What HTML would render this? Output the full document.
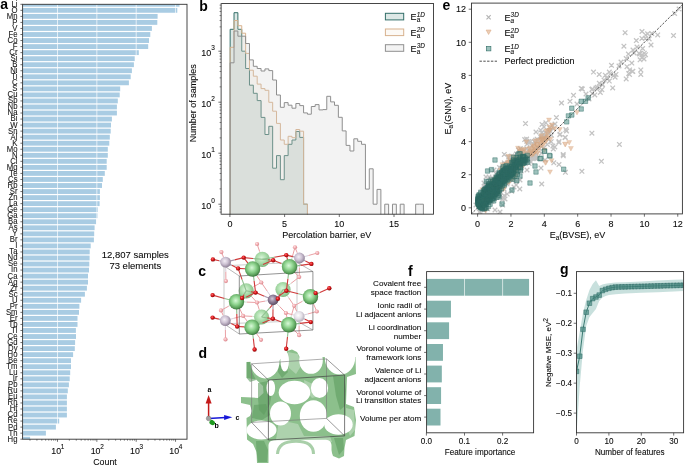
<!DOCTYPE html>
<html><head><meta charset="utf-8"><style>
html,body{margin:0;padding:0;background:#fff;width:685px;height:466px;overflow:hidden}
svg{display:block;will-change:transform}
text{font-family:"Liberation Sans", sans-serif}
text:not([font-weight="bold"]){stroke:#000;stroke-width:0.16px;stroke-opacity:0.5}
</style></head><body>
<svg width="685" height="466" viewBox="0 0 685 466">
<rect width="685" height="466" fill="#fff"/>
<clipPath id="ca"><rect x="22.6" y="4.3" width="164.4" height="434.9"/></clipPath>
<g clip-path="url(#ca)">
<rect x="22.6" y="1.88" width="156.90" height="4.83" fill="#a9cce3"/>
<rect x="22.6" y="7.92" width="154.70" height="4.83" fill="#a9cce3"/>
<rect x="22.6" y="13.96" width="135.00" height="4.83" fill="#a9cce3"/>
<rect x="22.6" y="20.00" width="134.70" height="4.83" fill="#a9cce3"/>
<rect x="22.6" y="26.05" width="129.30" height="4.83" fill="#a9cce3"/>
<rect x="22.6" y="32.09" width="127.70" height="4.83" fill="#a9cce3"/>
<rect x="22.6" y="38.13" width="126.40" height="4.83" fill="#a9cce3"/>
<rect x="22.6" y="44.17" width="125.60" height="4.83" fill="#a9cce3"/>
<rect x="22.6" y="50.21" width="116.20" height="4.83" fill="#a9cce3"/>
<rect x="22.6" y="56.25" width="112.10" height="4.83" fill="#a9cce3"/>
<rect x="22.6" y="62.29" width="111.30" height="4.83" fill="#a9cce3"/>
<rect x="22.6" y="68.33" width="109.30" height="4.83" fill="#a9cce3"/>
<rect x="22.6" y="74.37" width="108.10" height="4.83" fill="#a9cce3"/>
<rect x="22.6" y="80.41" width="106.30" height="4.83" fill="#a9cce3"/>
<rect x="22.6" y="86.45" width="97.60" height="4.83" fill="#a9cce3"/>
<rect x="22.6" y="92.49" width="97.10" height="4.83" fill="#a9cce3"/>
<rect x="22.6" y="98.53" width="95.20" height="4.83" fill="#a9cce3"/>
<rect x="22.6" y="104.57" width="94.30" height="4.83" fill="#a9cce3"/>
<rect x="22.6" y="110.61" width="94.30" height="4.83" fill="#a9cce3"/>
<rect x="22.6" y="116.65" width="89.30" height="4.83" fill="#a9cce3"/>
<rect x="22.6" y="122.69" width="88.40" height="4.83" fill="#a9cce3"/>
<rect x="22.6" y="128.73" width="88.10" height="4.83" fill="#a9cce3"/>
<rect x="22.6" y="134.77" width="87.20" height="4.83" fill="#a9cce3"/>
<rect x="22.6" y="140.81" width="86.70" height="4.83" fill="#a9cce3"/>
<rect x="22.6" y="146.85" width="85.20" height="4.83" fill="#a9cce3"/>
<rect x="22.6" y="152.89" width="85.20" height="4.83" fill="#a9cce3"/>
<rect x="22.6" y="158.93" width="84.10" height="4.83" fill="#a9cce3"/>
<rect x="22.6" y="164.97" width="84.10" height="4.83" fill="#a9cce3"/>
<rect x="22.6" y="171.01" width="82.20" height="4.83" fill="#a9cce3"/>
<rect x="22.6" y="177.05" width="80.20" height="4.83" fill="#a9cce3"/>
<rect x="22.6" y="183.09" width="79.40" height="4.83" fill="#a9cce3"/>
<rect x="22.6" y="189.13" width="77.30" height="4.83" fill="#a9cce3"/>
<rect x="22.6" y="195.17" width="77.30" height="4.83" fill="#a9cce3"/>
<rect x="22.6" y="201.21" width="77.00" height="4.83" fill="#a9cce3"/>
<rect x="22.6" y="207.25" width="75.20" height="4.83" fill="#a9cce3"/>
<rect x="22.6" y="213.29" width="74.90" height="4.83" fill="#a9cce3"/>
<rect x="22.6" y="219.33" width="73.50" height="4.83" fill="#a9cce3"/>
<rect x="22.6" y="225.37" width="72.00" height="4.83" fill="#a9cce3"/>
<rect x="22.6" y="231.41" width="71.60" height="4.83" fill="#a9cce3"/>
<rect x="22.6" y="237.45" width="71.30" height="4.83" fill="#a9cce3"/>
<rect x="22.6" y="243.50" width="68.10" height="4.83" fill="#a9cce3"/>
<rect x="22.6" y="249.54" width="67.10" height="4.83" fill="#a9cce3"/>
<rect x="22.6" y="255.58" width="67.00" height="4.83" fill="#a9cce3"/>
<rect x="22.6" y="261.62" width="66.70" height="4.83" fill="#a9cce3"/>
<rect x="22.6" y="267.66" width="66.40" height="4.83" fill="#a9cce3"/>
<rect x="22.6" y="273.70" width="65.40" height="4.83" fill="#a9cce3"/>
<rect x="22.6" y="279.74" width="65.40" height="4.83" fill="#a9cce3"/>
<rect x="22.6" y="285.78" width="64.30" height="4.83" fill="#a9cce3"/>
<rect x="22.6" y="291.82" width="62.30" height="4.83" fill="#a9cce3"/>
<rect x="22.6" y="297.86" width="58.50" height="4.83" fill="#a9cce3"/>
<rect x="22.6" y="303.90" width="56.80" height="4.83" fill="#a9cce3"/>
<rect x="22.6" y="309.94" width="56.40" height="4.83" fill="#a9cce3"/>
<rect x="22.6" y="315.98" width="54.90" height="4.83" fill="#a9cce3"/>
<rect x="22.6" y="322.02" width="54.90" height="4.83" fill="#a9cce3"/>
<rect x="22.6" y="328.06" width="53.30" height="4.83" fill="#a9cce3"/>
<rect x="22.6" y="334.10" width="53.40" height="4.83" fill="#a9cce3"/>
<rect x="22.6" y="340.14" width="52.50" height="4.83" fill="#a9cce3"/>
<rect x="22.6" y="346.18" width="52.20" height="4.83" fill="#a9cce3"/>
<rect x="22.6" y="352.22" width="50.50" height="4.83" fill="#a9cce3"/>
<rect x="22.6" y="358.26" width="48.40" height="4.83" fill="#a9cce3"/>
<rect x="22.6" y="364.30" width="48.40" height="4.83" fill="#a9cce3"/>
<rect x="22.6" y="370.34" width="47.60" height="4.83" fill="#a9cce3"/>
<rect x="22.6" y="376.38" width="47.10" height="4.83" fill="#a9cce3"/>
<rect x="22.6" y="382.42" width="46.30" height="4.83" fill="#a9cce3"/>
<rect x="22.6" y="388.46" width="45.20" height="4.83" fill="#a9cce3"/>
<rect x="22.6" y="394.50" width="44.30" height="4.83" fill="#a9cce3"/>
<rect x="22.6" y="400.54" width="44.30" height="4.83" fill="#a9cce3"/>
<rect x="22.6" y="406.58" width="44.30" height="4.83" fill="#a9cce3"/>
<rect x="22.6" y="412.62" width="44.30" height="4.83" fill="#a9cce3"/>
<rect x="22.6" y="418.66" width="36.60" height="4.83" fill="#a9cce3"/>
<rect x="22.6" y="424.70" width="33.30" height="4.83" fill="#a9cce3"/>
<rect x="22.6" y="430.74" width="23.30" height="4.83" fill="#a9cce3"/>
<rect x="22.6" y="436.78" width="7.50" height="4.83" fill="#a9cce3"/>
<line x1="57.50" y1="4.30" x2="57.50" y2="439.20" stroke="#ffffff" stroke-width="0.9" opacity="0.75"/>
<line x1="96.85" y1="4.30" x2="96.85" y2="439.20" stroke="#ffffff" stroke-width="0.9" opacity="0.75"/>
<line x1="136.20" y1="4.30" x2="136.20" y2="439.20" stroke="#ffffff" stroke-width="0.9" opacity="0.75"/>
<line x1="175.55" y1="4.30" x2="175.55" y2="439.20" stroke="#ffffff" stroke-width="0.9" opacity="0.75"/>
</g>
<rect x="22.60" y="4.30" width="164.40" height="434.90" fill="none" stroke="#333" stroke-width="0.9"/>
<line x1="20.40" y1="4.30" x2="22.60" y2="4.30" stroke="#333" stroke-width="0.7" />
<text transform="translate(17.5,6.70) scale(0.88,1)" font-size="8.8" text-anchor="end" fill="#1a1a1a">Li</text>
<line x1="20.40" y1="10.34" x2="22.60" y2="10.34" stroke="#333" stroke-width="0.7" />
<text transform="translate(17.5,12.74) scale(0.88,1)" font-size="8.8" text-anchor="end" fill="#1a1a1a">O</text>
<line x1="20.40" y1="16.38" x2="22.60" y2="16.38" stroke="#333" stroke-width="0.7" />
<text transform="translate(17.5,18.78) scale(0.88,1)" font-size="8.8" text-anchor="end" fill="#1a1a1a">Mn</text>
<line x1="20.40" y1="22.42" x2="22.60" y2="22.42" stroke="#333" stroke-width="0.7" />
<text transform="translate(17.5,24.82) scale(0.88,1)" font-size="8.8" text-anchor="end" fill="#1a1a1a">P</text>
<line x1="20.40" y1="28.46" x2="22.60" y2="28.46" stroke="#333" stroke-width="0.7" />
<text transform="translate(17.5,30.86) scale(0.88,1)" font-size="8.8" text-anchor="end" fill="#1a1a1a">V</text>
<line x1="20.40" y1="34.50" x2="22.60" y2="34.50" stroke="#333" stroke-width="0.7" />
<text transform="translate(17.5,36.90) scale(0.88,1)" font-size="8.8" text-anchor="end" fill="#1a1a1a">Fe</text>
<line x1="20.40" y1="40.54" x2="22.60" y2="40.54" stroke="#333" stroke-width="0.7" />
<text transform="translate(17.5,42.94) scale(0.88,1)" font-size="8.8" text-anchor="end" fill="#1a1a1a">Co</text>
<line x1="20.40" y1="46.58" x2="22.60" y2="46.58" stroke="#333" stroke-width="0.7" />
<text transform="translate(17.5,48.98) scale(0.88,1)" font-size="8.8" text-anchor="end" fill="#1a1a1a">F</text>
<line x1="20.40" y1="52.62" x2="22.60" y2="52.62" stroke="#333" stroke-width="0.7" />
<text transform="translate(17.5,55.02) scale(0.88,1)" font-size="8.8" text-anchor="end" fill="#1a1a1a">Cr</text>
<line x1="20.40" y1="58.66" x2="22.60" y2="58.66" stroke="#333" stroke-width="0.7" />
<text transform="translate(17.5,61.06) scale(0.88,1)" font-size="8.8" text-anchor="end" fill="#1a1a1a">Si</text>
<line x1="20.40" y1="64.70" x2="22.60" y2="64.70" stroke="#333" stroke-width="0.7" />
<text transform="translate(17.5,67.10) scale(0.88,1)" font-size="8.8" text-anchor="end" fill="#1a1a1a">B</text>
<line x1="20.40" y1="70.74" x2="22.60" y2="70.74" stroke="#333" stroke-width="0.7" />
<text transform="translate(17.5,73.14) scale(0.88,1)" font-size="8.8" text-anchor="end" fill="#1a1a1a">Ni</text>
<line x1="20.40" y1="76.78" x2="22.60" y2="76.78" stroke="#333" stroke-width="0.7" />
<text transform="translate(17.5,79.18) scale(0.88,1)" font-size="8.8" text-anchor="end" fill="#1a1a1a">Ti</text>
<line x1="20.40" y1="82.82" x2="22.60" y2="82.82" stroke="#333" stroke-width="0.7" />
<text transform="translate(17.5,85.22) scale(0.88,1)" font-size="8.8" text-anchor="end" fill="#1a1a1a">C</text>
<line x1="20.40" y1="88.86" x2="22.60" y2="88.86" stroke="#333" stroke-width="0.7" />
<text transform="translate(17.5,91.26) scale(0.88,1)" font-size="8.8" text-anchor="end" fill="#1a1a1a">S</text>
<line x1="20.40" y1="94.90" x2="22.60" y2="94.90" stroke="#333" stroke-width="0.7" />
<text transform="translate(17.5,97.30) scale(0.88,1)" font-size="8.8" text-anchor="end" fill="#1a1a1a">Cu</text>
<line x1="20.40" y1="100.94" x2="22.60" y2="100.94" stroke="#333" stroke-width="0.7" />
<text transform="translate(17.5,103.34) scale(0.88,1)" font-size="8.8" text-anchor="end" fill="#1a1a1a">Sb</text>
<line x1="20.40" y1="106.98" x2="22.60" y2="106.98" stroke="#333" stroke-width="0.7" />
<text transform="translate(17.5,109.38) scale(0.88,1)" font-size="8.8" text-anchor="end" fill="#1a1a1a">Nb</text>
<line x1="20.40" y1="113.02" x2="22.60" y2="113.02" stroke="#333" stroke-width="0.7" />
<text transform="translate(17.5,115.42) scale(0.88,1)" font-size="8.8" text-anchor="end" fill="#1a1a1a">Na</text>
<line x1="20.40" y1="119.07" x2="22.60" y2="119.07" stroke="#333" stroke-width="0.7" />
<text transform="translate(17.5,121.47) scale(0.88,1)" font-size="8.8" text-anchor="end" fill="#1a1a1a">Bi</text>
<line x1="20.40" y1="125.11" x2="22.60" y2="125.11" stroke="#333" stroke-width="0.7" />
<text transform="translate(17.5,127.51) scale(0.88,1)" font-size="8.8" text-anchor="end" fill="#1a1a1a">W</text>
<line x1="20.40" y1="131.15" x2="22.60" y2="131.15" stroke="#333" stroke-width="0.7" />
<text transform="translate(17.5,133.55) scale(0.88,1)" font-size="8.8" text-anchor="end" fill="#1a1a1a">Sn</text>
<line x1="20.40" y1="137.19" x2="22.60" y2="137.19" stroke="#333" stroke-width="0.7" />
<text transform="translate(17.5,139.59) scale(0.88,1)" font-size="8.8" text-anchor="end" fill="#1a1a1a">Al</text>
<line x1="20.40" y1="143.23" x2="22.60" y2="143.23" stroke="#333" stroke-width="0.7" />
<text transform="translate(17.5,145.63) scale(0.88,1)" font-size="8.8" text-anchor="end" fill="#1a1a1a">K</text>
<line x1="20.40" y1="149.27" x2="22.60" y2="149.27" stroke="#333" stroke-width="0.7" />
<text transform="translate(17.5,151.67) scale(0.88,1)" font-size="8.8" text-anchor="end" fill="#1a1a1a">Mo</text>
<line x1="20.40" y1="155.31" x2="22.60" y2="155.31" stroke="#333" stroke-width="0.7" />
<text transform="translate(17.5,157.71) scale(0.88,1)" font-size="8.8" text-anchor="end" fill="#1a1a1a">N</text>
<line x1="20.40" y1="161.35" x2="22.60" y2="161.35" stroke="#333" stroke-width="0.7" />
<text transform="translate(17.5,163.75) scale(0.88,1)" font-size="8.8" text-anchor="end" fill="#1a1a1a">Cl</text>
<line x1="20.40" y1="167.39" x2="22.60" y2="167.39" stroke="#333" stroke-width="0.7" />
<text transform="translate(17.5,169.79) scale(0.88,1)" font-size="8.8" text-anchor="end" fill="#1a1a1a">Mg</text>
<line x1="20.40" y1="173.43" x2="22.60" y2="173.43" stroke="#333" stroke-width="0.7" />
<text transform="translate(17.5,175.83) scale(0.88,1)" font-size="8.8" text-anchor="end" fill="#1a1a1a">Te</text>
<line x1="20.40" y1="179.47" x2="22.60" y2="179.47" stroke="#333" stroke-width="0.7" />
<text transform="translate(17.5,181.87) scale(0.88,1)" font-size="8.8" text-anchor="end" fill="#1a1a1a">Cs</text>
<line x1="20.40" y1="185.51" x2="22.60" y2="185.51" stroke="#333" stroke-width="0.7" />
<text transform="translate(17.5,187.91) scale(0.88,1)" font-size="8.8" text-anchor="end" fill="#1a1a1a">Rb</text>
<line x1="20.40" y1="191.55" x2="22.60" y2="191.55" stroke="#333" stroke-width="0.7" />
<text transform="translate(17.5,193.95) scale(0.88,1)" font-size="8.8" text-anchor="end" fill="#1a1a1a">Sr</text>
<line x1="20.40" y1="197.59" x2="22.60" y2="197.59" stroke="#333" stroke-width="0.7" />
<text transform="translate(17.5,199.99) scale(0.88,1)" font-size="8.8" text-anchor="end" fill="#1a1a1a">Zn</text>
<line x1="20.40" y1="203.63" x2="22.60" y2="203.63" stroke="#333" stroke-width="0.7" />
<text transform="translate(17.5,206.03) scale(0.88,1)" font-size="8.8" text-anchor="end" fill="#1a1a1a">La</text>
<line x1="20.40" y1="209.67" x2="22.60" y2="209.67" stroke="#333" stroke-width="0.7" />
<text transform="translate(17.5,212.07) scale(0.88,1)" font-size="8.8" text-anchor="end" fill="#1a1a1a">Ge</text>
<line x1="20.40" y1="215.71" x2="22.60" y2="215.71" stroke="#333" stroke-width="0.7" />
<text transform="translate(17.5,218.11) scale(0.88,1)" font-size="8.8" text-anchor="end" fill="#1a1a1a">Ga</text>
<line x1="20.40" y1="221.75" x2="22.60" y2="221.75" stroke="#333" stroke-width="0.7" />
<text transform="translate(17.5,224.15) scale(0.88,1)" font-size="8.8" text-anchor="end" fill="#1a1a1a">Ba</text>
<line x1="20.40" y1="227.79" x2="22.60" y2="227.79" stroke="#333" stroke-width="0.7" />
<text transform="translate(17.5,230.19) scale(0.88,1)" font-size="8.8" text-anchor="end" fill="#1a1a1a">As</text>
<line x1="20.40" y1="233.83" x2="22.60" y2="233.83" stroke="#333" stroke-width="0.7" />
<text transform="translate(17.5,236.23) scale(0.88,1)" font-size="8.8" text-anchor="end" fill="#1a1a1a">Y</text>
<line x1="20.40" y1="239.87" x2="22.60" y2="239.87" stroke="#333" stroke-width="0.7" />
<text transform="translate(17.5,242.27) scale(0.88,1)" font-size="8.8" text-anchor="end" fill="#1a1a1a">Br</text>
<line x1="20.40" y1="245.91" x2="22.60" y2="245.91" stroke="#333" stroke-width="0.7" />
<text transform="translate(17.5,248.31) scale(0.88,1)" font-size="8.8" text-anchor="end" fill="#1a1a1a">I</text>
<line x1="20.40" y1="251.95" x2="22.60" y2="251.95" stroke="#333" stroke-width="0.7" />
<text transform="translate(17.5,254.35) scale(0.88,1)" font-size="8.8" text-anchor="end" fill="#1a1a1a">Ta</text>
<line x1="20.40" y1="257.99" x2="22.60" y2="257.99" stroke="#333" stroke-width="0.7" />
<text transform="translate(17.5,260.39) scale(0.88,1)" font-size="8.8" text-anchor="end" fill="#1a1a1a">Nd</text>
<line x1="20.40" y1="264.03" x2="22.60" y2="264.03" stroke="#333" stroke-width="0.7" />
<text transform="translate(17.5,266.43) scale(0.88,1)" font-size="8.8" text-anchor="end" fill="#1a1a1a">Se</text>
<line x1="20.40" y1="270.07" x2="22.60" y2="270.07" stroke="#333" stroke-width="0.7" />
<text transform="translate(17.5,272.47) scale(0.88,1)" font-size="8.8" text-anchor="end" fill="#1a1a1a">In</text>
<line x1="20.40" y1="276.11" x2="22.60" y2="276.11" stroke="#333" stroke-width="0.7" />
<text transform="translate(17.5,278.51) scale(0.88,1)" font-size="8.8" text-anchor="end" fill="#1a1a1a">Ca</text>
<line x1="20.40" y1="282.15" x2="22.60" y2="282.15" stroke="#333" stroke-width="0.7" />
<text transform="translate(17.5,284.55) scale(0.88,1)" font-size="8.8" text-anchor="end" fill="#1a1a1a">Ag</text>
<line x1="20.40" y1="288.19" x2="22.60" y2="288.19" stroke="#333" stroke-width="0.7" />
<text transform="translate(17.5,290.59) scale(0.88,1)" font-size="8.8" text-anchor="end" fill="#1a1a1a">Zr</text>
<line x1="20.40" y1="294.23" x2="22.60" y2="294.23" stroke="#333" stroke-width="0.7" />
<text transform="translate(17.5,296.63) scale(0.88,1)" font-size="8.8" text-anchor="end" fill="#1a1a1a">Sc</text>
<line x1="20.40" y1="300.27" x2="22.60" y2="300.27" stroke="#333" stroke-width="0.7" />
<text transform="translate(17.5,302.67) scale(0.88,1)" font-size="8.8" text-anchor="end" fill="#1a1a1a">U</text>
<line x1="20.40" y1="306.31" x2="22.60" y2="306.31" stroke="#333" stroke-width="0.7" />
<text transform="translate(17.5,308.71) scale(0.88,1)" font-size="8.8" text-anchor="end" fill="#1a1a1a">Pr</text>
<line x1="20.40" y1="312.35" x2="22.60" y2="312.35" stroke="#333" stroke-width="0.7" />
<text transform="translate(17.5,314.75) scale(0.88,1)" font-size="8.8" text-anchor="end" fill="#1a1a1a">Sm</text>
<line x1="20.40" y1="318.39" x2="22.60" y2="318.39" stroke="#333" stroke-width="0.7" />
<text transform="translate(17.5,320.79) scale(0.88,1)" font-size="8.8" text-anchor="end" fill="#1a1a1a">Er</text>
<line x1="20.40" y1="324.43" x2="22.60" y2="324.43" stroke="#333" stroke-width="0.7" />
<text transform="translate(17.5,326.83) scale(0.88,1)" font-size="8.8" text-anchor="end" fill="#1a1a1a">Tb</text>
<line x1="20.40" y1="330.48" x2="22.60" y2="330.48" stroke="#333" stroke-width="0.7" />
<text transform="translate(17.5,332.88) scale(0.88,1)" font-size="8.8" text-anchor="end" fill="#1a1a1a">Tl</text>
<line x1="20.40" y1="336.52" x2="22.60" y2="336.52" stroke="#333" stroke-width="0.7" />
<text transform="translate(17.5,338.92) scale(0.88,1)" font-size="8.8" text-anchor="end" fill="#1a1a1a">Ce</text>
<line x1="20.40" y1="342.56" x2="22.60" y2="342.56" stroke="#333" stroke-width="0.7" />
<text transform="translate(17.5,344.96) scale(0.88,1)" font-size="8.8" text-anchor="end" fill="#1a1a1a">Gd</text>
<line x1="20.40" y1="348.60" x2="22.60" y2="348.60" stroke="#333" stroke-width="0.7" />
<text transform="translate(17.5,351.00) scale(0.88,1)" font-size="8.8" text-anchor="end" fill="#1a1a1a">Dy</text>
<line x1="20.40" y1="354.64" x2="22.60" y2="354.64" stroke="#333" stroke-width="0.7" />
<text transform="translate(17.5,357.04) scale(0.88,1)" font-size="8.8" text-anchor="end" fill="#1a1a1a">Ho</text>
<line x1="20.40" y1="360.68" x2="22.60" y2="360.68" stroke="#333" stroke-width="0.7" />
<text transform="translate(17.5,363.08) scale(0.88,1)" font-size="8.8" text-anchor="end" fill="#1a1a1a">Be</text>
<line x1="20.40" y1="366.72" x2="22.60" y2="366.72" stroke="#333" stroke-width="0.7" />
<text transform="translate(17.5,369.12) scale(0.88,1)" font-size="8.8" text-anchor="end" fill="#1a1a1a">Tm</text>
<line x1="20.40" y1="372.76" x2="22.60" y2="372.76" stroke="#333" stroke-width="0.7" />
<text transform="translate(17.5,375.16) scale(0.88,1)" font-size="8.8" text-anchor="end" fill="#1a1a1a">Lu</text>
<line x1="20.40" y1="378.80" x2="22.60" y2="378.80" stroke="#333" stroke-width="0.7" />
<text transform="translate(17.5,381.20) scale(0.88,1)" font-size="8.8" text-anchor="end" fill="#1a1a1a">Ir</text>
<line x1="20.40" y1="384.84" x2="22.60" y2="384.84" stroke="#333" stroke-width="0.7" />
<text transform="translate(17.5,387.24) scale(0.88,1)" font-size="8.8" text-anchor="end" fill="#1a1a1a">Pb</text>
<line x1="20.40" y1="390.88" x2="22.60" y2="390.88" stroke="#333" stroke-width="0.7" />
<text transform="translate(17.5,393.28) scale(0.88,1)" font-size="8.8" text-anchor="end" fill="#1a1a1a">Ru</text>
<line x1="20.40" y1="396.92" x2="22.60" y2="396.92" stroke="#333" stroke-width="0.7" />
<text transform="translate(17.5,399.32) scale(0.88,1)" font-size="8.8" text-anchor="end" fill="#1a1a1a">Eu</text>
<line x1="20.40" y1="402.96" x2="22.60" y2="402.96" stroke="#333" stroke-width="0.7" />
<text transform="translate(17.5,405.36) scale(0.88,1)" font-size="8.8" text-anchor="end" fill="#1a1a1a">Rh</text>
<line x1="20.40" y1="409.00" x2="22.60" y2="409.00" stroke="#333" stroke-width="0.7" />
<text transform="translate(17.5,411.40) scale(0.88,1)" font-size="8.8" text-anchor="end" fill="#1a1a1a">Hf</text>
<line x1="20.40" y1="415.04" x2="22.60" y2="415.04" stroke="#333" stroke-width="0.7" />
<text transform="translate(17.5,417.44) scale(0.88,1)" font-size="8.8" text-anchor="end" fill="#1a1a1a">Cd</text>
<line x1="20.40" y1="421.08" x2="22.60" y2="421.08" stroke="#333" stroke-width="0.7" />
<text transform="translate(17.5,423.48) scale(0.88,1)" font-size="8.8" text-anchor="end" fill="#1a1a1a">Re</text>
<line x1="20.40" y1="427.12" x2="22.60" y2="427.12" stroke="#333" stroke-width="0.7" />
<text transform="translate(17.5,429.52) scale(0.88,1)" font-size="8.8" text-anchor="end" fill="#1a1a1a">Pd</text>
<line x1="20.40" y1="433.16" x2="22.60" y2="433.16" stroke="#333" stroke-width="0.7" />
<text transform="translate(17.5,435.56) scale(0.88,1)" font-size="8.8" text-anchor="end" fill="#1a1a1a">Th</text>
<line x1="20.40" y1="439.20" x2="22.60" y2="439.20" stroke="#333" stroke-width="0.7" />
<text transform="translate(17.5,441.60) scale(0.88,1)" font-size="8.8" text-anchor="end" fill="#1a1a1a">Hg</text>
<line x1="30.00" y1="439.20" x2="30.00" y2="440.70" stroke="#333" stroke-width="0.6" />
<line x1="36.92" y1="439.20" x2="36.92" y2="440.70" stroke="#333" stroke-width="0.6" />
<line x1="41.84" y1="439.20" x2="41.84" y2="440.70" stroke="#333" stroke-width="0.6" />
<line x1="45.65" y1="439.20" x2="45.65" y2="440.70" stroke="#333" stroke-width="0.6" />
<line x1="48.77" y1="439.20" x2="48.77" y2="440.70" stroke="#333" stroke-width="0.6" />
<line x1="51.40" y1="439.20" x2="51.40" y2="440.70" stroke="#333" stroke-width="0.6" />
<line x1="53.69" y1="439.20" x2="53.69" y2="440.70" stroke="#333" stroke-width="0.6" />
<line x1="55.70" y1="439.20" x2="55.70" y2="440.70" stroke="#333" stroke-width="0.6" />
<line x1="57.50" y1="439.20" x2="57.50" y2="441.80" stroke="#333" stroke-width="0.7" />
<line x1="69.35" y1="439.20" x2="69.35" y2="440.70" stroke="#333" stroke-width="0.6" />
<line x1="76.27" y1="439.20" x2="76.27" y2="440.70" stroke="#333" stroke-width="0.6" />
<line x1="81.19" y1="439.20" x2="81.19" y2="440.70" stroke="#333" stroke-width="0.6" />
<line x1="85.00" y1="439.20" x2="85.00" y2="440.70" stroke="#333" stroke-width="0.6" />
<line x1="88.12" y1="439.20" x2="88.12" y2="440.70" stroke="#333" stroke-width="0.6" />
<line x1="90.75" y1="439.20" x2="90.75" y2="440.70" stroke="#333" stroke-width="0.6" />
<line x1="93.04" y1="439.20" x2="93.04" y2="440.70" stroke="#333" stroke-width="0.6" />
<line x1="95.05" y1="439.20" x2="95.05" y2="440.70" stroke="#333" stroke-width="0.6" />
<line x1="96.85" y1="439.20" x2="96.85" y2="441.80" stroke="#333" stroke-width="0.7" />
<line x1="108.70" y1="439.20" x2="108.70" y2="440.70" stroke="#333" stroke-width="0.6" />
<line x1="115.62" y1="439.20" x2="115.62" y2="440.70" stroke="#333" stroke-width="0.6" />
<line x1="120.54" y1="439.20" x2="120.54" y2="440.70" stroke="#333" stroke-width="0.6" />
<line x1="124.35" y1="439.20" x2="124.35" y2="440.70" stroke="#333" stroke-width="0.6" />
<line x1="127.47" y1="439.20" x2="127.47" y2="440.70" stroke="#333" stroke-width="0.6" />
<line x1="130.10" y1="439.20" x2="130.10" y2="440.70" stroke="#333" stroke-width="0.6" />
<line x1="132.39" y1="439.20" x2="132.39" y2="440.70" stroke="#333" stroke-width="0.6" />
<line x1="134.40" y1="439.20" x2="134.40" y2="440.70" stroke="#333" stroke-width="0.6" />
<line x1="136.20" y1="439.20" x2="136.20" y2="441.80" stroke="#333" stroke-width="0.7" />
<line x1="148.05" y1="439.20" x2="148.05" y2="440.70" stroke="#333" stroke-width="0.6" />
<line x1="154.97" y1="439.20" x2="154.97" y2="440.70" stroke="#333" stroke-width="0.6" />
<line x1="159.89" y1="439.20" x2="159.89" y2="440.70" stroke="#333" stroke-width="0.6" />
<line x1="163.70" y1="439.20" x2="163.70" y2="440.70" stroke="#333" stroke-width="0.6" />
<line x1="166.82" y1="439.20" x2="166.82" y2="440.70" stroke="#333" stroke-width="0.6" />
<line x1="169.45" y1="439.20" x2="169.45" y2="440.70" stroke="#333" stroke-width="0.6" />
<line x1="171.74" y1="439.20" x2="171.74" y2="440.70" stroke="#333" stroke-width="0.6" />
<line x1="173.75" y1="439.20" x2="173.75" y2="440.70" stroke="#333" stroke-width="0.6" />
<line x1="175.55" y1="439.20" x2="175.55" y2="441.80" stroke="#333" stroke-width="0.7" />
<text x="56.20" y="454.0" font-size="8.8" text-anchor="middle" fill="#0a0a0a">10</text>
<text x="60.80" y="448.5" font-size="6.4" text-anchor="start" fill="#0a0a0a">1</text>
<text x="95.55" y="454.0" font-size="8.8" text-anchor="middle" fill="#0a0a0a">10</text>
<text x="100.15" y="448.5" font-size="6.4" text-anchor="start" fill="#0a0a0a">2</text>
<text x="134.90" y="454.0" font-size="8.8" text-anchor="middle" fill="#0a0a0a">10</text>
<text x="139.50" y="448.5" font-size="6.4" text-anchor="start" fill="#0a0a0a">3</text>
<text x="174.25" y="454.0" font-size="8.8" text-anchor="middle" fill="#0a0a0a">10</text>
<text x="178.85" y="448.5" font-size="6.4" text-anchor="start" fill="#0a0a0a">4</text>
<text x="105.00" y="465.00" font-size="8.8" text-anchor="middle" font-weight="normal" fill="#0a0a0a" >Count</text>
<text x="0.30" y="8.80" font-size="14" text-anchor="start" font-weight="bold" fill="#000" >a</text>
<text x="135.30" y="257.60" font-size="9.5" text-anchor="middle" font-weight="normal" fill="#0a0a0a" >12,807 samples</text>
<text x="135.30" y="268.80" font-size="9.5" text-anchor="middle" font-weight="normal" fill="#0a0a0a" >73 elements</text>
<clipPath id="cb"><rect x="221.2" y="3.5" width="212.3" height="210.7"/></clipPath>
<g clip-path="url(#cb)">
<path d="M230.15,216.20L230.15,29.30L234.02,29.30L234.02,12.70L237.88,12.70L237.88,29.30L241.75,29.30L241.75,51.20L245.61,51.20L245.61,68.50L249.48,68.50L249.48,85.20L253.34,85.20L253.34,93.30L257.20,93.30L257.20,100.60L261.07,100.60L261.07,117.40L264.94,117.40L264.94,134.50L268.80,134.50L268.80,126.30L272.67,126.30L272.67,168.20L276.53,168.20L276.53,155.60L280.40,155.60L280.39,179.70L284.26,179.70L284.26,155.60L288.12,155.60L288.12,144.30L291.99,144.30L291.99,140.00L295.86,140.00L295.86,131.50L299.72,131.50L299.72,137.40L303.59,137.40L303.59,204.20L307.45,204.20L307.45,216.20Z" fill="#558b83" fill-opacity="0.2" stroke="#336f69" stroke-width="1.0"/>
<path d="M230.15,216.20L230.15,47.30L234.02,47.30L234.02,20.50L237.88,20.50L237.88,25.70L241.75,25.70L241.75,33.20L245.61,33.20L245.61,53.40L249.48,53.40L249.48,70.20L253.34,70.20L253.34,76.20L257.20,76.20L257.20,84.10L261.07,84.10L261.07,88.60L264.94,88.60L264.94,90.30L268.80,90.30L268.80,102.30L272.67,102.30L272.67,111.20L276.53,111.20L276.53,123.40L280.40,123.40L280.39,140.00L284.26,140.00L284.26,144.30L288.12,144.30L288.12,136.30L291.99,136.30L291.99,137.70L295.86,137.70L295.86,129.50L299.72,129.50L299.72,131.20L303.59,131.20L303.59,204.20L307.45,204.20L307.45,216.20Z" fill="#ead9c2" fill-opacity="0.16" stroke="#d8b28e" stroke-width="1.0"/>
<path d="M230.15,216.20L230.15,62.80L234.02,62.80L234.02,31.00L237.88,31.00L237.88,36.20L241.75,36.20L241.75,36.20L245.61,36.20L245.61,43.50L249.48,43.50L249.48,59.90L253.34,59.90L253.34,66.30L257.20,66.30L257.20,68.50L261.07,68.50L261.07,71.00L264.94,71.00L264.94,68.90L268.80,68.90L268.80,70.60L272.67,70.60L272.67,80.00L276.53,80.00L276.53,95.00L280.40,95.00L280.39,107.30L284.26,107.30L284.26,102.60L288.12,102.60L288.12,105.20L291.99,105.20L291.99,108.20L295.86,108.20L295.86,103.50L299.72,103.50L299.72,105.60L303.59,105.60L303.59,112.90L307.45,112.90L307.45,114.20L311.32,114.20L311.31,106.50L315.18,106.50L315.18,104.60L319.05,104.60L319.05,109.90L322.91,109.90L322.91,109.60L326.78,109.60L326.77,96.30L330.64,96.30L330.64,101.90L334.50,101.90L334.50,105.30L338.37,105.30L338.37,117.30L342.24,117.30L342.24,130.90L346.10,130.90L346.10,145.40L349.97,145.40L349.97,151.00L353.83,151.00L353.83,138.80L357.70,138.80L357.69,141.30L361.56,141.30L361.56,144.30L365.43,144.30L365.43,189.10L369.29,189.10L369.29,168.80L373.16,168.80L373.15,204.20L377.02,204.20L377.02,189.40L380.88,189.40L380.88,216.20ZM384.75,216.20L384.75,204.20L388.62,204.20L388.62,216.20ZM392.48,216.20L392.48,204.20L396.35,204.20L396.35,216.20ZM400.21,216.20L400.21,204.20L404.08,204.20L404.08,216.20ZM415.67,216.20L415.67,204.20L419.54,204.20L419.54,204.20L423.40,204.20L423.40,216.20Z" fill="#c9c9c9" fill-opacity="0.23" stroke="#8f8f8f" stroke-width="1.0"/>
</g>
<rect x="221.20" y="3.50" width="212.30" height="210.70" fill="none" stroke="#333" stroke-width="0.9"/>
<line x1="221.20" y1="3.50" x2="221.20" y2="214.20" stroke="#9a9a9a" stroke-width="1.0" />
<line x1="219.60" y1="212.10" x2="221.20" y2="212.10" stroke="#333" stroke-width="0.6" />
<line x1="219.60" y1="209.14" x2="221.20" y2="209.14" stroke="#333" stroke-width="0.6" />
<line x1="219.60" y1="206.53" x2="221.20" y2="206.53" stroke="#333" stroke-width="0.6" />
<line x1="218.40" y1="204.20" x2="221.20" y2="204.20" stroke="#333" stroke-width="0.7" />
<line x1="219.60" y1="188.85" x2="221.20" y2="188.85" stroke="#333" stroke-width="0.6" />
<line x1="219.60" y1="179.87" x2="221.20" y2="179.87" stroke="#333" stroke-width="0.6" />
<line x1="219.60" y1="173.49" x2="221.20" y2="173.49" stroke="#333" stroke-width="0.6" />
<line x1="219.60" y1="168.55" x2="221.20" y2="168.55" stroke="#333" stroke-width="0.6" />
<line x1="219.60" y1="164.51" x2="221.20" y2="164.51" stroke="#333" stroke-width="0.6" />
<line x1="219.60" y1="161.10" x2="221.20" y2="161.10" stroke="#333" stroke-width="0.6" />
<line x1="219.60" y1="158.14" x2="221.20" y2="158.14" stroke="#333" stroke-width="0.6" />
<line x1="219.60" y1="155.53" x2="221.20" y2="155.53" stroke="#333" stroke-width="0.6" />
<line x1="218.40" y1="153.20" x2="221.20" y2="153.20" stroke="#333" stroke-width="0.7" />
<line x1="219.60" y1="137.85" x2="221.20" y2="137.85" stroke="#333" stroke-width="0.6" />
<line x1="219.60" y1="128.87" x2="221.20" y2="128.87" stroke="#333" stroke-width="0.6" />
<line x1="219.60" y1="122.49" x2="221.20" y2="122.49" stroke="#333" stroke-width="0.6" />
<line x1="219.60" y1="117.55" x2="221.20" y2="117.55" stroke="#333" stroke-width="0.6" />
<line x1="219.60" y1="113.51" x2="221.20" y2="113.51" stroke="#333" stroke-width="0.6" />
<line x1="219.60" y1="110.10" x2="221.20" y2="110.10" stroke="#333" stroke-width="0.6" />
<line x1="219.60" y1="107.14" x2="221.20" y2="107.14" stroke="#333" stroke-width="0.6" />
<line x1="219.60" y1="104.53" x2="221.20" y2="104.53" stroke="#333" stroke-width="0.6" />
<line x1="218.40" y1="102.20" x2="221.20" y2="102.20" stroke="#333" stroke-width="0.7" />
<line x1="219.60" y1="86.85" x2="221.20" y2="86.85" stroke="#333" stroke-width="0.6" />
<line x1="219.60" y1="77.87" x2="221.20" y2="77.87" stroke="#333" stroke-width="0.6" />
<line x1="219.60" y1="71.49" x2="221.20" y2="71.49" stroke="#333" stroke-width="0.6" />
<line x1="219.60" y1="66.55" x2="221.20" y2="66.55" stroke="#333" stroke-width="0.6" />
<line x1="219.60" y1="62.51" x2="221.20" y2="62.51" stroke="#333" stroke-width="0.6" />
<line x1="219.60" y1="59.10" x2="221.20" y2="59.10" stroke="#333" stroke-width="0.6" />
<line x1="219.60" y1="56.14" x2="221.20" y2="56.14" stroke="#333" stroke-width="0.6" />
<line x1="219.60" y1="53.53" x2="221.20" y2="53.53" stroke="#333" stroke-width="0.6" />
<line x1="218.40" y1="51.20" x2="221.20" y2="51.20" stroke="#333" stroke-width="0.7" />
<line x1="219.60" y1="35.85" x2="221.20" y2="35.85" stroke="#333" stroke-width="0.6" />
<line x1="219.60" y1="26.87" x2="221.20" y2="26.87" stroke="#333" stroke-width="0.6" />
<line x1="219.60" y1="20.49" x2="221.20" y2="20.49" stroke="#333" stroke-width="0.6" />
<line x1="219.60" y1="15.55" x2="221.20" y2="15.55" stroke="#333" stroke-width="0.6" />
<line x1="219.60" y1="11.51" x2="221.20" y2="11.51" stroke="#333" stroke-width="0.6" />
<line x1="219.60" y1="8.10" x2="221.20" y2="8.10" stroke="#333" stroke-width="0.6" />
<line x1="219.60" y1="5.14" x2="221.20" y2="5.14" stroke="#333" stroke-width="0.6" />
<text x="211.2" y="208.50" font-size="9" text-anchor="end" fill="#0a0a0a">10</text>
<text x="211.2" y="202.90" font-size="6.5" fill="#0a0a0a">0</text>
<text x="211.2" y="157.50" font-size="9" text-anchor="end" fill="#0a0a0a">10</text>
<text x="211.2" y="151.90" font-size="6.5" fill="#0a0a0a">1</text>
<text x="211.2" y="106.50" font-size="9" text-anchor="end" fill="#0a0a0a">10</text>
<text x="211.2" y="100.90" font-size="6.5" fill="#0a0a0a">2</text>
<text x="211.2" y="55.50" font-size="9" text-anchor="end" fill="#0a0a0a">10</text>
<text x="211.2" y="49.90" font-size="6.5" fill="#0a0a0a">3</text>
<line x1="229.90" y1="214.20" x2="229.90" y2="217.00" stroke="#333" stroke-width="0.7" />
<text x="229.90" y="226.60" font-size="9" text-anchor="middle" font-weight="normal" fill="#0a0a0a" >0</text>
<line x1="284.60" y1="214.20" x2="284.60" y2="217.00" stroke="#333" stroke-width="0.7" />
<text x="284.60" y="226.60" font-size="9" text-anchor="middle" font-weight="normal" fill="#0a0a0a" >5</text>
<line x1="339.30" y1="214.20" x2="339.30" y2="217.00" stroke="#333" stroke-width="0.7" />
<text x="339.30" y="226.60" font-size="9" text-anchor="middle" font-weight="normal" fill="#0a0a0a" >10</text>
<line x1="394.00" y1="214.20" x2="394.00" y2="217.00" stroke="#333" stroke-width="0.7" />
<text x="394.00" y="226.60" font-size="9" text-anchor="middle" font-weight="normal" fill="#0a0a0a" >15</text>
<text x="326.80" y="237.90" font-size="9" text-anchor="middle" font-weight="normal" fill="#0a0a0a" >Percolation barrier, eV</text>
<text transform="translate(196.2,103.2) rotate(-90)" font-size="9" text-anchor="middle" fill="#0a0a0a">Number of samples</text>
<text x="199.30" y="10.60" font-size="14" text-anchor="start" font-weight="bold" fill="#000" >b</text>
<rect x="385.4" y="13.30" width="18.3" height="6.6" fill="#558b83" fill-opacity="0.2" stroke="#336f69" stroke-width="1.0"/>
<text x="410.6" y="20.10" font-size="9" fill="#0a0a0a">E</text>
<text x="416.8" y="22.20" font-size="6.4" fill="#0a0a0a">a</text>
<text x="416.8" y="16.60" font-size="6.4" font-style="italic" fill="#0a0a0a">1D</text>
<rect x="385.4" y="29.00" width="18.3" height="6.6" fill="#ead9c2" fill-opacity="0.16" stroke="#d8b28e" stroke-width="1.0"/>
<text x="410.6" y="35.80" font-size="9" fill="#0a0a0a">E</text>
<text x="416.8" y="37.90" font-size="6.4" fill="#0a0a0a">a</text>
<text x="416.8" y="32.30" font-size="6.4" font-style="italic" fill="#0a0a0a">2D</text>
<rect x="385.4" y="44.70" width="18.3" height="6.6" fill="#c9c9c9" fill-opacity="0.23" stroke="#8f8f8f" stroke-width="1.0"/>
<text x="410.6" y="51.50" font-size="9" fill="#0a0a0a">E</text>
<text x="416.8" y="53.60" font-size="6.4" fill="#0a0a0a">a</text>
<text x="416.8" y="48.00" font-size="6.4" font-style="italic" fill="#0a0a0a">3D</text>
<clipPath id="ce"><rect x="471.5" y="3.1" width="210.89999999999998" height="210.8"/></clipPath>
<g clip-path="url(#ce)">
<path d="M622.8,30.4L627.4,35.0M622.8,35.0L627.4,30.4M639.7,29.2L644.3,33.8M639.7,33.8L644.3,29.2M645.3,31.5L649.9,36.1M645.3,36.1L649.9,31.5M655.4,32.6L660.0,37.2M655.4,37.2L660.0,32.6M671.2,33.3L675.8,37.9M671.2,37.9L675.8,33.3M634.0,38.3L638.6,42.9M634.0,42.9L638.6,38.3M643.0,36.0L647.6,40.6M643.0,40.6L647.6,36.0M648.7,42.7L653.3,47.3M648.7,47.3L653.3,42.7M621.6,43.9L626.2,48.5M621.6,48.5L626.2,43.9M626.1,51.8L630.7,56.4M626.1,56.4L630.7,51.8M631.7,50.7L636.3,55.3M631.7,55.3L636.3,50.7M637.4,51.8L642.0,56.4M637.4,56.4L642.0,51.8M623.9,56.3L628.5,60.9M623.9,60.9L628.5,56.3M629.5,60.8L634.1,65.4M629.5,65.4L634.1,60.8M639.7,55.2L644.3,59.8M639.7,59.8L644.3,55.2M641.7,56.7L646.3,61.3M641.7,61.3L646.3,56.7M627.3,67.6L631.9,72.2M627.3,72.2L631.9,67.6M638.5,67.6L643.1,72.2M638.5,72.2L643.1,67.6M638.5,72.1L643.1,76.7M638.5,76.7L643.1,72.1M623.9,76.6L628.5,81.2M623.9,81.2L628.5,76.6M609.2,63.0L613.8,67.6M609.2,67.6L613.8,63.0M607.0,69.8L611.6,74.4M607.0,74.4L611.6,69.8M613.7,72.1L618.3,76.7M613.7,76.7L618.3,72.1M591.2,69.8L595.8,74.4M591.2,74.4L595.8,69.8M596.9,72.1L601.5,76.7M596.9,76.7L601.5,72.1M604.7,75.4L609.3,80.0M604.7,80.0L609.3,75.4M607.0,78.8L611.6,83.4M607.0,83.4L611.6,78.8M600.2,82.2L604.8,86.8M600.2,86.8L604.8,82.2M610.4,85.6L615.0,90.2M610.4,90.2L615.0,85.6M590.1,86.7L594.7,91.3M590.1,91.3L594.7,86.7M598.0,90.1L602.6,94.7M598.0,94.7L602.6,90.1M580.0,86.7L584.6,91.3M580.0,91.3L584.6,86.7M672.3,11.2L676.9,15.8M672.3,15.8L676.9,11.2M676.8,6.7L681.4,11.3M676.8,11.3L681.4,6.7M630.7,47.7L635.3,52.3M630.7,52.3L635.3,47.7M634.7,44.7L639.3,49.3M634.7,49.3L639.3,44.7M618.7,59.7L623.3,64.3M618.7,64.3L623.3,59.7M616.7,63.7L621.3,68.3M616.7,68.3L621.3,63.7M601.7,77.7L606.3,82.3M601.7,82.3L606.3,77.7M523.2,121.3L527.8,125.9M523.2,125.9L527.8,121.3M559.2,100.7L563.8,105.3M559.2,105.3L563.8,100.7M567.7,99.0L572.3,103.6M567.7,103.6L572.3,99.0M571.2,93.0L575.8,97.6M571.2,97.6L575.8,93.0M578.9,86.1L583.5,90.7M578.9,90.7L583.5,86.1M554.1,115.3L558.7,119.9M554.1,119.9L558.7,115.3M563.5,127.3L568.1,131.9M563.5,131.9L568.1,127.3M557.5,132.5L562.1,137.1M557.5,137.1L562.1,132.5M562.7,135.1L567.3,139.7M562.7,139.7L567.3,135.1M556.6,140.2L561.2,144.8M556.6,144.8L561.2,140.2M560.9,152.2L565.5,156.8M560.9,156.8L565.5,152.2M550.6,143.7L555.2,148.3M550.6,148.3L555.2,143.7M528.3,139.4L532.9,144.0M528.3,144.0L532.9,139.4M518.0,146.2L522.6,150.8M518.0,150.8L522.6,146.2M539.5,130.7L544.1,135.3M539.5,135.3L544.1,130.7M543.7,133.7L548.3,138.3M543.7,138.3L548.3,133.7M548.9,139.4L553.5,144.0M548.9,144.0L553.5,139.4M545.7,128.7L550.3,133.3M545.7,133.3L550.3,128.7M540.7,136.7L545.3,141.3M540.7,141.3L545.3,136.7M589.6,130.9L594.2,135.5M589.6,135.5L594.2,130.9M617.1,142.1L621.7,146.7M617.1,146.7L621.7,142.1M599.1,159.0L603.7,163.6M599.1,163.6L603.7,159.0M579.6,169.0L584.2,173.6M579.6,173.6L584.2,169.0M563.1,170.0L567.7,174.6M563.1,174.6L567.7,170.0M561.0,153.5L565.6,158.1M561.0,158.1L565.6,153.5M556.7,162.2L561.3,166.8M556.7,166.8L561.3,162.2M551.5,160.5L556.1,165.1M551.5,165.1L556.1,160.5M539.4,181.7L544.0,186.3M539.4,186.3L544.0,181.7M538.7,165.8L543.3,170.4M538.7,170.4L543.3,165.8M556.7,139.3L561.3,143.9M556.7,143.9L561.3,139.3M563.1,135.1L567.7,139.7M563.1,139.7L567.7,135.1M564.2,128.7L568.8,133.3M564.2,133.3L568.8,128.7M557.8,131.9L562.4,136.5M557.8,136.5L562.4,131.9M552.5,144.7L557.1,149.3M552.5,149.3L557.1,144.7M574.7,101.7L579.3,106.3M574.7,106.3L579.3,101.7M583.7,91.7L588.3,96.3M583.7,96.3L588.3,91.7M586.7,96.7L591.3,101.3M586.7,101.3L591.3,96.7M593.7,85.7L598.3,90.3M593.7,90.3L598.3,85.7M506.7,175.7L511.3,180.3M506.7,180.3L511.3,175.7M502.7,180.7L507.3,185.3M502.7,185.3L507.3,180.7M495.7,172.7L500.3,177.3M495.7,177.3L500.3,172.7M491.7,167.7L496.3,172.3M491.7,172.3L496.3,167.7M509.7,160.7L514.3,165.3M509.7,165.3L514.3,160.7M514.7,155.7L519.3,160.3M514.7,160.3L519.3,155.7M520.7,148.7L525.3,153.3M520.7,153.3L525.3,148.7M533.7,146.7L538.3,151.3M533.7,151.3L538.3,146.7M531.7,153.7L536.3,158.3M531.7,158.3L536.3,153.7M528.7,159.7L533.3,164.3M528.7,164.3L533.3,159.7M524.7,167.7L529.3,172.3M524.7,172.3L529.3,167.7M517.7,177.7L522.3,182.3M517.7,182.3L522.3,177.7M511.7,184.7L516.3,189.3M511.7,189.3L516.3,184.7M502.7,196.7L507.3,201.3M502.7,201.3L507.3,196.7M495.7,193.7L500.3,198.3M495.7,198.3L500.3,193.7M488.7,189.7L493.3,194.3M488.7,194.3L493.3,189.7M481.7,180.7L486.3,185.3M481.7,185.3L486.3,180.7M483.7,174.7L488.3,179.3M483.7,179.3L488.3,174.7M477.7,209.7L482.3,214.3M477.7,214.3L482.3,209.7M473.7,202.7L478.3,207.3M473.7,207.3L478.3,202.7M492.7,207.7L497.3,212.3M492.7,212.3L497.3,207.7M497.7,209.7L502.3,214.3M497.7,214.3L502.3,209.7M542.7,157.7L547.3,162.3M542.7,162.3L547.3,157.7M537.7,142.7L542.3,147.3M537.7,147.3L542.3,142.7M535.7,137.7L540.3,142.3M535.7,142.3L540.3,137.7M547.7,125.7L552.3,130.3M547.7,130.3L552.3,125.7M552.7,121.7L557.3,126.3M552.7,126.3L557.3,121.7M541.7,124.7L546.3,129.3M541.7,129.3L546.3,124.7M533.7,129.7L538.3,134.3M533.7,134.3L538.3,129.7M510.7,167.7L515.3,172.3M510.7,172.3L515.3,167.7M505.7,165.7L510.3,170.3M505.7,170.3L510.3,165.7M499.7,177.7L504.3,182.3M499.7,182.3L504.3,177.7M637.8,57.5L642.4,62.1M637.8,62.1L642.4,57.5M642.0,50.9L646.6,55.5M642.0,55.5L646.6,50.9M636.7,50.9L641.3,55.5M636.7,55.5L641.3,50.9M639.7,52.5L644.3,57.1M639.7,57.1L644.3,52.5M640.3,46.2L644.9,50.8M640.3,50.8L644.9,46.2M643.2,52.4L647.8,57.0M643.2,57.0L647.8,52.4M630.1,69.2L634.7,73.8M630.1,73.8L634.7,69.2M626.4,71.3L631.0,75.9M626.4,75.9L631.0,71.3M630.6,69.0L635.2,73.6M630.6,73.6L635.2,69.0M627.2,72.1L631.8,76.7M627.2,76.7L631.8,72.1M624.7,64.4L629.3,69.0M624.7,69.0L629.3,64.4M611.1,73.4L615.7,78.0M611.1,78.0L615.7,73.4M603.0,72.9L607.6,77.5M603.0,77.5L607.6,72.9M608.1,71.5L612.7,76.1M608.1,76.1L612.7,71.5M604.5,75.8L609.1,80.4M604.5,80.4L609.1,75.8M612.8,74.9L617.4,79.5M612.8,79.5L617.4,74.9M595.1,85.0L599.7,89.6M595.1,89.6L599.7,85.0M600.2,82.6L604.8,87.2M600.2,87.2L604.8,82.6M599.6,87.4L604.2,92.0M599.6,92.0L604.2,87.4M597.0,80.9L601.6,85.5M597.0,85.5L601.6,80.9M646.9,36.6L651.5,41.2M646.9,41.2L651.5,36.6M649.5,31.2L654.1,35.8M649.5,35.8L654.1,31.2M643.4,32.8L648.0,37.4M643.4,37.4L648.0,32.8M639.6,36.1L644.2,40.7M639.6,40.7L644.2,36.1M589.5,87.1L594.1,91.7M589.5,91.7L594.1,87.1M592.5,92.6L597.1,97.2M592.5,97.2L597.1,92.6M589.9,91.1L594.5,95.7M589.9,95.7L594.5,91.1M485.6,182.9L490.2,187.5M485.6,187.5L490.2,182.9M506.5,157.3L511.1,161.9M506.5,161.9L511.1,157.3M497.2,165.2L501.8,169.8M497.2,169.8L501.8,165.2M503.6,166.9L508.2,171.5M503.6,171.5L508.2,166.9M485.8,183.3L490.4,187.9M485.8,187.9L490.4,183.3M521.3,148.8L525.9,153.4M521.3,153.4L525.9,148.8M522.4,137.3L527.0,141.9M522.4,141.9L527.0,137.3M490.9,179.2L495.5,183.8M490.9,183.8L495.5,179.2M514.0,151.7L518.6,156.3M514.0,156.3L518.6,151.7M526.5,139.1L531.1,143.7M526.5,143.7L531.1,139.1M515.6,151.8L520.2,156.4M515.6,156.4L520.2,151.8M490.6,176.2L495.2,180.8M490.6,180.8L495.2,176.2M496.2,170.5L500.8,175.1M496.2,175.1L500.8,170.5M482.7,184.2L487.3,188.8M482.7,188.8L487.3,184.2M510.9,158.1L515.5,162.7M510.9,162.7L515.5,158.1M521.0,149.0L525.6,153.6M521.0,153.6L525.6,149.0M521.3,148.6L525.9,153.2M521.3,153.2L525.9,148.6M493.0,174.6L497.6,179.2M493.0,179.2L497.6,174.6M502.0,160.6L506.6,165.2M502.0,165.2L506.6,160.6M499.4,166.0L504.0,170.6M499.4,170.6L504.0,166.0M508.3,154.5L512.9,159.1M508.3,159.1L512.9,154.5M499.2,167.5L503.8,172.1M499.2,172.1L503.8,167.5M504.6,163.1L509.2,167.7M504.6,167.7L509.2,163.1M524.5,139.0L529.1,143.6M524.5,143.6L529.1,139.0M501.4,169.0L506.0,173.6M501.4,173.6L506.0,169.0M524.4,146.5L529.0,151.1M524.4,151.1L529.0,146.5M519.0,147.9L523.6,152.5M519.0,152.5L523.6,147.9M501.4,169.1L506.0,173.7M501.4,173.7L506.0,169.1M492.2,176.7L496.8,181.3M492.2,181.3L496.8,176.7M506.4,154.6L511.0,159.2M506.4,159.2L511.0,154.6M498.5,167.1L503.1,171.7M498.5,171.7L503.1,167.1M512.9,153.8L517.5,158.4M512.9,158.4L517.5,153.8M481.7,187.6L486.3,192.2M481.7,192.2L486.3,187.6M517.5,149.9L522.1,154.5M517.5,154.5L522.1,149.9M506.3,161.9L510.9,166.5M506.3,166.5L510.9,161.9M507.9,159.7L512.5,164.3M507.9,164.3L512.5,159.7M524.3,136.8L528.9,141.4M524.3,141.4L528.9,136.8M507.6,156.1L512.2,160.7M507.6,160.7L512.2,156.1M508.5,161.9L513.1,166.5M508.5,166.5L513.1,161.9M486.0,182.7L490.6,187.3M486.0,187.3L490.6,182.7M488.5,177.6L493.1,182.2M488.5,182.2L493.1,177.6M511.0,154.1L515.6,158.7M511.0,158.7L515.6,154.1M508.9,157.0L513.5,161.6M508.9,161.6L513.5,157.0M484.9,185.2L489.5,189.8M484.9,189.8L489.5,185.2M484.1,185.2L488.7,189.8M484.1,189.8L488.7,185.2M484.1,181.9L488.7,186.5M484.1,186.5L488.7,181.9M485.3,185.2L489.9,189.8M485.3,189.8L489.9,185.2M517.2,153.1L521.8,157.7M517.2,157.7L521.8,153.1M516.2,147.8L520.8,152.4M516.2,152.4L520.8,147.8M494.2,172.2L498.8,176.8M494.2,176.8L498.8,172.2M483.9,184.0L488.5,188.6M483.9,188.6L488.5,184.0M508.5,158.9L513.1,163.5M508.5,163.5L513.1,158.9M483.0,184.6L487.6,189.2M483.0,189.2L487.6,184.6M507.9,160.9L512.5,165.5M507.9,165.5L512.5,160.9M482.8,187.5L487.4,192.1M482.8,192.1L487.4,187.5M493.7,175.7L498.3,180.3M493.7,180.3L498.3,175.7M506.4,163.7L511.0,168.3M506.4,168.3L511.0,163.7M509.4,153.7L514.0,158.3M509.4,158.3L514.0,153.7M491.5,176.6L496.1,181.2M491.5,181.2L496.1,176.6M508.2,161.8L512.8,166.4M508.2,166.4L512.8,161.8M510.7,157.6L515.3,162.2M510.7,162.2L515.3,157.6M496.6,173.5L501.2,178.1M496.6,178.1L501.2,173.5M484.3,182.1L488.9,186.7M484.3,186.7L488.9,182.1M502.2,163.3L506.8,167.9M502.2,167.9L506.8,163.3M507.8,160.8L512.4,165.4M507.8,165.4L512.4,160.8M486.4,181.2L491.0,185.8M486.4,185.8L491.0,181.2M483.3,182.5L487.9,187.1M483.3,187.1L487.9,182.5M484.3,180.7L488.9,185.3M484.3,185.3L488.9,180.7M502.0,162.0L506.6,166.6M502.0,166.6L506.6,162.0M481.9,185.7L486.5,190.3M481.9,190.3L486.5,185.7M500.4,202.8L505.0,207.4M500.4,207.4L505.0,202.8M500.1,197.0L504.7,201.6M500.1,201.6L504.7,197.0M504.9,191.8L509.5,196.4M504.9,196.4L509.5,191.8M509.4,188.9L514.0,193.5M509.4,193.5L514.0,188.9M513.9,182.7L518.5,187.3M513.9,187.3L518.5,182.7M501.8,193.1L506.4,197.7M501.8,197.7L506.4,193.1M501.3,195.6L505.9,200.2M501.3,200.2L505.9,195.6M514.3,178.7L518.9,183.3M514.3,183.3L518.9,178.7M509.8,158.7L514.4,163.3M509.8,163.3L514.4,158.7M502.7,172.2L507.3,176.8M502.7,176.8L507.3,172.2M477.6,199.1L482.2,203.7M477.6,203.7L482.2,199.1M489.1,189.0L493.7,193.6M489.1,193.6L493.7,189.0M486.9,197.7L491.5,202.3M486.9,202.3L491.5,197.7M497.7,185.5L502.3,190.1M497.7,190.1L502.3,185.5M502.4,173.7L507.0,178.3M502.4,178.3L507.0,173.7M500.4,183.3L505.0,187.9M500.4,187.9L505.0,183.3M512.8,167.2L517.4,171.8M512.8,171.8L517.4,167.2M490.0,193.1L494.6,197.7M490.0,197.7L494.6,193.1M517.1,159.7L521.7,164.3M517.1,164.3L521.7,159.7M478.4,192.7L483.0,197.3M478.4,197.3L483.0,192.7M499.9,181.7L504.5,186.3M499.9,186.3L504.5,181.7M481.8,195.5L486.4,200.1M481.8,200.1L486.4,195.5M480.1,201.1L484.7,205.7M480.1,205.7L484.7,201.1M518.2,158.6L522.8,163.2M518.2,163.2L522.8,158.6M488.5,195.4L493.1,200.0M488.5,200.0L493.1,195.4M496.1,178.9L500.7,183.5M496.1,183.5L500.7,178.9M539.9,136.6L544.5,141.2M539.9,141.2L544.5,136.6M485.5,183.3L490.1,187.9M485.5,187.9L490.1,183.3M525.9,147.8L530.5,152.4M525.9,152.4L530.5,147.8M483.9,195.1L488.5,199.7M483.9,199.7L488.5,195.1M492.2,182.6L496.8,187.2M492.2,187.2L496.8,182.6M484.0,194.0L488.6,198.6M484.0,198.6L488.6,194.0M497.2,181.7L501.8,186.3M497.2,186.3L501.8,181.7M489.5,185.1L494.1,189.7M489.5,189.7L494.1,185.1M486.4,199.8L491.0,204.4M486.4,204.4L491.0,199.8M489.9,196.7L494.5,201.3M489.9,201.3L494.5,196.7M519.1,160.3L523.7,164.9M519.1,164.9L523.7,160.3M542.9,130.0L547.5,134.6M542.9,134.6L547.5,130.0M486.7,191.4L491.3,196.0M486.7,196.0L491.3,191.4M518.8,152.8L523.4,157.4M518.8,157.4L523.4,152.8M483.2,195.0L487.8,199.6M483.2,199.6L487.8,195.0M502.3,177.3L506.9,181.9M502.3,181.9L506.9,177.3M488.9,186.0L493.5,190.6M488.9,190.6L493.5,186.0M495.3,181.7L499.9,186.3M495.3,186.3L499.9,181.7M492.7,185.5L497.3,190.1M492.7,190.1L497.3,185.5M487.1,183.3L491.7,187.9M487.1,187.9L491.7,183.3M476.5,201.7L481.1,206.3M476.5,206.3L481.1,201.7M506.3,170.0L510.9,174.6M506.3,174.6L510.9,170.0M502.0,172.2L506.6,176.8M502.0,176.8L506.6,172.2M518.8,168.7L523.4,173.3M518.8,173.3L523.4,168.7M511.2,174.4L515.8,179.0M511.2,179.0L515.8,174.4M484.3,199.6L488.9,204.2M484.3,204.2L488.9,199.6M486.4,193.0L491.0,197.6M486.4,197.6L491.0,193.0M485.8,191.0L490.4,195.6M485.8,195.6L490.4,191.0M496.2,176.7L500.8,181.3M496.2,181.3L500.8,176.7M477.1,209.8L481.7,214.4M477.1,214.4L481.7,209.8M495.8,184.7L500.4,189.3M495.8,189.3L500.4,184.7M502.0,152.1L506.6,156.7M502.0,156.7L506.6,152.1M484.1,185.2L488.7,189.8M484.1,189.8L488.7,185.2M505.5,169.7L510.1,174.3M505.5,174.3L510.1,169.7M543.6,120.5L548.2,125.1M543.6,125.1L548.2,120.5M498.5,183.0L503.1,187.6M498.5,187.6L503.1,183.0M501.6,184.1L506.2,188.7M501.6,188.7L506.2,184.1M495.4,184.3L500.0,188.9M495.4,188.9L500.0,184.3M478.8,199.0L483.4,203.6M478.8,203.6L483.4,199.0M514.0,158.5L518.6,163.1M514.0,163.1L518.6,158.5M494.3,181.1L498.9,185.7M494.3,185.7L498.9,181.1M502.7,174.8L507.3,179.4M502.7,179.4L507.3,174.8M497.2,181.9L501.8,186.5M497.2,186.5L501.8,181.9M493.8,195.0L498.4,199.6M493.8,199.6L498.4,195.0M490.2,188.7L494.8,193.3M490.2,193.3L494.8,188.7M498.5,187.4L503.1,192.0M498.5,192.0L503.1,187.4M502.0,181.4L506.6,186.0M502.0,186.0L506.6,181.4M508.3,174.2L512.9,178.8M508.3,178.8L512.9,174.2M484.0,191.8L488.6,196.4M484.0,196.4L488.6,191.8M485.6,190.5L490.2,195.1M485.6,195.1L490.2,190.5M485.5,193.3L490.1,197.9M485.5,197.9L490.1,193.3M483.0,201.7L487.6,206.3M483.0,206.3L487.6,201.7M493.1,185.8L497.7,190.4M493.1,190.4L497.7,185.8M492.5,180.5L497.1,185.1M492.5,185.1L497.1,180.5M532.2,142.2L536.8,146.8M532.2,146.8L536.8,142.2M500.1,175.8L504.7,180.4M500.1,180.4L504.7,175.8M479.0,201.6L483.6,206.2M479.0,206.2L483.6,201.6M510.7,172.5L515.3,177.1M510.7,177.1L515.3,172.5M496.4,181.1L501.0,185.7M496.4,185.7L501.0,181.1M493.6,171.4L498.2,176.0M493.6,176.0L498.2,171.4M497.6,182.5L502.2,187.1M497.6,187.1L502.2,182.5M503.0,173.8L507.6,178.4M503.0,178.4L507.6,173.8M506.2,166.5L510.8,171.1M506.2,171.1L510.8,166.5M481.2,200.9L485.8,205.5M481.2,205.5L485.8,200.9M529.3,151.7L533.9,156.3M529.3,156.3L533.9,151.7M486.1,199.3L490.7,203.9M486.1,203.9L490.7,199.3M486.8,196.3L491.4,200.9M486.8,200.9L491.4,196.3M493.7,193.9L498.3,198.5M493.7,198.5L498.3,193.9M495.3,184.6L499.9,189.2M495.3,189.2L499.9,184.6M484.3,190.4L488.9,195.0M484.3,195.0L488.9,190.4M478.7,198.5L483.3,203.1M478.7,203.1L483.3,198.5M507.0,171.4L511.6,176.0M507.0,176.0L511.6,171.4M492.1,181.7L496.7,186.3M492.1,186.3L496.7,181.7M489.0,196.1L493.6,200.7M489.0,200.7L493.6,196.1M494.6,189.1L499.2,193.7M494.6,193.7L499.2,189.1M487.1,190.4L491.7,195.0M487.1,195.0L491.7,190.4M501.9,186.9L506.5,191.5M501.9,191.5L506.5,186.9M478.9,202.6L483.5,207.2M478.9,207.2L483.5,202.6M489.6,192.2L494.2,196.8M489.6,196.8L494.2,192.2M510.5,169.7L515.1,174.3M510.5,174.3L515.1,169.7M487.2,195.7L491.8,200.3M487.2,200.3L491.8,195.7M509.5,169.6L514.1,174.2M509.5,174.2L514.1,169.6M511.9,155.9L516.5,160.5M511.9,160.5L516.5,155.9M505.2,173.6L509.8,178.2M505.2,178.2L509.8,173.6M506.5,174.6L511.1,179.2M506.5,179.2L511.1,174.6M476.7,197.2L481.3,201.8M476.7,201.8L481.3,197.2M502.5,174.9L507.1,179.5M502.5,179.5L507.1,174.9M498.2,189.7L502.8,194.3M498.2,194.3L502.8,189.7M524.8,141.7L529.4,146.3M524.8,146.3L529.4,141.7M500.6,179.0L505.2,183.6M500.6,183.6L505.2,179.0M480.5,203.6L485.1,208.2M480.5,208.2L485.1,203.6M497.8,194.1L502.4,198.7M497.8,198.7L502.4,194.1M502.4,172.8L507.0,177.4M502.4,177.4L507.0,172.8M477.2,199.2L481.8,203.8M477.2,203.8L481.8,199.2M496.4,172.2L501.0,176.8M496.4,176.8L501.0,172.2M494.9,190.4L499.5,195.0M494.9,195.0L499.5,190.4M500.0,172.8L504.6,177.4M500.0,177.4L504.6,172.8M515.0,158.9L519.6,163.5M515.0,163.5L519.6,158.9M496.9,187.7L501.5,192.3M496.9,192.3L501.5,187.7M481.4,191.7L486.0,196.3M481.4,196.3L486.0,191.7M524.4,157.6L529.0,162.2M524.4,162.2L529.0,157.6M488.7,195.4L493.3,200.0M488.7,200.0L493.3,195.4M486.5,190.4L491.1,195.0M486.5,195.0L491.1,190.4M484.6,200.3L489.2,204.9M484.6,204.9L489.2,200.3M478.4,200.6L483.0,205.2M478.4,205.2L483.0,200.6M486.1,193.2L490.7,197.8M486.1,197.8L490.7,193.2M489.5,187.3L494.1,191.9M489.5,191.9L494.1,187.3M494.7,182.1L499.3,186.7M494.7,186.7L499.3,182.1M498.7,176.1L503.3,180.7M498.7,180.7L503.3,176.1M480.0,207.3L484.6,211.9M480.0,211.9L484.6,207.3M488.4,193.6L493.0,198.2M488.4,198.2L493.0,193.6M477.5,202.3L482.1,206.9M477.5,206.9L482.1,202.3M499.8,178.6L504.4,183.2M499.8,183.2L504.4,178.6M527.5,158.4L532.1,163.0M527.5,163.0L532.1,158.4M495.0,176.1L499.6,180.7M495.0,180.7L499.6,176.1M483.7,196.8L488.3,201.4M483.7,201.4L488.3,196.8M491.9,185.7L496.5,190.3M491.9,190.3L496.5,185.7M507.3,168.3L511.9,172.9M507.3,172.9L511.9,168.3M483.8,194.2L488.4,198.8M483.8,198.8L488.4,194.2M482.8,200.4L487.4,205.0M482.8,205.0L487.4,200.4M490.1,190.7L494.7,195.3M490.1,195.3L494.7,190.7M509.3,168.7L513.9,173.3M509.3,173.3L513.9,168.7M495.2,187.2L499.8,191.8M495.2,191.8L499.8,187.2M497.7,178.3L502.3,182.9M497.7,182.9L502.3,178.3M501.1,169.1L505.7,173.7M501.1,173.7L505.7,169.1M517.5,160.7L522.1,165.3M517.5,165.3L522.1,160.7M491.4,187.0L496.0,191.6M491.4,191.6L496.0,187.0M485.6,199.2L490.2,203.8M485.6,203.8L490.2,199.2M501.7,178.4L506.3,183.0M501.7,183.0L506.3,178.4M511.9,169.7L516.5,174.3M511.9,174.3L516.5,169.7M498.2,177.9L502.8,182.5M498.2,182.5L502.8,177.9M489.3,192.5L493.9,197.1M489.3,197.1L493.9,192.5M521.5,159.5L526.1,164.1M521.5,164.1L526.1,159.5M476.4,204.1L481.0,208.7M476.4,208.7L481.0,204.1M492.8,182.3L497.4,186.9M492.8,186.9L497.4,182.3M490.7,192.7L495.3,197.3M490.7,197.3L495.3,192.7M478.8,202.9L483.4,207.5M478.8,207.5L483.4,202.9M486.9,197.1L491.5,201.7M486.9,201.7L491.5,197.1M499.8,176.4L504.4,181.0M499.8,181.0L504.4,176.4M497.3,186.1L501.9,190.7M497.3,190.7L501.9,186.1M505.6,173.2L510.2,177.8M505.6,177.8L510.2,173.2M485.8,190.0L490.4,194.6M485.8,194.6L490.4,190.0M530.8,156.5L535.4,161.1M530.8,161.1L535.4,156.5M510.6,167.3L515.2,171.9M510.6,171.9L515.2,167.3M485.6,192.4L490.2,197.0M485.6,197.0L490.2,192.4M494.2,186.5L498.8,191.1M494.2,191.1L498.8,186.5M502.7,171.8L507.3,176.4M502.7,176.4L507.3,171.8M485.3,206.5L489.9,211.1M485.3,211.1L489.9,206.5M526.5,151.0L531.1,155.6M526.5,155.6L531.1,151.0M499.4,176.6L504.0,181.2M499.4,181.2L504.0,176.6M499.3,173.5L503.9,178.1M499.3,178.1L503.9,173.5M498.1,176.9L502.7,181.5M498.1,181.5L502.7,176.9M497.9,177.5L502.5,182.1M497.9,182.1L502.5,177.5M498.3,187.1L502.9,191.7M498.3,191.7L502.9,187.1M501.3,176.1L505.9,180.7M501.3,180.7L505.9,176.1M483.3,196.4L487.9,201.0M483.3,201.0L487.9,196.4M489.4,188.9L494.0,193.5M489.4,193.5L494.0,188.9M491.8,185.1L496.4,189.7M491.8,189.7L496.4,185.1M522.4,158.7L527.0,163.3M522.4,163.3L527.0,158.7M517.4,164.7L522.0,169.3M517.4,169.3L522.0,164.7M490.9,191.4L495.5,196.0M490.9,196.0L495.5,191.4M488.8,190.4L493.4,195.0M488.8,195.0L493.4,190.4M494.1,184.5L498.7,189.1M494.1,189.1L498.7,184.5M491.9,192.2L496.5,196.8M491.9,196.8L496.5,192.2M494.9,191.1L499.5,195.7M494.9,195.7L499.5,191.1M480.0,198.5L484.6,203.1M480.0,203.1L484.6,198.5M491.3,187.1L495.9,191.7M491.3,191.7L495.9,187.1M505.3,179.8L509.9,184.4M505.3,184.4L509.9,179.8M484.4,196.3L489.0,200.9M484.4,200.9L489.0,196.3M490.0,190.0L494.6,194.6M490.0,194.6L494.6,190.0M518.1,154.2L522.7,158.8M518.1,158.8L522.7,154.2M483.8,188.6L488.4,193.2M483.8,193.2L488.4,188.6M478.7,202.8L483.3,207.4M478.7,207.4L483.3,202.8M509.4,160.4L514.0,165.0M509.4,165.0L514.0,160.4M487.0,190.4L491.6,195.0M487.0,195.0L491.6,190.4M511.9,162.9L516.5,167.5M511.9,167.5L516.5,162.9M486.7,174.8L491.3,179.4M486.7,179.4L491.3,174.8M499.6,185.5L504.2,190.1M499.6,190.1L504.2,185.5M488.4,192.5L493.0,197.1M488.4,197.1L493.0,192.5M529.2,148.2L533.8,152.8M529.2,152.8L533.8,148.2M489.8,190.9L494.4,195.5M489.8,195.5L494.4,190.9M477.2,203.0L481.8,207.6M477.2,207.6L481.8,203.0M481.4,204.7L486.0,209.3M481.4,209.3L486.0,204.7M504.8,181.6L509.4,186.2M504.8,186.2L509.4,181.6M489.8,192.1L494.4,196.7M489.8,196.7L494.4,192.1M504.6,179.8L509.2,184.4M504.6,184.4L509.2,179.8M484.0,196.1L488.6,200.7M484.0,200.7L488.6,196.1M504.8,162.8L509.4,167.4M504.8,167.4L509.4,162.8M509.4,173.4L514.0,178.0M509.4,178.0L514.0,173.4M495.9,188.2L500.5,192.8M495.9,192.8L500.5,188.2M506.2,174.5L510.8,179.1M506.2,179.1L510.8,174.5M493.8,192.1L498.4,196.7M493.8,196.7L498.4,192.1M480.2,203.7L484.8,208.3M480.2,208.3L484.8,203.7M487.2,190.6L491.8,195.2M487.2,195.2L491.8,190.6M491.0,186.5L495.6,191.1M491.0,191.1L495.6,186.5M497.3,178.0L501.9,182.6M497.3,182.6L501.9,178.0M512.0,165.7L516.6,170.3M512.0,170.3L516.6,165.7M498.0,182.8L502.6,187.4M498.0,187.4L502.6,182.8M488.3,184.7L492.9,189.3M488.3,189.3L492.9,184.7M495.7,187.7L500.3,192.3M495.7,192.3L500.3,187.7M505.0,170.3L509.6,174.9M505.0,174.9L509.6,170.3M496.1,193.3L500.7,197.9M496.1,197.9L500.7,193.3M481.7,189.5L486.3,194.1M481.7,194.1L486.3,189.5M497.9,184.0L502.5,188.6M497.9,188.6L502.5,184.0M483.9,193.3L488.5,197.9M483.9,197.9L488.5,193.3M506.1,173.2L510.7,177.8M506.1,177.8L510.7,173.2M511.7,163.9L516.3,168.5M511.7,168.5L516.3,163.9M490.9,194.1L495.5,198.7M490.9,198.7L495.5,194.1M491.9,186.2L496.5,190.8M491.9,190.8L496.5,186.2M480.1,197.1L484.7,201.7M480.1,201.7L484.7,197.1M483.6,193.5L488.2,198.1M483.6,198.1L488.2,193.5M477.9,206.4L482.5,211.0M477.9,211.0L482.5,206.4M502.4,170.4L507.0,175.0M502.4,175.0L507.0,170.4M512.5,167.2L517.1,171.8M512.5,171.8L517.1,167.2M478.5,195.3L483.1,199.9M478.5,199.9L483.1,195.3M486.7,191.2L491.3,195.8M486.7,195.8L491.3,191.2M513.7,169.7L518.3,174.3M513.7,174.3L518.3,169.7M492.1,196.2L496.7,200.8M492.1,200.8L496.7,196.2M482.2,198.4L486.8,203.0M482.2,203.0L486.8,198.4M482.7,204.8L487.3,209.4M482.7,209.4L487.3,204.8M497.7,180.1L502.3,184.7M497.7,184.7L502.3,180.1M512.6,168.9L517.2,173.5M512.6,173.5L517.2,168.9M485.7,190.8L490.3,195.4M485.7,195.4L490.3,190.8M479.6,202.8L484.2,207.4M479.6,207.4L484.2,202.8M511.1,170.1L515.7,174.7M511.1,174.7L515.7,170.1M512.6,174.6L517.2,179.2M512.6,179.2L517.2,174.6M489.6,199.0L494.2,203.6M489.6,203.6L494.2,199.0M487.7,192.0L492.3,196.6M487.7,196.6L492.3,192.0M518.8,162.9L523.4,167.5M518.8,167.5L523.4,162.9M485.2,197.9L489.8,202.5M485.2,202.5L489.8,197.9M502.4,180.7L507.0,185.3M502.4,185.3L507.0,180.7M494.7,184.8L499.3,189.4M494.7,189.4L499.3,184.8M494.8,190.8L499.4,195.4M494.8,195.4L499.4,190.8M479.6,193.5L484.2,198.1M479.6,198.1L484.2,193.5M482.4,197.5L487.0,202.1M482.4,202.1L487.0,197.5M481.7,207.8L486.3,212.4M481.7,212.4L486.3,207.8M529.4,143.5L534.0,148.1M529.4,148.1L534.0,143.5M517.5,186.7L522.1,191.3M517.5,191.3L522.1,186.7M481.0,198.0L485.6,202.6M481.0,202.6L485.6,198.0M482.0,193.8L486.6,198.4M482.0,198.4L486.6,193.8M480.7,197.0L485.3,201.6M480.7,201.6L485.3,197.0M502.0,172.2L506.6,176.8M502.0,176.8L506.6,172.2M549.7,123.0L554.3,127.6M549.7,127.6L554.3,123.0M513.6,167.4L518.2,172.0M513.6,172.0L518.2,167.4M512.1,171.9L516.7,176.5M512.1,176.5L516.7,171.9M517.0,163.3L521.6,167.9M517.0,167.9L521.6,163.3M518.2,167.1L522.8,171.7M518.2,171.7L522.8,167.1M515.7,163.3L520.3,167.9M515.7,167.9L520.3,163.3M512.0,171.5L516.6,176.1M512.0,176.1L516.6,171.5M517.7,157.7L522.3,162.3M517.7,162.3L522.3,157.7M518.3,161.8L522.9,166.4M518.3,166.4L522.9,161.8M529.5,151.8L534.1,156.4M529.5,156.4L534.1,151.8M536.8,146.1L541.4,150.7M536.8,150.7L541.4,146.1M524.4,150.8L529.0,155.4M524.4,155.4L529.0,150.8M516.0,165.3L520.6,169.9M516.0,169.9L520.6,165.3M512.8,165.4L517.4,170.0M512.8,170.0L517.4,165.4M520.1,153.0L524.7,157.6M520.1,157.6L524.7,153.0M516.1,159.4L520.7,164.0M516.1,164.0L520.7,159.4M529.5,154.8L534.1,159.4M529.5,159.4L534.1,154.8M546.4,131.2L551.0,135.8M546.4,135.8L551.0,131.2M539.7,122.1L544.3,126.7M539.7,126.7L544.3,122.1M517.5,163.3L522.1,167.9M517.5,167.9L522.1,163.3M510.2,178.3L514.8,182.9M510.2,182.9L514.8,178.3M511.6,171.1L516.2,175.7M511.6,175.7L516.2,171.1M527.6,155.7L532.2,160.3M527.6,160.3L532.2,155.7M524.4,155.0L529.0,159.6M524.4,159.6L529.0,155.0M538.3,127.8L542.9,132.4M538.3,132.4L542.9,127.8M512.3,164.0L516.9,168.6M512.3,168.6L516.9,164.0M519.7,162.7L524.3,167.3M519.7,167.3L524.3,162.7M538.4,134.8L543.0,139.4M538.4,139.4L543.0,134.8M533.3,153.6L537.9,158.2M533.3,158.2L537.9,153.6M531.1,150.8L535.7,155.4M531.1,155.4L535.7,150.8M547.8,128.3L552.4,132.9M547.8,132.9L552.4,128.3M513.6,167.3L518.2,171.9M513.6,171.9L518.2,167.3M517.1,153.6L521.7,158.2M517.1,158.2L521.7,153.6M533.2,137.9L537.8,142.5M533.2,142.5L537.8,137.9M533.2,156.0L537.8,160.6M533.2,160.6L537.8,156.0M551.2,126.4L555.8,131.0M551.2,131.0L555.8,126.4M551.0,146.7L555.6,151.3M551.0,151.3L555.6,146.7M534.1,152.1L538.7,156.7M534.1,156.7L538.7,152.1M541.6,145.5L546.2,150.1M541.6,150.1L546.2,145.5M538.9,144.5L543.5,149.1M538.9,149.1L543.5,144.5M514.4,166.6L519.0,171.2M514.4,171.2L519.0,166.6M534.8,136.9L539.4,141.5M534.8,141.5L539.4,136.9M521.9,154.3L526.5,158.9M521.9,158.9L526.5,154.3M524.2,150.7L528.8,155.3M524.2,155.3L528.8,150.7M515.4,161.7L520.0,166.3M515.4,166.3L520.0,161.7M509.0,175.5L513.6,180.1M509.0,180.1L513.6,175.5M545.7,137.0L550.3,141.6M545.7,141.6L550.3,137.0M539.8,134.3L544.4,138.9M539.8,138.9L544.4,134.3M541.3,134.5L545.9,139.1M541.3,139.1L545.9,134.5M521.2,155.8L525.8,160.4M521.2,160.4L525.8,155.8M526.8,161.1L531.4,165.7M526.8,165.7L531.4,161.1M516.3,160.8L520.9,165.4M516.3,165.4L520.9,160.8M534.8,156.2L539.4,160.8M534.8,160.8L539.4,156.2M545.1,142.2L549.7,146.8M545.1,146.8L549.7,142.2M542.4,133.3L547.0,137.9M542.4,137.9L547.0,133.3M549.2,132.9L553.8,137.5M549.2,137.5L553.8,132.9M520.0,153.2L524.6,157.8M520.0,157.8L524.6,153.2M539.1,150.9L543.7,155.5M539.1,155.5L543.7,150.9M514.2,162.1L518.8,166.7M514.2,166.7L518.8,162.1M531.9,139.2L536.5,143.8M531.9,143.8L536.5,139.2" stroke="#b4b4b4" stroke-width="1.25" stroke-opacity="0.8" fill="none"/>
<path d="M574.5,110.5L579.5,110.5L577.0,115.0ZM552.1,126.8L557.1,126.8L554.6,131.3ZM557.3,127.6L562.3,127.6L559.8,132.1ZM562.5,142.2L567.5,142.2L565.0,146.7ZM566.7,140.5L571.7,140.5L569.2,145.0ZM568.4,146.5L573.4,146.5L570.9,151.0ZM519.5,148.2L524.5,148.2L522.0,152.7ZM543.5,160.3L548.5,160.3L546.0,164.8ZM562.9,142.4L567.9,142.4L565.4,146.9ZM542.8,160.8L547.8,160.8L545.3,165.3ZM547.5,169.9L552.5,169.9L550.0,174.4ZM549.1,158.7L554.1,158.7L551.6,163.2ZM546.5,118.0L551.5,118.0L549.0,122.5ZM549.5,123.0L554.5,123.0L552.0,127.5ZM537.5,145.0L542.5,145.0L540.0,149.5ZM533.5,149.0L538.5,149.0L536.0,153.5ZM529.5,153.0L534.5,153.0L532.0,157.5ZM504.4,168.1L509.4,168.1L506.9,172.6ZM530.7,147.4L535.7,147.4L533.2,151.9ZM543.7,128.9L548.7,128.9L546.2,133.4ZM542.2,147.9L547.2,147.9L544.7,152.4ZM530.9,151.3L535.9,151.3L533.4,155.8ZM541.4,139.3L546.4,139.3L543.9,143.8ZM502.2,174.1L507.2,174.1L504.7,178.6ZM532.7,149.6L537.7,149.6L535.2,154.1ZM507.6,169.6L512.6,169.6L510.1,174.1ZM531.0,145.2L536.0,145.2L533.5,149.7ZM532.7,139.3L537.7,139.3L535.2,143.8ZM532.4,145.1L537.4,145.1L534.9,149.6ZM522.8,159.2L527.8,159.2L525.3,163.7ZM536.2,141.9L541.2,141.9L538.7,146.4ZM535.4,138.5L540.4,138.5L537.9,143.0ZM544.1,138.8L549.1,138.8L546.6,143.3ZM504.2,171.4L509.2,171.4L506.7,175.9ZM519.2,158.2L524.2,158.2L521.7,162.7ZM524.1,150.4L529.1,150.4L526.6,154.9ZM539.0,137.8L544.0,137.8L541.5,142.3ZM511.2,164.6L516.2,164.6L513.7,169.1ZM547.0,128.0L552.0,128.0L549.5,132.5ZM505.9,168.4L510.9,168.4L508.4,172.9ZM530.6,151.7L535.6,151.7L533.1,156.2ZM511.0,165.2L516.0,165.2L513.5,169.7ZM539.2,139.1L544.2,139.1L541.7,143.6ZM520.5,156.1L525.5,156.1L523.0,160.6ZM539.0,133.7L544.0,133.7L541.5,138.2ZM519.4,158.5L524.4,158.5L521.9,163.0ZM541.6,142.1L546.6,142.1L544.1,146.6ZM517.8,165.2L522.8,165.2L520.3,169.7ZM519.9,155.0L524.9,155.0L522.4,159.5ZM538.9,141.8L543.9,141.8L541.4,146.3ZM540.3,138.2L545.3,138.2L542.8,142.7ZM528.5,148.8L533.5,148.8L531.0,153.3ZM534.9,142.8L539.9,142.8L537.4,147.3ZM528.0,150.7L533.0,150.7L530.5,155.2ZM520.3,152.0L525.3,152.0L522.8,156.5ZM531.2,144.7L536.2,144.7L533.7,149.2ZM513.6,166.8L518.6,166.8L516.1,171.3ZM532.7,149.2L537.7,149.2L535.2,153.7ZM519.4,161.6L524.4,161.6L521.9,166.1ZM527.8,146.6L532.8,146.6L530.3,151.1ZM544.6,130.2L549.6,130.2L547.1,134.7ZM515.0,160.6L520.0,160.6L517.5,165.1ZM506.6,171.5L511.6,171.5L509.1,176.0ZM547.5,128.4L552.5,128.4L550.0,132.9ZM528.6,149.4L533.6,149.4L531.1,153.9ZM517.2,165.8L522.2,165.8L519.7,170.3ZM509.8,167.3L514.8,167.3L512.3,171.8ZM545.1,135.4L550.1,135.4L547.6,139.9ZM527.3,152.9L532.3,152.9L529.8,157.4ZM531.4,151.8L536.4,151.8L533.9,156.3ZM522.9,156.2L527.9,156.2L525.4,160.7ZM506.5,175.7L511.5,175.7L509.0,180.2ZM533.3,149.4L538.3,149.4L535.8,153.9ZM514.7,165.7L519.7,165.7L517.2,170.2ZM508.1,174.3L513.1,174.3L510.6,178.8ZM540.0,137.1L545.0,137.1L542.5,141.6ZM544.3,136.4L549.3,136.4L546.8,140.9ZM540.0,138.4L545.0,138.4L542.5,142.9ZM502.7,170.2L507.7,170.2L505.2,174.7ZM544.4,133.2L549.4,133.2L546.9,137.7ZM520.7,159.1L525.7,159.1L523.2,163.6ZM506.9,169.3L511.9,169.3L509.4,173.8ZM532.0,146.8L537.0,146.8L534.5,151.3ZM501.8,176.8L506.8,176.8L504.3,181.3ZM540.2,137.8L545.2,137.8L542.7,142.3ZM505.2,173.7L510.2,173.7L507.7,178.2ZM505.4,174.7L510.4,174.7L507.9,179.2ZM539.9,140.1L544.9,140.1L542.4,144.6ZM520.7,156.3L525.7,156.3L523.2,160.8ZM520.4,160.1L525.4,160.1L522.9,164.6ZM526.8,146.7L531.8,146.7L529.3,151.2ZM538.9,138.5L543.9,138.5L541.4,143.0ZM518.2,158.5L523.2,158.5L520.7,163.0ZM534.8,142.6L539.8,142.6L537.3,147.1ZM547.1,125.0L552.1,125.0L549.6,129.5ZM517.7,156.8L522.7,156.8L520.2,161.3ZM505.0,180.4L510.0,180.4L507.5,184.9ZM515.3,158.4L520.3,158.4L517.8,162.9ZM547.9,137.3L552.9,137.3L550.4,141.8ZM510.8,172.4L515.8,172.4L513.3,176.9ZM522.0,159.4L527.0,159.4L524.5,163.9ZM523.7,154.9L528.7,154.9L526.2,159.4ZM544.3,136.1L549.3,136.1L546.8,140.6ZM534.0,142.6L539.0,142.6L536.5,147.1ZM510.0,163.6L515.0,163.6L512.5,168.1ZM522.8,157.3L527.8,157.3L525.3,161.8ZM502.9,169.7L507.9,169.7L505.4,174.2ZM506.0,171.8L511.0,171.8L508.5,176.3ZM518.9,157.8L523.9,157.8L521.4,162.3ZM546.8,128.6L551.8,128.6L549.3,133.1ZM520.7,156.0L525.7,156.0L523.2,160.5ZM534.8,144.4L539.8,144.4L537.3,148.9ZM535.3,151.0L540.3,151.0L537.8,155.5ZM509.8,163.8L514.8,163.8L512.3,168.3ZM544.6,136.9L549.6,136.9L547.1,141.4ZM539.1,136.1L544.1,136.1L541.6,140.6ZM539.0,137.4L544.0,137.4L541.5,141.9ZM528.0,151.4L533.0,151.4L530.5,155.9ZM531.3,143.7L536.3,143.7L533.8,148.2ZM504.6,175.6L509.6,175.6L507.1,180.1ZM540.0,143.6L545.0,143.6L542.5,148.1ZM516.7,160.2L521.7,160.2L519.2,164.7ZM507.8,171.6L512.8,171.6L510.3,176.1ZM513.8,168.7L518.8,168.7L516.3,173.2ZM536.5,146.2L541.5,146.2L539.0,150.7ZM520.8,163.4L525.8,163.4L523.3,167.9ZM504.9,168.5L509.9,168.5L507.4,173.0ZM483.8,190.8L488.8,190.8L486.3,195.3ZM507.3,160.4L512.3,160.4L509.8,164.9ZM498.7,186.6L503.7,186.6L501.2,191.1ZM500.9,179.4L505.9,179.4L503.4,183.9ZM496.7,180.6L501.7,180.6L499.2,185.1ZM479.0,198.2L484.0,198.2L481.5,202.7ZM511.1,175.8L516.1,175.8L513.6,180.3ZM510.6,168.4L515.6,168.4L513.1,172.9ZM504.2,176.6L509.2,176.6L506.7,181.1ZM507.6,178.0L512.6,178.0L510.1,182.5ZM492.2,190.4L497.2,190.4L494.7,194.9ZM509.6,177.1L514.6,177.1L512.1,181.6ZM482.3,197.9L487.3,197.9L484.8,202.4ZM479.1,199.4L484.1,199.4L481.6,203.9ZM515.1,166.6L520.1,166.6L517.6,171.1ZM508.7,167.7L513.7,167.7L511.2,172.2ZM489.3,178.7L494.3,178.7L491.8,183.2ZM513.9,163.4L518.9,163.4L516.4,167.9ZM495.9,176.3L500.9,176.3L498.4,180.8ZM501.3,186.3L506.3,186.3L503.8,190.8ZM507.3,167.3L512.3,167.3L509.8,171.8ZM510.4,160.4L515.4,160.4L512.9,164.9ZM513.7,173.4L518.7,173.4L516.2,177.9ZM479.9,187.8L484.9,187.8L482.4,192.3ZM495.3,190.4L500.3,190.4L497.8,194.9ZM486.8,183.7L491.8,183.7L489.3,188.2ZM511.1,169.1L516.1,169.1L513.6,173.6ZM515.2,161.2L520.2,161.2L517.7,165.7ZM507.4,158.4L512.4,158.4L509.9,162.9ZM499.0,171.6L504.0,171.6L501.5,176.1ZM514.5,160.4L519.5,160.4L517.0,164.9ZM497.1,185.5L502.1,185.5L499.6,190.0ZM496.6,186.8L501.6,186.8L499.1,191.3ZM490.0,191.3L495.0,191.3L492.5,195.8ZM483.4,195.1L488.4,195.1L485.9,199.6ZM514.8,162.7L519.8,162.7L517.3,167.2ZM505.9,154.4L510.9,154.4L508.4,158.9ZM516.5,160.0L521.5,160.0L519.0,164.5ZM479.0,204.4L484.0,204.4L481.5,208.9ZM499.6,183.7L504.6,183.7L502.1,188.2ZM514.0,157.1L519.0,157.1L516.5,161.6ZM512.6,164.2L517.6,164.2L515.1,168.7ZM507.7,176.1L512.7,176.1L510.2,180.6ZM490.3,185.8L495.3,185.8L492.8,190.3ZM489.4,181.7L494.4,181.7L491.9,186.2ZM502.4,172.1L507.4,172.1L504.9,176.6ZM485.4,198.8L490.4,198.8L487.9,203.3ZM499.7,180.5L504.7,180.5L502.2,185.0ZM506.9,180.0L511.9,180.0L509.4,184.5ZM505.4,175.4L510.4,175.4L507.9,179.9ZM510.7,174.0L515.7,174.0L513.2,178.5ZM501.1,187.3L506.1,187.3L503.6,191.8ZM495.5,183.5L500.5,183.5L498.0,188.0ZM486.1,196.1L491.1,196.1L488.6,200.6ZM511.2,176.0L516.2,176.0L513.7,180.5ZM495.6,181.3L500.6,181.3L498.1,185.8ZM485.8,187.1L490.8,187.1L488.3,191.6ZM495.1,187.4L500.1,187.4L497.6,191.9ZM503.2,168.3L508.2,168.3L505.7,172.8ZM512.8,171.1L517.8,171.1L515.3,175.6ZM479.1,193.4L484.1,193.4L481.6,197.9ZM483.2,208.8L488.2,208.8L485.7,213.3ZM484.0,190.5L489.0,190.5L486.5,195.0ZM491.3,184.5L496.3,184.5L493.8,189.0ZM508.7,165.5L513.7,165.5L511.2,170.0ZM485.3,190.5L490.3,190.5L487.8,195.0ZM516.2,158.7L521.2,158.7L518.7,163.2ZM489.9,190.2L494.9,190.2L492.4,194.7ZM481.2,205.2L486.2,205.2L483.7,209.7ZM503.0,168.9L508.0,168.9L505.5,173.4ZM518.9,149.9L523.9,149.9L521.4,154.4ZM510.8,155.2L515.8,155.2L513.3,159.7ZM518.3,149.9L523.3,149.9L520.8,154.4ZM517.1,154.0L522.1,154.0L519.6,158.5ZM517.7,150.2L522.7,150.2L520.2,154.7ZM511.2,158.4L516.2,158.4L513.7,162.9ZM505.5,160.2L510.5,160.2L508.0,164.7ZM497.3,173.5L502.3,173.5L499.8,178.0ZM510.4,159.3L515.4,159.3L512.9,163.8ZM505.5,165.5L510.5,165.5L508.0,170.0ZM515.5,146.2L520.5,146.2L518.0,150.7ZM504.1,161.9L509.1,161.9L506.6,166.4ZM518.1,152.4L523.1,152.4L520.6,156.9ZM510.5,160.4L515.5,160.4L513.0,164.9ZM523.9,139.9L528.9,139.9L526.4,144.4ZM510.9,159.3L515.9,159.3L513.4,163.8ZM498.2,168.2L503.2,168.2L500.7,172.7ZM498.8,171.3L503.8,171.3L501.3,175.8ZM498.4,169.3L503.4,169.3L500.9,173.8ZM519.3,148.1L524.3,148.1L521.8,152.6ZM499.9,162.7L504.9,162.7L502.4,167.2ZM493.3,177.4L498.3,177.4L495.8,181.9ZM511.0,159.6L516.0,159.6L513.5,164.1ZM521.9,147.4L526.9,147.4L524.4,151.9ZM517.0,147.7L522.0,147.7L519.5,152.2ZM504.4,162.4L509.4,162.4L506.9,166.9ZM512.3,156.2L517.3,156.2L514.8,160.7ZM500.2,166.4L505.2,166.4L502.7,170.9ZM514.4,156.9L519.4,156.9L516.9,161.4ZM494.3,176.0L499.3,176.0L496.8,180.5Z" fill="#deac86" fill-opacity="0.6" stroke="#d9a77f" stroke-opacity="0.5" stroke-width="0.5"/>
<line x1="470.93" y1="214.42" x2="687.77" y2="-0.73" stroke="#2a2a2a" stroke-width="0.8" stroke-dasharray="2.4,1.4"/>
<path d="M579.0,99.1h4.4v4.4h-4.4ZM583.3,99.1h4.4v4.4h-4.4ZM585.9,95.7h4.4v4.4h-4.4ZM569.6,106.0h4.4v4.4h-4.4ZM579.0,106.8h4.4v4.4h-4.4ZM566.2,113.7h4.4v4.4h-4.4ZM569.6,112.8h4.4v4.4h-4.4ZM564.5,119.7h4.4v4.4h-4.4ZM542.1,148.9h4.4v4.4h-4.4ZM547.3,153.2h4.4v4.4h-4.4ZM537.8,156.6h4.4v4.4h-4.4ZM525.0,153.2h4.4v4.4h-4.4ZM542.5,149.0h4.4v4.4h-4.4ZM547.8,153.8h4.4v4.4h-4.4ZM538.8,156.0h4.4v4.4h-4.4ZM561.5,167.0h4.4v4.4h-4.4ZM492.8,157.8h4.4v4.4h-4.4ZM496.8,194.8h4.4v4.4h-4.4ZM486.8,197.8h4.4v4.4h-4.4ZM499.8,201.8h4.4v4.4h-4.4ZM509.8,187.8h4.4v4.4h-4.4ZM517.8,173.8h4.4v4.4h-4.4ZM527.8,180.8h4.4v4.4h-4.4ZM533.8,169.8h4.4v4.4h-4.4ZM521.8,160.8h4.4v4.4h-4.4ZM532.8,163.8h4.4v4.4h-4.4ZM486.8,190.6h4.4v4.4h-4.4ZM479.4,194.3h4.4v4.4h-4.4ZM487.7,189.2h4.4v4.4h-4.4ZM483.5,195.1h4.4v4.4h-4.4ZM481.4,198.8h4.4v4.4h-4.4ZM483.4,192.3h4.4v4.4h-4.4ZM486.4,193.0h4.4v4.4h-4.4ZM477.3,199.3h4.4v4.4h-4.4ZM485.4,192.4h4.4v4.4h-4.4ZM476.6,198.0h4.4v4.4h-4.4ZM493.2,187.4h4.4v4.4h-4.4ZM484.5,193.6h4.4v4.4h-4.4ZM478.8,198.9h4.4v4.4h-4.4ZM476.1,201.7h4.4v4.4h-4.4ZM477.3,197.2h4.4v4.4h-4.4ZM480.5,196.8h4.4v4.4h-4.4ZM483.5,191.1h4.4v4.4h-4.4ZM482.8,187.4h4.4v4.4h-4.4ZM485.8,188.8h4.4v4.4h-4.4ZM485.3,197.5h4.4v4.4h-4.4ZM489.1,194.8h4.4v4.4h-4.4ZM483.6,192.0h4.4v4.4h-4.4ZM481.7,198.7h4.4v4.4h-4.4ZM479.1,198.8h4.4v4.4h-4.4ZM482.9,196.4h4.4v4.4h-4.4ZM484.5,188.2h4.4v4.4h-4.4ZM475.9,198.5h4.4v4.4h-4.4ZM488.6,194.1h4.4v4.4h-4.4ZM476.0,202.4h4.4v4.4h-4.4ZM479.7,200.6h4.4v4.4h-4.4ZM489.5,193.8h4.4v4.4h-4.4ZM487.7,187.4h4.4v4.4h-4.4ZM488.7,189.7h4.4v4.4h-4.4ZM486.2,190.1h4.4v4.4h-4.4ZM476.8,193.8h4.4v4.4h-4.4ZM489.7,183.3h4.4v4.4h-4.4ZM486.6,193.3h4.4v4.4h-4.4ZM493.0,189.2h4.4v4.4h-4.4ZM488.6,183.9h4.4v4.4h-4.4ZM480.6,199.6h4.4v4.4h-4.4ZM491.5,185.7h4.4v4.4h-4.4ZM478.3,202.6h4.4v4.4h-4.4ZM486.1,191.6h4.4v4.4h-4.4ZM476.0,193.9h4.4v4.4h-4.4ZM478.3,202.2h4.4v4.4h-4.4ZM484.8,192.6h4.4v4.4h-4.4ZM479.0,198.9h4.4v4.4h-4.4ZM491.1,191.5h4.4v4.4h-4.4ZM487.1,198.5h4.4v4.4h-4.4ZM481.7,199.6h4.4v4.4h-4.4ZM476.9,203.5h4.4v4.4h-4.4ZM488.8,192.4h4.4v4.4h-4.4ZM488.3,193.8h4.4v4.4h-4.4ZM490.9,190.7h4.4v4.4h-4.4ZM483.1,197.2h4.4v4.4h-4.4ZM491.0,187.0h4.4v4.4h-4.4ZM479.9,206.2h4.4v4.4h-4.4ZM491.9,187.8h4.4v4.4h-4.4ZM487.7,188.8h4.4v4.4h-4.4ZM478.1,201.8h4.4v4.4h-4.4ZM494.6,188.2h4.4v4.4h-4.4ZM478.4,202.5h4.4v4.4h-4.4ZM488.2,189.8h4.4v4.4h-4.4ZM478.6,197.4h4.4v4.4h-4.4ZM490.5,194.1h4.4v4.4h-4.4ZM488.2,186.9h4.4v4.4h-4.4ZM479.1,202.2h4.4v4.4h-4.4ZM481.0,197.1h4.4v4.4h-4.4ZM489.1,185.8h4.4v4.4h-4.4ZM485.6,196.5h4.4v4.4h-4.4ZM480.3,202.2h4.4v4.4h-4.4ZM477.9,202.0h4.4v4.4h-4.4ZM476.8,199.7h4.4v4.4h-4.4ZM479.1,202.6h4.4v4.4h-4.4ZM484.8,199.7h4.4v4.4h-4.4ZM490.0,190.7h4.4v4.4h-4.4ZM482.7,194.4h4.4v4.4h-4.4ZM476.2,199.3h4.4v4.4h-4.4ZM482.5,197.7h4.4v4.4h-4.4ZM484.3,195.0h4.4v4.4h-4.4ZM483.7,195.6h4.4v4.4h-4.4ZM488.4,193.7h4.4v4.4h-4.4ZM488.0,192.0h4.4v4.4h-4.4ZM487.7,189.5h4.4v4.4h-4.4ZM484.6,193.5h4.4v4.4h-4.4ZM476.8,202.8h4.4v4.4h-4.4ZM490.5,191.5h4.4v4.4h-4.4ZM489.8,190.3h4.4v4.4h-4.4ZM489.3,191.6h4.4v4.4h-4.4ZM481.2,193.4h4.4v4.4h-4.4ZM487.5,184.5h4.4v4.4h-4.4ZM477.2,201.0h4.4v4.4h-4.4ZM484.9,186.9h4.4v4.4h-4.4ZM486.4,193.2h4.4v4.4h-4.4ZM488.0,191.3h4.4v4.4h-4.4ZM480.0,204.8h4.4v4.4h-4.4ZM491.2,185.4h4.4v4.4h-4.4ZM477.7,203.8h4.4v4.4h-4.4ZM478.9,200.0h4.4v4.4h-4.4ZM483.5,193.1h4.4v4.4h-4.4ZM485.9,193.5h4.4v4.4h-4.4ZM481.4,202.4h4.4v4.4h-4.4ZM481.0,198.3h4.4v4.4h-4.4ZM491.0,187.0h4.4v4.4h-4.4ZM481.3,197.5h4.4v4.4h-4.4ZM482.0,194.0h4.4v4.4h-4.4ZM478.5,201.8h4.4v4.4h-4.4ZM485.9,193.6h4.4v4.4h-4.4ZM484.0,187.3h4.4v4.4h-4.4ZM485.9,187.9h4.4v4.4h-4.4ZM480.2,199.4h4.4v4.4h-4.4ZM484.0,198.6h4.4v4.4h-4.4ZM487.6,192.4h4.4v4.4h-4.4ZM491.0,185.0h4.4v4.4h-4.4ZM486.8,187.8h4.4v4.4h-4.4ZM476.0,194.7h4.4v4.4h-4.4ZM477.0,201.9h4.4v4.4h-4.4ZM482.2,198.1h4.4v4.4h-4.4ZM484.5,193.6h4.4v4.4h-4.4ZM481.3,199.2h4.4v4.4h-4.4ZM490.9,191.2h4.4v4.4h-4.4ZM478.3,196.7h4.4v4.4h-4.4ZM478.0,200.9h4.4v4.4h-4.4ZM483.3,189.9h4.4v4.4h-4.4ZM489.3,190.6h4.4v4.4h-4.4ZM479.0,199.1h4.4v4.4h-4.4ZM480.2,196.0h4.4v4.4h-4.4ZM484.1,202.3h4.4v4.4h-4.4ZM479.3,205.4h4.4v4.4h-4.4ZM485.6,189.5h4.4v4.4h-4.4ZM476.8,202.2h4.4v4.4h-4.4ZM489.6,195.9h4.4v4.4h-4.4ZM487.6,193.4h4.4v4.4h-4.4ZM486.7,195.8h4.4v4.4h-4.4ZM477.9,203.5h4.4v4.4h-4.4ZM476.2,199.6h4.4v4.4h-4.4ZM480.4,190.0h4.4v4.4h-4.4ZM484.5,194.9h4.4v4.4h-4.4ZM477.9,204.5h4.4v4.4h-4.4ZM476.5,200.0h4.4v4.4h-4.4ZM485.7,186.6h4.4v4.4h-4.4ZM477.5,193.6h4.4v4.4h-4.4ZM485.5,188.2h4.4v4.4h-4.4ZM476.9,197.3h4.4v4.4h-4.4ZM483.8,201.9h4.4v4.4h-4.4ZM492.1,188.7h4.4v4.4h-4.4ZM478.4,198.8h4.4v4.4h-4.4ZM482.2,195.5h4.4v4.4h-4.4ZM482.7,192.8h4.4v4.4h-4.4ZM488.4,191.3h4.4v4.4h-4.4ZM479.1,195.3h4.4v4.4h-4.4ZM482.5,187.5h4.4v4.4h-4.4ZM478.5,198.1h4.4v4.4h-4.4ZM485.3,189.3h4.4v4.4h-4.4ZM476.5,201.9h4.4v4.4h-4.4ZM478.7,199.4h4.4v4.4h-4.4ZM478.1,203.1h4.4v4.4h-4.4ZM477.4,201.0h4.4v4.4h-4.4ZM487.8,189.5h4.4v4.4h-4.4ZM486.5,197.8h4.4v4.4h-4.4ZM488.1,188.6h4.4v4.4h-4.4ZM491.5,185.5h4.4v4.4h-4.4ZM478.7,199.5h4.4v4.4h-4.4ZM489.4,190.4h4.4v4.4h-4.4ZM490.6,184.7h4.4v4.4h-4.4ZM479.8,196.4h4.4v4.4h-4.4ZM478.8,203.2h4.4v4.4h-4.4ZM482.8,194.2h4.4v4.4h-4.4ZM483.2,191.9h4.4v4.4h-4.4ZM485.6,189.3h4.4v4.4h-4.4ZM487.0,194.7h4.4v4.4h-4.4ZM483.0,199.8h4.4v4.4h-4.4ZM478.7,200.3h4.4v4.4h-4.4ZM483.6,199.2h4.4v4.4h-4.4ZM478.6,189.9h4.4v4.4h-4.4ZM480.7,201.5h4.4v4.4h-4.4ZM482.5,199.4h4.4v4.4h-4.4ZM488.9,186.0h4.4v4.4h-4.4ZM483.8,196.6h4.4v4.4h-4.4ZM482.8,205.6h4.4v4.4h-4.4ZM487.0,191.6h4.4v4.4h-4.4ZM483.8,198.8h4.4v4.4h-4.4ZM485.4,195.0h4.4v4.4h-4.4ZM485.7,199.4h4.4v4.4h-4.4ZM479.9,203.0h4.4v4.4h-4.4ZM488.3,190.3h4.4v4.4h-4.4ZM485.4,193.2h4.4v4.4h-4.4ZM494.2,187.7h4.4v4.4h-4.4ZM477.8,204.7h4.4v4.4h-4.4ZM487.1,194.6h4.4v4.4h-4.4ZM482.8,195.4h4.4v4.4h-4.4ZM483.5,195.8h4.4v4.4h-4.4ZM490.2,192.8h4.4v4.4h-4.4ZM478.9,197.8h4.4v4.4h-4.4ZM484.0,197.6h4.4v4.4h-4.4ZM477.7,200.2h4.4v4.4h-4.4ZM487.1,195.0h4.4v4.4h-4.4ZM482.7,194.9h4.4v4.4h-4.4ZM477.3,202.9h4.4v4.4h-4.4ZM479.9,199.2h4.4v4.4h-4.4ZM481.6,195.3h4.4v4.4h-4.4ZM483.9,193.0h4.4v4.4h-4.4ZM477.5,201.4h4.4v4.4h-4.4ZM485.8,191.9h4.4v4.4h-4.4ZM491.8,191.2h4.4v4.4h-4.4ZM481.8,197.6h4.4v4.4h-4.4ZM481.7,206.5h4.4v4.4h-4.4ZM483.1,205.2h4.4v4.4h-4.4ZM489.1,190.3h4.4v4.4h-4.4ZM485.2,194.3h4.4v4.4h-4.4ZM476.2,198.0h4.4v4.4h-4.4ZM476.8,198.2h4.4v4.4h-4.4ZM490.2,189.0h4.4v4.4h-4.4ZM486.2,190.3h4.4v4.4h-4.4ZM485.1,188.6h4.4v4.4h-4.4ZM477.5,199.9h4.4v4.4h-4.4ZM491.3,184.8h4.4v4.4h-4.4ZM480.1,198.6h4.4v4.4h-4.4ZM483.8,198.8h4.4v4.4h-4.4ZM481.8,200.9h4.4v4.4h-4.4ZM494.1,189.2h4.4v4.4h-4.4ZM485.5,191.2h4.4v4.4h-4.4ZM485.6,193.9h4.4v4.4h-4.4ZM484.2,197.2h4.4v4.4h-4.4ZM487.0,189.7h4.4v4.4h-4.4ZM484.9,196.0h4.4v4.4h-4.4ZM481.5,193.0h4.4v4.4h-4.4ZM476.1,196.9h4.4v4.4h-4.4ZM490.7,189.8h4.4v4.4h-4.4ZM480.3,205.1h4.4v4.4h-4.4ZM486.7,183.0h4.4v4.4h-4.4ZM489.9,185.9h4.4v4.4h-4.4ZM486.9,196.2h4.4v4.4h-4.4ZM476.7,198.3h4.4v4.4h-4.4ZM483.0,202.7h4.4v4.4h-4.4ZM479.4,201.7h4.4v4.4h-4.4ZM487.9,191.2h4.4v4.4h-4.4ZM482.7,197.5h4.4v4.4h-4.4ZM494.1,187.8h4.4v4.4h-4.4ZM476.9,192.5h4.4v4.4h-4.4ZM482.3,198.2h4.4v4.4h-4.4ZM486.2,190.4h4.4v4.4h-4.4ZM490.1,187.4h4.4v4.4h-4.4ZM487.8,197.0h4.4v4.4h-4.4ZM479.3,202.2h4.4v4.4h-4.4ZM478.6,199.9h4.4v4.4h-4.4ZM485.8,188.6h4.4v4.4h-4.4ZM489.1,190.2h4.4v4.4h-4.4ZM491.2,184.7h4.4v4.4h-4.4ZM486.0,193.7h4.4v4.4h-4.4ZM487.5,188.1h4.4v4.4h-4.4ZM491.9,196.0h4.4v4.4h-4.4ZM483.8,192.2h4.4v4.4h-4.4ZM490.3,190.0h4.4v4.4h-4.4ZM480.6,200.8h4.4v4.4h-4.4ZM484.3,206.2h4.4v4.4h-4.4ZM483.3,199.9h4.4v4.4h-4.4ZM481.1,195.2h4.4v4.4h-4.4ZM486.7,181.6h4.4v4.4h-4.4ZM490.7,189.8h4.4v4.4h-4.4ZM489.4,191.2h4.4v4.4h-4.4ZM489.4,186.3h4.4v4.4h-4.4ZM481.8,195.8h4.4v4.4h-4.4ZM493.0,186.7h4.4v4.4h-4.4ZM491.0,187.3h4.4v4.4h-4.4ZM480.0,200.8h4.4v4.4h-4.4ZM481.0,195.3h4.4v4.4h-4.4ZM479.6,196.2h4.4v4.4h-4.4ZM475.8,196.4h4.4v4.4h-4.4ZM489.3,184.6h4.4v4.4h-4.4ZM481.1,195.0h4.4v4.4h-4.4ZM489.7,187.3h4.4v4.4h-4.4ZM483.8,190.7h4.4v4.4h-4.4ZM479.2,204.2h4.4v4.4h-4.4ZM478.8,191.2h4.4v4.4h-4.4ZM488.0,188.7h4.4v4.4h-4.4ZM478.5,194.8h4.4v4.4h-4.4ZM482.5,199.6h4.4v4.4h-4.4ZM476.1,199.6h4.4v4.4h-4.4ZM484.1,195.1h4.4v4.4h-4.4ZM492.5,187.6h4.4v4.4h-4.4ZM478.3,204.7h4.4v4.4h-4.4ZM486.7,183.7h4.4v4.4h-4.4ZM483.3,190.1h4.4v4.4h-4.4ZM480.4,198.0h4.4v4.4h-4.4ZM490.1,186.7h4.4v4.4h-4.4ZM492.4,188.0h4.4v4.4h-4.4ZM495.3,189.4h4.4v4.4h-4.4ZM487.1,198.5h4.4v4.4h-4.4ZM484.0,197.0h4.4v4.4h-4.4ZM487.1,191.6h4.4v4.4h-4.4ZM492.7,189.6h4.4v4.4h-4.4ZM480.2,195.4h4.4v4.4h-4.4ZM480.5,196.3h4.4v4.4h-4.4ZM482.4,195.6h4.4v4.4h-4.4ZM480.1,206.4h4.4v4.4h-4.4ZM490.0,188.6h4.4v4.4h-4.4ZM483.5,195.1h4.4v4.4h-4.4ZM486.2,197.4h4.4v4.4h-4.4ZM490.6,196.2h4.4v4.4h-4.4ZM485.2,184.9h4.4v4.4h-4.4ZM486.2,189.3h4.4v4.4h-4.4ZM482.3,198.1h4.4v4.4h-4.4ZM477.7,194.8h4.4v4.4h-4.4ZM479.3,195.1h4.4v4.4h-4.4ZM483.8,192.8h4.4v4.4h-4.4ZM488.6,188.2h4.4v4.4h-4.4ZM477.0,201.6h4.4v4.4h-4.4ZM485.7,192.2h4.4v4.4h-4.4ZM490.1,188.5h4.4v4.4h-4.4ZM484.0,192.0h4.4v4.4h-4.4ZM487.9,202.0h4.4v4.4h-4.4ZM483.6,194.6h4.4v4.4h-4.4ZM485.2,194.8h4.4v4.4h-4.4ZM486.2,192.0h4.4v4.4h-4.4ZM477.8,202.3h4.4v4.4h-4.4ZM488.1,188.3h4.4v4.4h-4.4ZM484.8,193.1h4.4v4.4h-4.4ZM480.5,198.2h4.4v4.4h-4.4ZM491.0,187.0h4.4v4.4h-4.4ZM481.6,195.2h4.4v4.4h-4.4ZM489.5,190.3h4.4v4.4h-4.4ZM479.0,196.0h4.4v4.4h-4.4ZM488.3,196.8h4.4v4.4h-4.4ZM478.8,199.5h4.4v4.4h-4.4ZM479.7,197.5h4.4v4.4h-4.4ZM484.0,199.9h4.4v4.4h-4.4ZM479.4,201.6h4.4v4.4h-4.4ZM485.6,186.9h4.4v4.4h-4.4ZM483.6,195.4h4.4v4.4h-4.4ZM483.5,198.8h4.4v4.4h-4.4ZM491.5,198.7h4.4v4.4h-4.4ZM479.2,198.5h4.4v4.4h-4.4ZM483.0,195.2h4.4v4.4h-4.4ZM484.0,191.8h4.4v4.4h-4.4ZM481.9,188.1h4.4v4.4h-4.4ZM482.9,195.7h4.4v4.4h-4.4ZM487.7,189.6h4.4v4.4h-4.4ZM491.3,189.0h4.4v4.4h-4.4ZM491.6,186.0h4.4v4.4h-4.4ZM485.2,193.3h4.4v4.4h-4.4ZM490.0,184.4h4.4v4.4h-4.4ZM490.0,185.3h4.4v4.4h-4.4ZM488.1,193.0h4.4v4.4h-4.4ZM479.3,201.8h4.4v4.4h-4.4ZM483.6,189.0h4.4v4.4h-4.4ZM486.6,195.6h4.4v4.4h-4.4ZM485.9,189.1h4.4v4.4h-4.4ZM477.3,195.2h4.4v4.4h-4.4ZM490.7,184.1h4.4v4.4h-4.4ZM481.2,196.6h4.4v4.4h-4.4ZM489.3,182.5h4.4v4.4h-4.4ZM479.9,197.6h4.4v4.4h-4.4ZM483.8,194.7h4.4v4.4h-4.4ZM487.4,191.4h4.4v4.4h-4.4ZM478.0,196.3h4.4v4.4h-4.4ZM481.3,194.6h4.4v4.4h-4.4ZM483.6,188.3h4.4v4.4h-4.4ZM488.8,190.4h4.4v4.4h-4.4ZM491.4,187.4h4.4v4.4h-4.4ZM485.9,194.2h4.4v4.4h-4.4ZM490.9,185.4h4.4v4.4h-4.4ZM482.1,199.6h4.4v4.4h-4.4ZM484.0,190.5h4.4v4.4h-4.4ZM487.6,189.0h4.4v4.4h-4.4ZM479.5,203.8h4.4v4.4h-4.4ZM494.6,195.0h4.4v4.4h-4.4ZM492.9,192.1h4.4v4.4h-4.4ZM482.3,190.3h4.4v4.4h-4.4ZM491.0,186.7h4.4v4.4h-4.4ZM487.0,190.4h4.4v4.4h-4.4ZM482.9,197.5h4.4v4.4h-4.4ZM488.2,188.0h4.4v4.4h-4.4ZM488.3,197.8h4.4v4.4h-4.4ZM491.1,195.0h4.4v4.4h-4.4ZM495.2,188.7h4.4v4.4h-4.4ZM487.1,190.6h4.4v4.4h-4.4ZM487.1,187.9h4.4v4.4h-4.4ZM488.2,187.6h4.4v4.4h-4.4ZM479.7,200.0h4.4v4.4h-4.4ZM479.4,205.2h4.4v4.4h-4.4ZM475.8,200.4h4.4v4.4h-4.4ZM484.2,195.5h4.4v4.4h-4.4ZM491.6,185.9h4.4v4.4h-4.4ZM483.5,195.4h4.4v4.4h-4.4ZM491.8,187.6h4.4v4.4h-4.4ZM482.3,199.5h4.4v4.4h-4.4ZM479.7,201.9h4.4v4.4h-4.4ZM485.3,198.6h4.4v4.4h-4.4ZM489.1,187.6h4.4v4.4h-4.4ZM491.9,186.2h4.4v4.4h-4.4ZM482.7,191.6h4.4v4.4h-4.4ZM485.9,200.1h4.4v4.4h-4.4ZM486.4,186.8h4.4v4.4h-4.4ZM483.1,195.8h4.4v4.4h-4.4ZM481.4,198.2h4.4v4.4h-4.4ZM489.8,191.3h4.4v4.4h-4.4ZM479.2,203.5h4.4v4.4h-4.4ZM491.5,192.3h4.4v4.4h-4.4ZM489.6,184.3h4.4v4.4h-4.4ZM478.3,201.9h4.4v4.4h-4.4ZM487.2,187.8h4.4v4.4h-4.4ZM476.2,201.3h4.4v4.4h-4.4ZM478.7,201.5h4.4v4.4h-4.4ZM481.6,198.7h4.4v4.4h-4.4ZM490.0,183.2h4.4v4.4h-4.4ZM476.8,202.1h4.4v4.4h-4.4ZM483.1,194.7h4.4v4.4h-4.4ZM481.8,193.9h4.4v4.4h-4.4ZM479.2,200.3h4.4v4.4h-4.4ZM487.6,181.6h4.4v4.4h-4.4ZM481.8,200.9h4.4v4.4h-4.4ZM488.0,184.5h4.4v4.4h-4.4ZM482.0,190.7h4.4v4.4h-4.4ZM489.8,192.7h4.4v4.4h-4.4ZM486.3,188.2h4.4v4.4h-4.4ZM486.4,190.6h4.4v4.4h-4.4ZM487.3,187.0h4.4v4.4h-4.4ZM492.6,189.8h4.4v4.4h-4.4ZM478.0,200.3h4.4v4.4h-4.4ZM479.6,203.7h4.4v4.4h-4.4ZM484.1,195.8h4.4v4.4h-4.4ZM475.8,198.6h4.4v4.4h-4.4ZM490.1,197.1h4.4v4.4h-4.4ZM494.0,189.1h4.4v4.4h-4.4ZM486.7,196.3h4.4v4.4h-4.4ZM476.9,198.3h4.4v4.4h-4.4ZM479.5,202.6h4.4v4.4h-4.4ZM487.8,196.8h4.4v4.4h-4.4ZM485.8,187.7h4.4v4.4h-4.4ZM488.5,188.2h4.4v4.4h-4.4ZM487.5,189.0h4.4v4.4h-4.4ZM485.2,196.5h4.4v4.4h-4.4ZM487.2,184.7h4.4v4.4h-4.4ZM485.1,193.8h4.4v4.4h-4.4ZM491.0,194.9h4.4v4.4h-4.4ZM478.6,205.5h4.4v4.4h-4.4ZM485.7,196.1h4.4v4.4h-4.4ZM477.9,202.1h4.4v4.4h-4.4ZM478.1,198.0h4.4v4.4h-4.4ZM482.5,199.3h4.4v4.4h-4.4ZM486.5,194.2h4.4v4.4h-4.4ZM475.8,197.6h4.4v4.4h-4.4ZM488.6,191.5h4.4v4.4h-4.4ZM482.4,196.1h4.4v4.4h-4.4ZM482.2,201.9h4.4v4.4h-4.4ZM490.3,185.0h4.4v4.4h-4.4ZM484.8,189.4h4.4v4.4h-4.4ZM482.7,198.4h4.4v4.4h-4.4ZM476.2,199.1h4.4v4.4h-4.4ZM484.6,195.0h4.4v4.4h-4.4ZM487.9,188.8h4.4v4.4h-4.4ZM485.8,195.5h4.4v4.4h-4.4ZM482.7,199.3h4.4v4.4h-4.4ZM481.0,204.3h4.4v4.4h-4.4ZM479.3,198.8h4.4v4.4h-4.4ZM489.3,189.6h4.4v4.4h-4.4ZM479.3,200.9h4.4v4.4h-4.4ZM494.0,187.8h4.4v4.4h-4.4ZM490.1,192.5h4.4v4.4h-4.4ZM483.9,197.3h4.4v4.4h-4.4ZM478.3,199.0h4.4v4.4h-4.4ZM483.0,194.3h4.4v4.4h-4.4ZM492.7,187.5h4.4v4.4h-4.4ZM477.5,200.6h4.4v4.4h-4.4ZM476.6,195.4h4.4v4.4h-4.4ZM477.2,201.7h4.4v4.4h-4.4ZM483.7,186.2h4.4v4.4h-4.4ZM490.4,185.3h4.4v4.4h-4.4ZM482.4,190.6h4.4v4.4h-4.4ZM482.0,199.0h4.4v4.4h-4.4ZM489.2,183.6h4.4v4.4h-4.4ZM487.9,195.1h4.4v4.4h-4.4ZM491.0,185.5h4.4v4.4h-4.4ZM482.8,197.2h4.4v4.4h-4.4ZM482.5,204.7h4.4v4.4h-4.4ZM480.1,204.8h4.4v4.4h-4.4ZM478.2,196.2h4.4v4.4h-4.4ZM482.1,194.5h4.4v4.4h-4.4ZM485.7,186.9h4.4v4.4h-4.4ZM483.3,194.5h4.4v4.4h-4.4ZM486.3,204.2h4.4v4.4h-4.4ZM490.0,186.5h4.4v4.4h-4.4ZM486.5,194.0h4.4v4.4h-4.4ZM486.8,193.4h4.4v4.4h-4.4ZM490.1,189.4h4.4v4.4h-4.4ZM488.4,192.7h4.4v4.4h-4.4ZM482.0,200.9h4.4v4.4h-4.4ZM488.8,183.6h4.4v4.4h-4.4ZM477.9,199.5h4.4v4.4h-4.4ZM480.1,201.7h4.4v4.4h-4.4ZM487.4,192.4h4.4v4.4h-4.4ZM483.5,190.9h4.4v4.4h-4.4ZM479.1,198.4h4.4v4.4h-4.4ZM487.0,190.2h4.4v4.4h-4.4ZM480.3,204.0h4.4v4.4h-4.4ZM484.6,195.6h4.4v4.4h-4.4ZM493.5,188.5h4.4v4.4h-4.4ZM494.3,190.9h4.4v4.4h-4.4ZM484.0,190.6h4.4v4.4h-4.4ZM489.5,189.6h4.4v4.4h-4.4ZM487.6,192.2h4.4v4.4h-4.4ZM481.9,201.0h4.4v4.4h-4.4ZM488.3,186.3h4.4v4.4h-4.4ZM481.7,188.1h4.4v4.4h-4.4ZM484.5,191.4h4.4v4.4h-4.4ZM489.5,184.3h4.4v4.4h-4.4ZM487.6,195.7h4.4v4.4h-4.4ZM481.1,197.1h4.4v4.4h-4.4ZM482.5,195.3h4.4v4.4h-4.4ZM482.1,190.3h4.4v4.4h-4.4ZM490.0,187.6h4.4v4.4h-4.4ZM491.5,190.0h4.4v4.4h-4.4ZM482.7,196.3h4.4v4.4h-4.4ZM484.9,195.4h4.4v4.4h-4.4ZM476.3,199.6h4.4v4.4h-4.4ZM485.7,191.1h4.4v4.4h-4.4ZM488.6,188.5h4.4v4.4h-4.4ZM477.7,198.1h4.4v4.4h-4.4ZM487.3,192.8h4.4v4.4h-4.4ZM480.3,202.6h4.4v4.4h-4.4ZM493.3,191.9h4.4v4.4h-4.4ZM485.5,187.8h4.4v4.4h-4.4ZM490.0,185.4h4.4v4.4h-4.4ZM479.5,196.9h4.4v4.4h-4.4ZM478.9,200.2h4.4v4.4h-4.4ZM482.0,189.7h4.4v4.4h-4.4ZM479.1,204.3h4.4v4.4h-4.4ZM486.9,186.1h4.4v4.4h-4.4ZM481.2,201.3h4.4v4.4h-4.4ZM479.3,201.8h4.4v4.4h-4.4ZM481.0,203.1h4.4v4.4h-4.4ZM487.2,190.5h4.4v4.4h-4.4ZM477.6,203.0h4.4v4.4h-4.4ZM482.1,194.9h4.4v4.4h-4.4ZM480.3,201.2h4.4v4.4h-4.4ZM491.4,192.0h4.4v4.4h-4.4ZM476.0,201.3h4.4v4.4h-4.4ZM476.8,197.3h4.4v4.4h-4.4ZM487.0,187.9h4.4v4.4h-4.4ZM484.6,194.1h4.4v4.4h-4.4ZM477.3,200.5h4.4v4.4h-4.4ZM495.4,188.8h4.4v4.4h-4.4ZM482.8,197.3h4.4v4.4h-4.4ZM480.6,193.5h4.4v4.4h-4.4ZM487.1,189.0h4.4v4.4h-4.4ZM485.8,196.2h4.4v4.4h-4.4ZM487.7,186.7h4.4v4.4h-4.4ZM485.0,193.9h4.4v4.4h-4.4ZM478.7,197.5h4.4v4.4h-4.4ZM487.6,196.5h4.4v4.4h-4.4ZM490.6,189.3h4.4v4.4h-4.4ZM480.1,197.7h4.4v4.4h-4.4ZM485.7,191.3h4.4v4.4h-4.4ZM484.4,191.8h4.4v4.4h-4.4ZM487.3,190.9h4.4v4.4h-4.4ZM482.4,197.3h4.4v4.4h-4.4ZM478.9,198.3h4.4v4.4h-4.4ZM485.1,189.6h4.4v4.4h-4.4ZM492.7,191.1h4.4v4.4h-4.4ZM484.4,195.5h4.4v4.4h-4.4ZM478.9,201.3h4.4v4.4h-4.4ZM488.7,188.5h4.4v4.4h-4.4ZM482.6,191.8h4.4v4.4h-4.4ZM489.8,193.7h4.4v4.4h-4.4ZM476.8,200.5h4.4v4.4h-4.4ZM492.2,192.6h4.4v4.4h-4.4ZM483.7,198.1h4.4v4.4h-4.4ZM491.4,188.3h4.4v4.4h-4.4ZM480.7,199.4h4.4v4.4h-4.4ZM477.6,204.5h4.4v4.4h-4.4ZM482.4,198.6h4.4v4.4h-4.4ZM488.4,191.0h4.4v4.4h-4.4ZM488.2,190.9h4.4v4.4h-4.4ZM493.4,191.7h4.4v4.4h-4.4ZM482.4,202.3h4.4v4.4h-4.4ZM486.6,193.5h4.4v4.4h-4.4ZM476.4,201.0h4.4v4.4h-4.4ZM477.8,197.3h4.4v4.4h-4.4ZM475.8,196.9h4.4v4.4h-4.4ZM487.8,193.6h4.4v4.4h-4.4ZM490.1,186.8h4.4v4.4h-4.4ZM484.4,191.1h4.4v4.4h-4.4ZM485.6,192.2h4.4v4.4h-4.4ZM492.7,189.1h4.4v4.4h-4.4ZM481.7,197.6h4.4v4.4h-4.4ZM485.2,193.4h4.4v4.4h-4.4ZM491.9,191.5h4.4v4.4h-4.4ZM481.8,202.2h4.4v4.4h-4.4ZM485.0,188.3h4.4v4.4h-4.4ZM481.9,206.4h4.4v4.4h-4.4ZM481.8,196.3h4.4v4.4h-4.4ZM479.7,200.5h4.4v4.4h-4.4ZM480.4,192.8h4.4v4.4h-4.4ZM478.3,198.5h4.4v4.4h-4.4ZM479.0,204.0h4.4v4.4h-4.4ZM480.8,192.8h4.4v4.4h-4.4ZM483.6,197.4h4.4v4.4h-4.4ZM483.9,186.2h4.4v4.4h-4.4ZM475.8,199.8h4.4v4.4h-4.4ZM500.0,173.3h4.4v4.4h-4.4ZM489.3,187.7h4.4v4.4h-4.4ZM500.3,179.8h4.4v4.4h-4.4ZM487.1,186.5h4.4v4.4h-4.4ZM506.2,168.5h4.4v4.4h-4.4ZM496.8,176.3h4.4v4.4h-4.4ZM496.2,176.1h4.4v4.4h-4.4ZM487.4,184.7h4.4v4.4h-4.4ZM502.5,169.7h4.4v4.4h-4.4ZM494.3,183.2h4.4v4.4h-4.4ZM498.0,178.2h4.4v4.4h-4.4ZM502.4,172.3h4.4v4.4h-4.4ZM504.8,171.9h4.4v4.4h-4.4ZM497.0,180.7h4.4v4.4h-4.4ZM486.3,184.0h4.4v4.4h-4.4ZM507.5,166.9h4.4v4.4h-4.4ZM490.1,179.5h4.4v4.4h-4.4ZM491.1,189.6h4.4v4.4h-4.4ZM501.2,175.2h4.4v4.4h-4.4ZM507.1,170.9h4.4v4.4h-4.4ZM491.3,187.8h4.4v4.4h-4.4ZM490.2,188.6h4.4v4.4h-4.4ZM502.6,174.2h4.4v4.4h-4.4ZM501.1,176.9h4.4v4.4h-4.4ZM490.4,179.6h4.4v4.4h-4.4ZM492.7,181.7h4.4v4.4h-4.4ZM505.6,173.6h4.4v4.4h-4.4ZM490.3,189.7h4.4v4.4h-4.4ZM492.1,182.1h4.4v4.4h-4.4ZM494.9,179.7h4.4v4.4h-4.4ZM505.5,173.2h4.4v4.4h-4.4ZM493.2,180.1h4.4v4.4h-4.4ZM492.7,190.6h4.4v4.4h-4.4ZM504.6,173.6h4.4v4.4h-4.4ZM499.1,170.3h4.4v4.4h-4.4ZM496.5,191.3h4.4v4.4h-4.4ZM503.7,173.3h4.4v4.4h-4.4ZM499.3,173.1h4.4v4.4h-4.4ZM496.4,180.9h4.4v4.4h-4.4ZM501.9,177.5h4.4v4.4h-4.4ZM500.6,179.3h4.4v4.4h-4.4ZM508.8,175.7h4.4v4.4h-4.4ZM510.4,171.1h4.4v4.4h-4.4ZM495.4,181.1h4.4v4.4h-4.4ZM491.7,188.1h4.4v4.4h-4.4ZM496.1,180.8h4.4v4.4h-4.4ZM501.0,175.8h4.4v4.4h-4.4ZM493.3,182.6h4.4v4.4h-4.4ZM495.1,188.8h4.4v4.4h-4.4ZM493.6,184.8h4.4v4.4h-4.4ZM506.4,171.2h4.4v4.4h-4.4ZM503.7,173.8h4.4v4.4h-4.4ZM493.0,187.9h4.4v4.4h-4.4ZM499.1,186.5h4.4v4.4h-4.4ZM492.9,181.6h4.4v4.4h-4.4ZM489.4,184.9h4.4v4.4h-4.4ZM500.8,166.1h4.4v4.4h-4.4ZM493.1,181.0h4.4v4.4h-4.4ZM496.8,172.9h4.4v4.4h-4.4ZM495.2,179.1h4.4v4.4h-4.4ZM490.9,188.2h4.4v4.4h-4.4ZM488.5,187.2h4.4v4.4h-4.4ZM505.0,175.9h4.4v4.4h-4.4ZM500.8,174.4h4.4v4.4h-4.4ZM498.8,178.0h4.4v4.4h-4.4ZM494.4,187.1h4.4v4.4h-4.4ZM493.1,178.9h4.4v4.4h-4.4ZM496.7,175.3h4.4v4.4h-4.4ZM492.1,183.2h4.4v4.4h-4.4ZM498.7,174.3h4.4v4.4h-4.4ZM502.3,167.5h4.4v4.4h-4.4ZM492.6,185.3h4.4v4.4h-4.4ZM510.1,171.6h4.4v4.4h-4.4ZM500.8,179.3h4.4v4.4h-4.4ZM506.9,166.6h4.4v4.4h-4.4ZM507.7,167.7h4.4v4.4h-4.4ZM493.0,190.5h4.4v4.4h-4.4ZM499.8,171.2h4.4v4.4h-4.4ZM493.2,183.1h4.4v4.4h-4.4ZM498.0,171.9h4.4v4.4h-4.4ZM504.3,167.5h4.4v4.4h-4.4ZM498.8,179.4h4.4v4.4h-4.4ZM501.6,174.2h4.4v4.4h-4.4ZM503.6,175.6h4.4v4.4h-4.4ZM494.2,186.4h4.4v4.4h-4.4ZM497.8,179.9h4.4v4.4h-4.4ZM493.6,181.4h4.4v4.4h-4.4ZM495.7,175.3h4.4v4.4h-4.4ZM505.8,174.0h4.4v4.4h-4.4ZM490.2,184.3h4.4v4.4h-4.4ZM499.7,176.3h4.4v4.4h-4.4ZM499.2,177.9h4.4v4.4h-4.4ZM494.2,178.0h4.4v4.4h-4.4ZM506.3,171.3h4.4v4.4h-4.4ZM493.0,178.3h4.4v4.4h-4.4ZM505.4,172.1h4.4v4.4h-4.4ZM492.0,189.2h4.4v4.4h-4.4ZM496.0,177.5h4.4v4.4h-4.4ZM493.8,189.4h4.4v4.4h-4.4ZM508.0,172.9h4.4v4.4h-4.4ZM502.4,174.5h4.4v4.4h-4.4ZM492.9,184.1h4.4v4.4h-4.4ZM496.7,181.0h4.4v4.4h-4.4ZM495.2,190.0h4.4v4.4h-4.4ZM509.1,172.4h4.4v4.4h-4.4ZM505.5,168.6h4.4v4.4h-4.4ZM505.5,168.6h4.4v4.4h-4.4ZM502.8,177.3h4.4v4.4h-4.4ZM493.4,182.4h4.4v4.4h-4.4ZM497.4,178.2h4.4v4.4h-4.4ZM500.0,172.1h4.4v4.4h-4.4ZM498.7,180.7h4.4v4.4h-4.4ZM486.9,184.8h4.4v4.4h-4.4ZM499.8,177.6h4.4v4.4h-4.4ZM487.6,184.1h4.4v4.4h-4.4ZM491.5,181.8h4.4v4.4h-4.4ZM507.0,173.1h4.4v4.4h-4.4ZM501.6,175.8h4.4v4.4h-4.4ZM504.1,170.9h4.4v4.4h-4.4ZM500.2,171.8h4.4v4.4h-4.4ZM504.6,177.0h4.4v4.4h-4.4ZM494.6,184.3h4.4v4.4h-4.4ZM501.6,172.0h4.4v4.4h-4.4ZM490.2,185.2h4.4v4.4h-4.4ZM491.1,190.6h4.4v4.4h-4.4ZM497.3,183.0h4.4v4.4h-4.4ZM491.0,184.6h4.4v4.4h-4.4ZM504.6,175.6h4.4v4.4h-4.4ZM493.9,182.0h4.4v4.4h-4.4ZM487.5,186.4h4.4v4.4h-4.4ZM504.2,171.9h4.4v4.4h-4.4ZM512.7,174.1h4.4v4.4h-4.4ZM500.6,170.9h4.4v4.4h-4.4ZM505.5,166.1h4.4v4.4h-4.4ZM501.5,169.0h4.4v4.4h-4.4ZM505.6,167.2h4.4v4.4h-4.4ZM505.5,177.3h4.4v4.4h-4.4ZM501.6,168.9h4.4v4.4h-4.4ZM503.9,170.8h4.4v4.4h-4.4ZM489.1,184.5h4.4v4.4h-4.4ZM495.4,182.0h4.4v4.4h-4.4ZM501.5,175.6h4.4v4.4h-4.4ZM495.6,182.1h4.4v4.4h-4.4ZM503.0,166.8h4.4v4.4h-4.4ZM489.2,187.2h4.4v4.4h-4.4ZM491.6,186.5h4.4v4.4h-4.4ZM497.8,184.0h4.4v4.4h-4.4ZM494.6,180.2h4.4v4.4h-4.4ZM505.3,170.8h4.4v4.4h-4.4ZM488.7,188.3h4.4v4.4h-4.4ZM503.3,168.9h4.4v4.4h-4.4ZM506.7,166.6h4.4v4.4h-4.4ZM489.7,187.8h4.4v4.4h-4.4ZM507.3,168.0h4.4v4.4h-4.4ZM501.7,174.0h4.4v4.4h-4.4ZM489.9,184.5h4.4v4.4h-4.4ZM503.9,169.4h4.4v4.4h-4.4ZM490.8,186.0h4.4v4.4h-4.4ZM498.1,181.9h4.4v4.4h-4.4ZM491.8,181.9h4.4v4.4h-4.4ZM494.6,178.4h4.4v4.4h-4.4ZM493.7,187.8h4.4v4.4h-4.4ZM495.5,179.6h4.4v4.4h-4.4ZM500.8,176.8h4.4v4.4h-4.4ZM502.3,182.7h4.4v4.4h-4.4ZM499.2,177.2h4.4v4.4h-4.4ZM504.7,167.7h4.4v4.4h-4.4ZM507.2,171.9h4.4v4.4h-4.4ZM492.4,187.8h4.4v4.4h-4.4ZM501.4,170.7h4.4v4.4h-4.4ZM506.8,173.7h4.4v4.4h-4.4ZM508.8,171.2h4.4v4.4h-4.4ZM497.2,180.7h4.4v4.4h-4.4ZM505.9,167.8h4.4v4.4h-4.4ZM498.6,175.0h4.4v4.4h-4.4ZM499.1,179.3h4.4v4.4h-4.4ZM499.5,178.0h4.4v4.4h-4.4ZM496.8,179.4h4.4v4.4h-4.4ZM503.3,174.4h4.4v4.4h-4.4ZM501.1,178.6h4.4v4.4h-4.4ZM508.5,172.1h4.4v4.4h-4.4ZM496.7,176.9h4.4v4.4h-4.4ZM490.2,188.2h4.4v4.4h-4.4ZM486.1,179.7h4.4v4.4h-4.4ZM495.7,178.3h4.4v4.4h-4.4ZM499.6,179.7h4.4v4.4h-4.4ZM505.0,171.2h4.4v4.4h-4.4ZM499.8,174.9h4.4v4.4h-4.4ZM491.3,184.3h4.4v4.4h-4.4ZM493.9,181.2h4.4v4.4h-4.4ZM498.5,175.9h4.4v4.4h-4.4ZM504.9,171.9h4.4v4.4h-4.4ZM501.6,172.0h4.4v4.4h-4.4ZM497.1,170.3h4.4v4.4h-4.4ZM494.7,184.0h4.4v4.4h-4.4ZM500.9,176.8h4.4v4.4h-4.4ZM492.2,182.0h4.4v4.4h-4.4ZM487.5,185.0h4.4v4.4h-4.4ZM502.3,170.7h4.4v4.4h-4.4ZM499.3,172.0h4.4v4.4h-4.4ZM508.6,167.8h4.4v4.4h-4.4ZM504.1,173.0h4.4v4.4h-4.4ZM492.4,181.9h4.4v4.4h-4.4ZM487.9,187.0h4.4v4.4h-4.4ZM494.0,175.9h4.4v4.4h-4.4ZM492.4,178.2h4.4v4.4h-4.4ZM502.7,180.8h4.4v4.4h-4.4ZM494.6,178.9h4.4v4.4h-4.4ZM491.0,189.2h4.4v4.4h-4.4ZM494.3,191.6h4.4v4.4h-4.4ZM495.1,180.0h4.4v4.4h-4.4ZM500.8,176.0h4.4v4.4h-4.4ZM492.9,185.7h4.4v4.4h-4.4ZM494.9,187.5h4.4v4.4h-4.4ZM495.4,185.7h4.4v4.4h-4.4ZM504.0,173.1h4.4v4.4h-4.4ZM507.0,175.2h4.4v4.4h-4.4ZM498.7,178.1h4.4v4.4h-4.4ZM489.6,187.6h4.4v4.4h-4.4ZM507.8,169.0h4.4v4.4h-4.4ZM505.5,169.5h4.4v4.4h-4.4ZM494.9,182.3h4.4v4.4h-4.4ZM491.2,191.1h4.4v4.4h-4.4ZM500.6,179.8h4.4v4.4h-4.4ZM491.8,184.9h4.4v4.4h-4.4ZM494.4,178.4h4.4v4.4h-4.4ZM496.4,179.6h4.4v4.4h-4.4ZM496.0,182.9h4.4v4.4h-4.4ZM506.7,168.9h4.4v4.4h-4.4ZM500.1,183.7h4.4v4.4h-4.4ZM493.0,188.4h4.4v4.4h-4.4ZM501.0,176.7h4.4v4.4h-4.4ZM506.6,169.9h4.4v4.4h-4.4ZM494.0,184.4h4.4v4.4h-4.4ZM499.4,178.0h4.4v4.4h-4.4ZM498.7,182.8h4.4v4.4h-4.4ZM503.4,175.1h4.4v4.4h-4.4ZM494.5,181.4h4.4v4.4h-4.4ZM497.5,186.9h4.4v4.4h-4.4ZM510.4,170.7h4.4v4.4h-4.4ZM505.9,171.7h4.4v4.4h-4.4ZM499.9,170.5h4.4v4.4h-4.4ZM500.5,173.0h4.4v4.4h-4.4ZM504.3,165.7h4.4v4.4h-4.4ZM487.2,185.1h4.4v4.4h-4.4ZM498.5,179.9h4.4v4.4h-4.4ZM501.4,175.2h4.4v4.4h-4.4ZM493.7,188.4h4.4v4.4h-4.4ZM506.3,165.3h4.4v4.4h-4.4ZM501.0,172.3h4.4v4.4h-4.4ZM502.8,171.1h4.4v4.4h-4.4ZM506.8,166.9h4.4v4.4h-4.4ZM499.4,175.0h4.4v4.4h-4.4ZM506.6,168.8h4.4v4.4h-4.4ZM495.7,180.0h4.4v4.4h-4.4ZM504.8,166.7h4.4v4.4h-4.4ZM500.5,179.0h4.4v4.4h-4.4ZM506.3,174.1h4.4v4.4h-4.4ZM494.2,182.8h4.4v4.4h-4.4ZM496.0,175.9h4.4v4.4h-4.4ZM499.4,175.9h4.4v4.4h-4.4ZM499.5,177.7h4.4v4.4h-4.4ZM505.6,167.4h4.4v4.4h-4.4ZM497.7,178.4h4.4v4.4h-4.4ZM510.1,173.8h4.4v4.4h-4.4ZM493.0,188.5h4.4v4.4h-4.4ZM497.1,188.4h4.4v4.4h-4.4ZM492.7,185.5h4.4v4.4h-4.4ZM493.3,185.8h4.4v4.4h-4.4ZM499.6,174.9h4.4v4.4h-4.4ZM486.6,182.5h4.4v4.4h-4.4ZM503.4,175.2h4.4v4.4h-4.4ZM506.2,170.1h4.4v4.4h-4.4ZM508.0,169.8h4.4v4.4h-4.4ZM495.5,193.3h4.4v4.4h-4.4ZM495.2,184.9h4.4v4.4h-4.4ZM499.0,180.4h4.4v4.4h-4.4ZM488.5,188.2h4.4v4.4h-4.4ZM503.9,175.7h4.4v4.4h-4.4ZM500.4,181.2h4.4v4.4h-4.4ZM496.1,178.1h4.4v4.4h-4.4ZM492.0,185.6h4.4v4.4h-4.4ZM491.9,189.2h4.4v4.4h-4.4ZM507.9,171.3h4.4v4.4h-4.4ZM501.3,176.1h4.4v4.4h-4.4ZM494.0,179.5h4.4v4.4h-4.4ZM503.5,167.1h4.4v4.4h-4.4ZM493.7,189.0h4.4v4.4h-4.4ZM494.4,177.6h4.4v4.4h-4.4ZM490.1,187.3h4.4v4.4h-4.4ZM503.9,170.9h4.4v4.4h-4.4ZM504.5,167.9h4.4v4.4h-4.4ZM496.4,184.4h4.4v4.4h-4.4ZM503.4,169.4h4.4v4.4h-4.4ZM510.4,171.1h4.4v4.4h-4.4ZM494.3,184.7h4.4v4.4h-4.4ZM509.8,169.9h4.4v4.4h-4.4ZM492.1,178.0h4.4v4.4h-4.4ZM499.6,170.1h4.4v4.4h-4.4ZM498.0,175.3h4.4v4.4h-4.4ZM494.7,180.0h4.4v4.4h-4.4ZM501.8,176.5h4.4v4.4h-4.4ZM485.3,185.6h4.4v4.4h-4.4ZM496.0,174.8h4.4v4.4h-4.4ZM496.9,175.8h4.4v4.4h-4.4ZM501.6,175.0h4.4v4.4h-4.4ZM504.7,172.9h4.4v4.4h-4.4ZM506.5,170.1h4.4v4.4h-4.4ZM502.1,168.8h4.4v4.4h-4.4ZM508.0,171.9h4.4v4.4h-4.4ZM496.0,180.2h4.4v4.4h-4.4ZM487.6,183.4h4.4v4.4h-4.4ZM500.0,172.7h4.4v4.4h-4.4ZM486.1,184.5h4.4v4.4h-4.4ZM507.0,167.6h4.4v4.4h-4.4ZM497.5,177.1h4.4v4.4h-4.4ZM491.1,180.4h4.4v4.4h-4.4ZM488.0,187.0h4.4v4.4h-4.4ZM504.9,169.9h4.4v4.4h-4.4ZM506.4,171.8h4.4v4.4h-4.4ZM494.3,188.9h4.4v4.4h-4.4ZM501.2,169.1h4.4v4.4h-4.4ZM491.3,187.8h4.4v4.4h-4.4ZM504.1,175.0h4.4v4.4h-4.4ZM497.6,175.1h4.4v4.4h-4.4ZM503.3,176.3h4.4v4.4h-4.4ZM494.1,188.5h4.4v4.4h-4.4ZM505.7,172.7h4.4v4.4h-4.4ZM504.5,171.8h4.4v4.4h-4.4ZM505.0,170.1h4.4v4.4h-4.4ZM495.7,178.8h4.4v4.4h-4.4ZM491.9,181.1h4.4v4.4h-4.4ZM499.9,176.6h4.4v4.4h-4.4ZM501.9,172.7h4.4v4.4h-4.4ZM504.1,172.4h4.4v4.4h-4.4ZM498.9,180.0h4.4v4.4h-4.4ZM500.0,174.4h4.4v4.4h-4.4ZM500.9,173.8h4.4v4.4h-4.4ZM496.8,171.9h4.4v4.4h-4.4ZM501.8,171.9h4.4v4.4h-4.4ZM496.2,183.3h4.4v4.4h-4.4ZM492.2,182.4h4.4v4.4h-4.4ZM494.9,182.9h4.4v4.4h-4.4ZM501.4,168.5h4.4v4.4h-4.4ZM511.4,171.4h4.4v4.4h-4.4ZM496.3,183.0h4.4v4.4h-4.4ZM503.1,175.6h4.4v4.4h-4.4ZM500.0,175.5h4.4v4.4h-4.4ZM506.5,170.1h4.4v4.4h-4.4ZM492.1,191.7h4.4v4.4h-4.4ZM504.8,178.6h4.4v4.4h-4.4ZM505.7,169.7h4.4v4.4h-4.4ZM505.1,165.2h4.4v4.4h-4.4ZM494.1,176.6h4.4v4.4h-4.4ZM499.1,178.7h4.4v4.4h-4.4ZM504.5,169.7h4.4v4.4h-4.4ZM509.1,170.4h4.4v4.4h-4.4ZM496.2,186.4h4.4v4.4h-4.4ZM504.0,167.2h4.4v4.4h-4.4ZM489.7,184.9h4.4v4.4h-4.4ZM490.3,188.4h4.4v4.4h-4.4ZM490.0,188.9h4.4v4.4h-4.4ZM488.3,185.4h4.4v4.4h-4.4ZM489.9,186.1h4.4v4.4h-4.4ZM494.0,184.2h4.4v4.4h-4.4ZM493.8,181.8h4.4v4.4h-4.4ZM508.1,168.1h4.4v4.4h-4.4ZM505.5,172.2h4.4v4.4h-4.4ZM492.1,188.0h4.4v4.4h-4.4ZM490.7,182.7h4.4v4.4h-4.4ZM503.4,174.4h4.4v4.4h-4.4ZM503.0,177.7h4.4v4.4h-4.4ZM494.0,175.2h4.4v4.4h-4.4ZM494.7,176.8h4.4v4.4h-4.4ZM502.5,171.4h4.4v4.4h-4.4ZM498.6,177.8h4.4v4.4h-4.4ZM502.6,172.6h4.4v4.4h-4.4ZM491.7,191.5h4.4v4.4h-4.4ZM490.7,186.7h4.4v4.4h-4.4ZM491.8,184.2h4.4v4.4h-4.4ZM500.9,175.9h4.4v4.4h-4.4ZM499.4,174.9h4.4v4.4h-4.4ZM507.5,171.5h4.4v4.4h-4.4ZM506.0,169.3h4.4v4.4h-4.4ZM507.9,174.3h4.4v4.4h-4.4ZM495.3,181.4h4.4v4.4h-4.4ZM491.0,188.8h4.4v4.4h-4.4ZM509.0,172.3h4.4v4.4h-4.4ZM508.1,169.6h4.4v4.4h-4.4ZM489.1,188.4h4.4v4.4h-4.4ZM489.9,190.0h4.4v4.4h-4.4ZM490.4,183.1h4.4v4.4h-4.4ZM497.3,182.1h4.4v4.4h-4.4ZM500.9,171.5h4.4v4.4h-4.4ZM496.4,177.1h4.4v4.4h-4.4ZM503.1,175.4h4.4v4.4h-4.4ZM502.1,168.4h4.4v4.4h-4.4ZM494.9,187.6h4.4v4.4h-4.4ZM493.8,180.9h4.4v4.4h-4.4ZM508.0,167.9h4.4v4.4h-4.4ZM498.0,175.1h4.4v4.4h-4.4ZM501.6,180.8h4.4v4.4h-4.4ZM502.1,178.7h4.4v4.4h-4.4ZM501.3,178.1h4.4v4.4h-4.4ZM503.2,172.9h4.4v4.4h-4.4ZM505.9,169.9h4.4v4.4h-4.4ZM501.2,174.9h4.4v4.4h-4.4ZM501.8,175.3h4.4v4.4h-4.4ZM501.7,177.2h4.4v4.4h-4.4ZM496.2,186.2h4.4v4.4h-4.4ZM504.8,173.0h4.4v4.4h-4.4ZM491.6,183.5h4.4v4.4h-4.4ZM491.9,181.2h4.4v4.4h-4.4ZM496.5,182.2h4.4v4.4h-4.4ZM497.1,174.9h4.4v4.4h-4.4ZM507.8,173.8h4.4v4.4h-4.4ZM494.3,179.4h4.4v4.4h-4.4ZM502.9,177.5h4.4v4.4h-4.4ZM496.9,178.6h4.4v4.4h-4.4ZM499.5,180.7h4.4v4.4h-4.4ZM523.4,156.8h4.4v4.4h-4.4ZM516.7,161.7h4.4v4.4h-4.4ZM501.3,169.4h4.4v4.4h-4.4ZM520.9,158.0h4.4v4.4h-4.4ZM511.7,162.1h4.4v4.4h-4.4ZM521.1,154.6h4.4v4.4h-4.4ZM505.4,169.6h4.4v4.4h-4.4ZM520.7,154.4h4.4v4.4h-4.4ZM514.5,159.3h4.4v4.4h-4.4ZM517.5,163.5h4.4v4.4h-4.4ZM512.8,163.3h4.4v4.4h-4.4ZM520.8,154.2h4.4v4.4h-4.4ZM520.2,158.4h4.4v4.4h-4.4ZM512.6,162.2h4.4v4.4h-4.4ZM512.6,167.6h4.4v4.4h-4.4ZM509.4,164.0h4.4v4.4h-4.4ZM513.9,165.1h4.4v4.4h-4.4ZM507.6,169.7h4.4v4.4h-4.4ZM506.5,166.7h4.4v4.4h-4.4ZM513.8,158.3h4.4v4.4h-4.4ZM519.0,159.5h4.4v4.4h-4.4ZM521.6,157.2h4.4v4.4h-4.4ZM504.7,167.7h4.4v4.4h-4.4ZM515.0,172.5h4.4v4.4h-4.4ZM504.5,166.5h4.4v4.4h-4.4ZM512.7,158.6h4.4v4.4h-4.4ZM511.4,169.1h4.4v4.4h-4.4ZM507.3,164.3h4.4v4.4h-4.4ZM504.3,170.5h4.4v4.4h-4.4ZM517.0,157.5h4.4v4.4h-4.4ZM525.4,160.0h4.4v4.4h-4.4ZM507.2,171.0h4.4v4.4h-4.4ZM513.1,163.9h4.4v4.4h-4.4ZM518.9,159.0h4.4v4.4h-4.4ZM520.4,157.4h4.4v4.4h-4.4ZM510.7,166.6h4.4v4.4h-4.4ZM510.5,177.0h4.4v4.4h-4.4ZM518.2,158.9h4.4v4.4h-4.4ZM518.1,160.9h4.4v4.4h-4.4ZM511.2,165.4h4.4v4.4h-4.4ZM522.7,155.6h4.4v4.4h-4.4ZM516.9,159.4h4.4v4.4h-4.4ZM513.6,161.6h4.4v4.4h-4.4ZM511.1,158.3h4.4v4.4h-4.4ZM506.8,172.6h4.4v4.4h-4.4ZM518.0,151.7h4.4v4.4h-4.4ZM522.4,154.9h4.4v4.4h-4.4ZM508.5,171.2h4.4v4.4h-4.4ZM520.7,161.3h4.4v4.4h-4.4ZM512.7,160.3h4.4v4.4h-4.4ZM514.0,168.3h4.4v4.4h-4.4ZM512.8,160.0h4.4v4.4h-4.4ZM505.3,169.6h4.4v4.4h-4.4ZM511.3,167.2h4.4v4.4h-4.4ZM511.2,167.7h4.4v4.4h-4.4ZM515.3,159.1h4.4v4.4h-4.4ZM513.1,162.6h4.4v4.4h-4.4ZM502.8,170.6h4.4v4.4h-4.4ZM509.0,167.2h4.4v4.4h-4.4ZM511.8,166.5h4.4v4.4h-4.4ZM509.4,164.8h4.4v4.4h-4.4ZM520.5,160.5h4.4v4.4h-4.4ZM517.3,155.8h4.4v4.4h-4.4ZM521.1,155.1h4.4v4.4h-4.4ZM523.2,157.5h4.4v4.4h-4.4ZM514.7,165.6h4.4v4.4h-4.4ZM514.6,163.0h4.4v4.4h-4.4ZM518.4,165.1h4.4v4.4h-4.4ZM510.3,160.5h4.4v4.4h-4.4ZM502.6,169.9h4.4v4.4h-4.4ZM507.9,172.6h4.4v4.4h-4.4ZM518.6,158.2h4.4v4.4h-4.4ZM514.2,155.5h4.4v4.4h-4.4ZM508.7,166.1h4.4v4.4h-4.4ZM509.4,170.9h4.4v4.4h-4.4ZM518.4,166.4h4.4v4.4h-4.4ZM522.5,160.3h4.4v4.4h-4.4ZM502.4,169.2h4.4v4.4h-4.4ZM515.1,160.0h4.4v4.4h-4.4ZM510.5,171.0h4.4v4.4h-4.4ZM507.1,166.5h4.4v4.4h-4.4ZM512.6,165.2h4.4v4.4h-4.4ZM508.1,170.8h4.4v4.4h-4.4ZM518.5,160.0h4.4v4.4h-4.4ZM506.4,171.7h4.4v4.4h-4.4ZM509.5,160.2h4.4v4.4h-4.4ZM517.9,162.2h4.4v4.4h-4.4ZM519.8,158.2h4.4v4.4h-4.4ZM511.3,159.8h4.4v4.4h-4.4ZM503.2,167.2h4.4v4.4h-4.4ZM520.5,159.7h4.4v4.4h-4.4ZM516.9,151.4h4.4v4.4h-4.4ZM502.1,169.8h4.4v4.4h-4.4ZM523.5,158.8h4.4v4.4h-4.4ZM511.6,157.6h4.4v4.4h-4.4ZM517.6,164.5h4.4v4.4h-4.4ZM509.5,164.1h4.4v4.4h-4.4ZM509.0,171.8h4.4v4.4h-4.4ZM518.3,165.1h4.4v4.4h-4.4ZM518.3,154.7h4.4v4.4h-4.4ZM503.4,171.2h4.4v4.4h-4.4ZM514.1,162.6h4.4v4.4h-4.4ZM515.1,160.5h4.4v4.4h-4.4ZM520.8,156.0h4.4v4.4h-4.4ZM504.5,172.7h4.4v4.4h-4.4ZM512.7,167.9h4.4v4.4h-4.4ZM504.9,169.0h4.4v4.4h-4.4ZM509.4,166.8h4.4v4.4h-4.4ZM520.9,156.5h4.4v4.4h-4.4ZM508.2,170.3h4.4v4.4h-4.4ZM510.9,166.5h4.4v4.4h-4.4ZM521.8,160.5h4.4v4.4h-4.4ZM518.1,159.5h4.4v4.4h-4.4ZM522.5,157.7h4.4v4.4h-4.4ZM503.5,167.7h4.4v4.4h-4.4ZM507.0,173.1h4.4v4.4h-4.4ZM508.7,169.3h4.4v4.4h-4.4ZM512.8,163.5h4.4v4.4h-4.4ZM514.6,158.6h4.4v4.4h-4.4ZM505.0,169.5h4.4v4.4h-4.4ZM515.2,161.0h4.4v4.4h-4.4ZM503.5,164.2h4.4v4.4h-4.4ZM521.4,155.0h4.4v4.4h-4.4ZM513.3,161.7h4.4v4.4h-4.4ZM500.9,164.6h4.4v4.4h-4.4ZM520.8,159.1h4.4v4.4h-4.4ZM510.9,161.6h4.4v4.4h-4.4ZM517.0,157.6h4.4v4.4h-4.4ZM516.3,165.2h4.4v4.4h-4.4ZM521.2,157.6h4.4v4.4h-4.4ZM514.6,178.5h4.4v4.4h-4.4ZM515.6,152.7h4.4v4.4h-4.4ZM493.8,181.2h4.4v4.4h-4.4ZM515.5,169.0h4.4v4.4h-4.4ZM525.0,156.7h4.4v4.4h-4.4ZM516.3,160.9h4.4v4.4h-4.4ZM511.0,161.2h4.4v4.4h-4.4ZM485.4,168.8h4.4v4.4h-4.4ZM514.7,171.8h4.4v4.4h-4.4ZM496.4,192.8h4.4v4.4h-4.4ZM484.2,179.3h4.4v4.4h-4.4ZM524.5,157.8h4.4v4.4h-4.4ZM481.9,190.8h4.4v4.4h-4.4ZM489.5,192.5h4.4v4.4h-4.4ZM511.4,155.2h4.4v4.4h-4.4ZM493.5,180.7h4.4v4.4h-4.4ZM489.8,196.1h4.4v4.4h-4.4ZM488.9,177.8h4.4v4.4h-4.4ZM521.7,158.4h4.4v4.4h-4.4ZM488.3,185.4h4.4v4.4h-4.4ZM518.2,168.2h4.4v4.4h-4.4ZM489.3,167.4h4.4v4.4h-4.4ZM508.1,165.9h4.4v4.4h-4.4ZM504.4,163.3h4.4v4.4h-4.4ZM497.4,171.8h4.4v4.4h-4.4ZM482.7,191.1h4.4v4.4h-4.4ZM495.2,173.7h4.4v4.4h-4.4ZM500.5,169.1h4.4v4.4h-4.4ZM516.2,165.1h4.4v4.4h-4.4ZM510.3,169.1h4.4v4.4h-4.4Z" fill="#4f8f87" fill-opacity="0.55" stroke="#2e6c65" stroke-opacity="0.75" stroke-width="0.6"/>
</g>
<rect x="471.50" y="3.10" width="210.90" height="210.80" fill="none" stroke="#333" stroke-width="0.9"/>
<line x1="477.60" y1="213.90" x2="477.60" y2="216.70" stroke="#333" stroke-width="0.7" />
<text x="477.60" y="226.60" font-size="9" text-anchor="middle" font-weight="normal" fill="#0a0a0a" >0</text>
<line x1="468.70" y1="207.80" x2="471.50" y2="207.80" stroke="#333" stroke-width="0.7" />
<text x="466.00" y="211.00" font-size="9" text-anchor="end" font-weight="normal" fill="#0a0a0a" >0</text>
<line x1="510.96" y1="213.90" x2="510.96" y2="216.70" stroke="#333" stroke-width="0.7" />
<text x="510.96" y="226.60" font-size="9" text-anchor="middle" font-weight="normal" fill="#0a0a0a" >2</text>
<line x1="468.70" y1="174.70" x2="471.50" y2="174.70" stroke="#333" stroke-width="0.7" />
<text x="466.00" y="177.90" font-size="9" text-anchor="end" font-weight="normal" fill="#0a0a0a" >2</text>
<line x1="544.32" y1="213.90" x2="544.32" y2="216.70" stroke="#333" stroke-width="0.7" />
<text x="544.32" y="226.60" font-size="9" text-anchor="middle" font-weight="normal" fill="#0a0a0a" >4</text>
<line x1="468.70" y1="141.60" x2="471.50" y2="141.60" stroke="#333" stroke-width="0.7" />
<text x="466.00" y="144.80" font-size="9" text-anchor="end" font-weight="normal" fill="#0a0a0a" >4</text>
<line x1="577.68" y1="213.90" x2="577.68" y2="216.70" stroke="#333" stroke-width="0.7" />
<text x="577.68" y="226.60" font-size="9" text-anchor="middle" font-weight="normal" fill="#0a0a0a" >6</text>
<line x1="468.70" y1="108.50" x2="471.50" y2="108.50" stroke="#333" stroke-width="0.7" />
<text x="466.00" y="111.70" font-size="9" text-anchor="end" font-weight="normal" fill="#0a0a0a" >6</text>
<line x1="611.04" y1="213.90" x2="611.04" y2="216.70" stroke="#333" stroke-width="0.7" />
<text x="611.04" y="226.60" font-size="9" text-anchor="middle" font-weight="normal" fill="#0a0a0a" >8</text>
<line x1="468.70" y1="75.40" x2="471.50" y2="75.40" stroke="#333" stroke-width="0.7" />
<text x="466.00" y="78.60" font-size="9" text-anchor="end" font-weight="normal" fill="#0a0a0a" >8</text>
<line x1="644.40" y1="213.90" x2="644.40" y2="216.70" stroke="#333" stroke-width="0.7" />
<text x="644.40" y="226.60" font-size="9" text-anchor="middle" font-weight="normal" fill="#0a0a0a" >10</text>
<line x1="468.70" y1="42.30" x2="471.50" y2="42.30" stroke="#333" stroke-width="0.7" />
<text x="466.00" y="45.50" font-size="9" text-anchor="end" font-weight="normal" fill="#0a0a0a" >10</text>
<line x1="677.76" y1="213.90" x2="677.76" y2="216.70" stroke="#333" stroke-width="0.7" />
<text x="677.76" y="226.60" font-size="9" text-anchor="middle" font-weight="normal" fill="#0a0a0a" >12</text>
<line x1="468.70" y1="9.20" x2="471.50" y2="9.20" stroke="#333" stroke-width="0.7" />
<text x="466.00" y="12.40" font-size="9" text-anchor="end" font-weight="normal" fill="#0a0a0a" >12</text>
<text x="577.5" y="237.8" font-size="9" text-anchor="middle" fill="#0a0a0a">E<tspan font-size="6.4" dy="2">a</tspan><tspan dy="-2">(BVSE), eV</tspan></text>
<text transform="translate(450.5,108.6) rotate(-90)" font-size="9" text-anchor="middle" fill="#0a0a0a">E<tspan font-size="6.4" dy="2">a</tspan><tspan dy="-2">(GNN), eV</tspan></text>
<text x="442.60" y="9.50" font-size="14" text-anchor="start" font-weight="bold" fill="#000" >e</text>
<path d="M486.5,15.1L490.7,19.3M486.5,19.3L490.7,15.1" stroke="#b4b4b4" stroke-width="1.2" fill="none"/>
<path d="M486.1,30.0L491.1,30.0L488.6,34.5Z" fill="#deac86" fill-opacity="0.6" stroke="#d9a77f" stroke-width="0.5"/>
<rect x="486.3" y="46.3" width="4.6" height="4.6" fill="#4f8f87" fill-opacity="0.55" stroke="#2e6c65" stroke-width="0.6"/>
<line x1="479.50" y1="61.20" x2="497.00" y2="61.20" stroke="#222" stroke-width="0.8" stroke-dasharray="2.4,1.4"/>
<text x="504.4" y="20.60" font-size="9" fill="#0a0a0a">E</text>
<text x="510.6" y="22.70" font-size="6.4" font-style="italic" fill="#0a0a0a">a</text>
<text x="510.6" y="17.10" font-size="6.4" font-style="italic" fill="#0a0a0a">3D</text>
<text x="504.4" y="36.30" font-size="9" fill="#0a0a0a">E</text>
<text x="510.6" y="38.40" font-size="6.4" font-style="italic" fill="#0a0a0a">a</text>
<text x="510.6" y="32.80" font-size="6.4" font-style="italic" fill="#0a0a0a">2D</text>
<text x="504.4" y="52.00" font-size="9" fill="#0a0a0a">E</text>
<text x="510.6" y="54.10" font-size="6.4" font-style="italic" fill="#0a0a0a">a</text>
<text x="510.6" y="48.50" font-size="6.4" font-style="italic" fill="#0a0a0a">1D</text>
<text x="504.40" y="64.40" font-size="9" text-anchor="start" font-weight="normal" fill="#0a0a0a" >Perfect prediction</text>
<text x="198.50" y="357.90" font-size="14" text-anchor="start" font-weight="bold" fill="#000" >d</text>
<line x1="208.6" y1="418.4" x2="208.6" y2="402.4" stroke="#c41a1a" stroke-width="1.5"/>
<path d="M205.6,403.4 L208.6,395.09999999999997 L211.6,403.4Z" fill="#c41a1a"/>
<line x1="208.6" y1="418.4" x2="225.6" y2="417.59999999999997" stroke="#1818d8" stroke-width="1.5"/>
<path d="M224.1,415.0 L232.29999999999998,417.2 L224.1,420.0Z" fill="#1818d8"/>
<ellipse cx="212.2" cy="422.59999999999997" rx="2.9" ry="2.4" transform="rotate(35 212.2 422.59999999999997)" fill="#1f9a1f"/>
<circle cx="208.6" cy="418.4" r="2.3" fill="#a0a0a0" stroke="#777" stroke-width="0.5"/>
<text x="207.60" y="392.40" font-size="7" text-anchor="start" font-weight="bold" fill="#000" >a</text>
<text x="235.50" y="419.60" font-size="7" text-anchor="start" font-weight="bold" fill="#000" >c</text>
<text x="214.60" y="428.30" font-size="7" text-anchor="start" font-weight="bold" fill="#000" >b</text>
<path d="M246.6,362.0L252.0,361.8L278.0,361.5L284.0,356.0L287.0,351.0L292.0,349.5L297.0,352.0L300.0,357.5L326.0,357.0L350.0,356.0L355.5,357.0L356.0,374.0L347.0,377.0L346.0,404.0L354.0,407.0L356.0,420.0L354.5,436.0L346.0,440.0L344.5,448.0L344.0,456.0L339.0,458.5L333.0,456.0L331.0,450.0L300.0,462.0L275.0,462.0L268.0,463.0L257.0,463.0L256.5,452.0L253.0,444.0L247.0,439.5L246.5,418.0L250.0,416.0L252.0,411.0L250.0,405.0L241.0,403.0L241.0,397.0L252.0,397.5L258.0,398.0L263.5,393.0L263.0,386.0L256.0,379.5L246.6,378.0Z" fill="#8cc08c" stroke="none"/>
<path d="M246.6,362.0L251.0,362.0L252.0,372.0L256.0,380.0L250.0,382.0L246.6,378.0Z" fill="#5f9c60" fill-opacity="0.6"/>
<path d="M258.0,383.0L268.0,381.0L272.0,392.0L270.0,404.0L264.0,415.0L259.0,410.0L258.0,398.0Z" fill="#5f9c60" fill-opacity="0.6"/>
<path d="M278.0,362.0L284.0,362.0L288.0,372.0L282.0,378.0L278.0,372.0Z" fill="#5f9c60" fill-opacity="0.6"/>
<path d="M333.0,376.0L344.0,376.0L346.0,390.0L345.0,406.0L340.0,410.0L336.0,396.0Z" fill="#5f9c60" fill-opacity="0.6"/>
<path d="M256.0,441.0L264.0,441.0L268.0,450.0L267.0,462.0L258.0,462.0L256.5,452.0Z" fill="#5f9c60" fill-opacity="0.6"/>
<path d="M334.0,438.0L343.0,438.0L344.0,449.0L339.0,455.0Z" fill="#5f9c60" fill-opacity="0.6"/>
<path d="M254.0,405.0L266.0,404.0L270.0,415.0L262.0,420.0L252.0,418.0Z" fill="#5f9c60" fill-opacity="0.6"/>
<path d="M288.0,352.0L298.0,354.0L301.0,366.0L296.0,374.0L289.0,368.0Z" fill="#b3d5b3" fill-opacity="0.85"/>
<path d="M304.0,380.0L313.0,384.0L320.0,396.0L312.0,398.0L305.0,390.0Z" fill="#b3d5b3" fill-opacity="0.85"/>
<path d="M279.0,420.0L298.0,424.0L304.0,436.0L330.0,436.0L332.0,442.0L300.0,442.0L284.0,446.0L278.0,452.0L276.0,440.0Z" fill="#b3d5b3" fill-opacity="0.85"/>
<path d="M346.0,408.0L354.0,410.0L355.0,430.0L350.0,436.0L346.0,425.0Z" fill="#b3d5b3" fill-opacity="0.85"/>
<ellipse cx="265.0" cy="361.0" rx="14.60" ry="17.40" fill="#fff"/>
<ellipse cx="284.7" cy="361.0" rx="4.30" ry="10.50" fill="#fff"/>
<ellipse cx="311.0" cy="360.5" rx="11.80" ry="13.30" fill="#fff"/>
<ellipse cx="340.0" cy="358.0" rx="15.20" ry="16.60" fill="#fff"/>
<ellipse cx="294.5" cy="392.5" rx="15.80" ry="11.80" fill="#fff"/>
<ellipse cx="270.8" cy="388.0" rx="4.30" ry="8.00" fill="#fff"/>
<ellipse cx="319.5" cy="388.0" rx="8.60" ry="10.00" fill="#fff"/>
<ellipse cx="313.4" cy="416.0" rx="13.60" ry="15.80" fill="#fff"/>
<ellipse cx="338.5" cy="424.5" rx="14.20" ry="10.30" fill="#fff"/>
<ellipse cx="261.5" cy="430.0" rx="15.00" ry="9.60" fill="#fff"/>
<ellipse cx="280.5" cy="413.5" rx="10.50" ry="12.00" fill="#fff"/>
<path d="M268.5,467 L268.5,445 Q269,440.5 274,440.2 L326,439.8 Q331,440 331.5,445 L331.5,467 Z" fill="#fff"/>
<path d="M277.5,454 C278,445 285,441.2 296,441.2 C307,441.2 313.5,445 313.5,454" fill="none" stroke="#a9cfa9" stroke-width="3.0"/>
<path d="M251.6,363.8L326.5,358.9L326.5,418.4L251.6,422.4Z" fill="none" stroke="#777" stroke-width="0.6"/>
<line x1="268.40" y1="380.00" x2="251.60" y2="363.80" stroke="#555" stroke-width="0.6" />
<line x1="344.60" y1="375.10" x2="326.50" y2="358.90" stroke="#555" stroke-width="0.6" />
<line x1="344.60" y1="435.90" x2="326.50" y2="418.40" stroke="#555" stroke-width="0.6" />
<line x1="268.40" y1="440.00" x2="251.60" y2="422.40" stroke="#555" stroke-width="0.6" />
<path d="M268.4,380.0L344.6,375.1L344.6,435.9L268.4,440.0Z" fill="none" stroke="#444" stroke-width="0.7"/>
<defs>
<radialGradient id="gD" cx="0.45" cy="0.42" r="0.6"><stop offset="0" stop-color="#d8f8d8"/><stop offset="0.45" stop-color="#8fd48f"/><stop offset="0.8" stop-color="#5aa05a"/><stop offset="1" stop-color="#356b37"/></radialGradient>
<radialGradient id="gL" cx="0.45" cy="0.42" r="0.6"><stop offset="0" stop-color="#dcf6dc"/><stop offset="0.5" stop-color="#acdeac"/><stop offset="0.85" stop-color="#8ec68e"/><stop offset="1" stop-color="#74ac74"/></radialGradient>
<radialGradient id="pL" cx="0.42" cy="0.4" r="0.62"><stop offset="0" stop-color="#f3eef5"/><stop offset="0.5" stop-color="#cdc2d3"/><stop offset="1" stop-color="#8c7e94"/></radialGradient>
<radialGradient id="pD" cx="0.42" cy="0.4" r="0.62"><stop offset="0" stop-color="#d2c6d8"/><stop offset="0.5" stop-color="#8e7e98"/><stop offset="1" stop-color="#574860"/></radialGradient>
<radialGradient id="pW" cx="0.42" cy="0.4" r="0.62"><stop offset="0" stop-color="#ffffff"/><stop offset="0.55" stop-color="#e4e0e7"/><stop offset="1" stop-color="#b3abb8"/></radialGradient>
<radialGradient id="rD" cx="0.4" cy="0.38" r="0.62"><stop offset="0" stop-color="#ff7070"/><stop offset="0.5" stop-color="#d8161b"/><stop offset="1" stop-color="#8e0a0a"/></radialGradient>
<radialGradient id="rP" cx="0.4" cy="0.38" r="0.62"><stop offset="0" stop-color="#fde4e6"/><stop offset="0.5" stop-color="#f2aeb2"/><stop offset="1" stop-color="#d8868c"/></radialGradient>
</defs>
<path d="M224.0,265.8L297.0,262.3L297.0,321.0L224.0,323.8Z" fill="none" stroke="#aaa" stroke-width="0.6"/>
<line x1="239.30" y1="276.00" x2="224.00" y2="265.80" stroke="#888" stroke-width="0.6" />
<line x1="312.90" y1="271.50" x2="297.00" y2="262.30" stroke="#888" stroke-width="0.6" />
<line x1="312.90" y1="330.00" x2="297.00" y2="321.00" stroke="#888" stroke-width="0.6" />
<line x1="239.30" y1="334.00" x2="224.00" y2="323.80" stroke="#888" stroke-width="0.6" />
<line x1="257.1" y1="244.0" x2="259.7" y2="251.7" stroke="#eaa0a4" stroke-width="1.0"/>
<line x1="259.7" y1="251.7" x2="262.3" y2="259.3" stroke="#cfe5cf" stroke-width="1.0"/>
<line x1="221.4" y1="252.1" x2="223.5" y2="257.1" stroke="#eaa0a4" stroke-width="1.0"/>
<line x1="223.5" y1="257.1" x2="225.6" y2="262.1" stroke="#d9d0dc" stroke-width="1.0"/>
<line x1="295.0" y1="247.3" x2="292.2" y2="257.1" stroke="#eaa0a4" stroke-width="1.0"/>
<line x1="292.2" y1="257.1" x2="289.5" y2="266.8" stroke="#cfe5cf" stroke-width="1.0"/>
<line x1="295.0" y1="247.3" x2="297.2" y2="252.7" stroke="#eaa0a4" stroke-width="1.0"/>
<line x1="297.2" y1="252.7" x2="299.5" y2="258.0" stroke="#d9d0dc" stroke-width="1.0"/>
<line x1="317.3" y1="253.0" x2="308.4" y2="255.5" stroke="#eaa0a4" stroke-width="1.0"/>
<line x1="308.4" y1="255.5" x2="299.5" y2="258.0" stroke="#d9d0dc" stroke-width="1.0"/>
<line x1="225.9" y1="281.1" x2="225.8" y2="271.6" stroke="#eaa0a4" stroke-width="1.0"/>
<line x1="225.8" y1="271.6" x2="225.6" y2="262.1" stroke="#d9d0dc" stroke-width="1.0"/>
<line x1="261.3" y1="282.5" x2="256.9" y2="275.8" stroke="#eaa0a4" stroke-width="1.0"/>
<line x1="256.9" y1="275.8" x2="252.6" y2="269.0" stroke="#cfe5cf" stroke-width="1.0"/>
<line x1="261.3" y1="282.5" x2="253.8" y2="286.6" stroke="#eaa0a4" stroke-width="1.0"/>
<line x1="253.8" y1="286.6" x2="246.2" y2="290.8" stroke="#cfe5cf" stroke-width="1.0"/>
<line x1="261.3" y1="282.5" x2="267.2" y2="291.1" stroke="#eaa0a4" stroke-width="1.0"/>
<line x1="267.2" y1="291.1" x2="273.1" y2="299.8" stroke="#d9d0dc" stroke-width="1.0"/>
<line x1="299.2" y1="277.1" x2="294.4" y2="272.0" stroke="#eaa0a4" stroke-width="1.0"/>
<line x1="294.4" y1="272.0" x2="289.5" y2="266.8" stroke="#cfe5cf" stroke-width="1.0"/>
<line x1="299.2" y1="277.1" x2="291.1" y2="283.3" stroke="#eaa0a4" stroke-width="1.0"/>
<line x1="291.1" y1="283.3" x2="283.0" y2="289.5" stroke="#cfe5cf" stroke-width="1.0"/>
<line x1="299.2" y1="277.1" x2="299.4" y2="267.6" stroke="#eaa0a4" stroke-width="1.0"/>
<line x1="299.4" y1="267.6" x2="299.5" y2="258.0" stroke="#d9d0dc" stroke-width="1.0"/>
<line x1="257.0" y1="302.5" x2="251.6" y2="296.6" stroke="#eaa0a4" stroke-width="1.0"/>
<line x1="251.6" y1="296.6" x2="246.2" y2="290.8" stroke="#cfe5cf" stroke-width="1.0"/>
<line x1="257.0" y1="302.5" x2="246.8" y2="302.1" stroke="#eaa0a4" stroke-width="1.0"/>
<line x1="246.8" y1="302.1" x2="236.5" y2="301.8" stroke="#cfe5cf" stroke-width="1.0"/>
<line x1="257.0" y1="302.5" x2="259.3" y2="309.8" stroke="#eaa0a4" stroke-width="1.0"/>
<line x1="259.3" y1="309.8" x2="261.6" y2="317.0" stroke="#cfe5cf" stroke-width="1.0"/>
<line x1="257.0" y1="302.5" x2="265.1" y2="301.1" stroke="#eaa0a4" stroke-width="1.0"/>
<line x1="265.1" y1="301.1" x2="273.1" y2="299.8" stroke="#d9d0dc" stroke-width="1.0"/>
<line x1="221.0" y1="310.4" x2="228.8" y2="306.1" stroke="#eaa0a4" stroke-width="1.0"/>
<line x1="228.8" y1="306.1" x2="236.5" y2="301.8" stroke="#cfe5cf" stroke-width="1.0"/>
<line x1="221.0" y1="310.4" x2="223.2" y2="315.5" stroke="#eaa0a4" stroke-width="1.0"/>
<line x1="223.2" y1="315.5" x2="225.3" y2="320.6" stroke="#d9d0dc" stroke-width="1.0"/>
<line x1="294.2" y1="305.8" x2="288.6" y2="297.6" stroke="#eaa0a4" stroke-width="1.0"/>
<line x1="288.6" y1="297.6" x2="283.0" y2="289.5" stroke="#cfe5cf" stroke-width="1.0"/>
<line x1="294.2" y1="305.8" x2="302.4" y2="301.3" stroke="#eaa0a4" stroke-width="1.0"/>
<line x1="302.4" y1="301.3" x2="310.5" y2="296.8" stroke="#cfe5cf" stroke-width="1.0"/>
<line x1="294.2" y1="305.8" x2="291.5" y2="315.2" stroke="#eaa0a4" stroke-width="1.0"/>
<line x1="291.5" y1="315.2" x2="288.8" y2="324.7" stroke="#cfe5cf" stroke-width="1.0"/>
<line x1="294.2" y1="305.8" x2="296.6" y2="311.1" stroke="#eaa0a4" stroke-width="1.0"/>
<line x1="296.6" y1="311.1" x2="299.1" y2="316.4" stroke="#d9d0dc" stroke-width="1.0"/>
<line x1="316.8" y1="311.5" x2="313.6" y2="304.1" stroke="#eaa0a4" stroke-width="1.0"/>
<line x1="313.6" y1="304.1" x2="310.5" y2="296.8" stroke="#cfe5cf" stroke-width="1.0"/>
<line x1="316.8" y1="311.5" x2="308.0" y2="313.9" stroke="#eaa0a4" stroke-width="1.0"/>
<line x1="308.0" y1="313.9" x2="299.1" y2="316.4" stroke="#d9d0dc" stroke-width="1.0"/>
<line x1="243.1" y1="315.9" x2="239.8" y2="308.9" stroke="#eaa0a4" stroke-width="1.0"/>
<line x1="239.8" y1="308.9" x2="236.5" y2="301.8" stroke="#cfe5cf" stroke-width="1.0"/>
<line x1="243.1" y1="315.9" x2="252.4" y2="316.4" stroke="#eaa0a4" stroke-width="1.0"/>
<line x1="252.4" y1="316.4" x2="261.6" y2="317.0" stroke="#cfe5cf" stroke-width="1.0"/>
<line x1="243.1" y1="315.9" x2="247.6" y2="321.6" stroke="#eaa0a4" stroke-width="1.0"/>
<line x1="247.6" y1="321.6" x2="252.0" y2="327.3" stroke="#cfe5cf" stroke-width="1.0"/>
<line x1="243.1" y1="315.9" x2="234.2" y2="318.2" stroke="#eaa0a4" stroke-width="1.0"/>
<line x1="234.2" y1="318.2" x2="225.3" y2="320.6" stroke="#d9d0dc" stroke-width="1.0"/>
<line x1="285.9" y1="313.0" x2="287.4" y2="318.9" stroke="#eaa0a4" stroke-width="1.0"/>
<line x1="287.4" y1="318.9" x2="288.8" y2="324.7" stroke="#cfe5cf" stroke-width="1.0"/>
<line x1="285.9" y1="313.0" x2="279.5" y2="306.4" stroke="#eaa0a4" stroke-width="1.0"/>
<line x1="279.5" y1="306.4" x2="273.1" y2="299.8" stroke="#d9d0dc" stroke-width="1.0"/>
<line x1="285.9" y1="313.0" x2="292.5" y2="314.7" stroke="#eaa0a4" stroke-width="1.0"/>
<line x1="292.5" y1="314.7" x2="299.1" y2="316.4" stroke="#d9d0dc" stroke-width="1.0"/>
<line x1="225.5" y1="339.4" x2="225.4" y2="330.0" stroke="#eaa0a4" stroke-width="1.0"/>
<line x1="225.4" y1="330.0" x2="225.3" y2="320.6" stroke="#d9d0dc" stroke-width="1.0"/>
<line x1="261.0" y1="339.8" x2="256.5" y2="333.6" stroke="#eaa0a4" stroke-width="1.0"/>
<line x1="256.5" y1="333.6" x2="252.0" y2="327.3" stroke="#cfe5cf" stroke-width="1.0"/>
<line x1="299.1" y1="335.2" x2="294.0" y2="329.9" stroke="#eaa0a4" stroke-width="1.0"/>
<line x1="294.0" y1="329.9" x2="288.8" y2="324.7" stroke="#cfe5cf" stroke-width="1.0"/>
<line x1="299.1" y1="335.2" x2="299.1" y2="325.8" stroke="#eaa0a4" stroke-width="1.0"/>
<line x1="299.1" y1="325.8" x2="299.1" y2="316.4" stroke="#d9d0dc" stroke-width="1.0"/>
<circle cx="262.3" cy="259.3" r="7.6" fill="url(#gL)"/>
<circle cx="246.2" cy="290.8" r="7.6" fill="url(#gL)"/>
<circle cx="283" cy="289.5" r="7.6" fill="url(#gL)"/>
<circle cx="261.6" cy="317" r="7.6" fill="url(#gL)"/>
<circle cx="257.1" cy="244" r="2.1" fill="url(#rP)"/>
<circle cx="221.4" cy="252.1" r="2.1" fill="url(#rP)"/>
<circle cx="295" cy="247.3" r="2.1" fill="url(#rP)"/>
<circle cx="317.3" cy="253" r="2.1" fill="url(#rP)"/>
<circle cx="225.9" cy="281.1" r="2.1" fill="url(#rP)"/>
<circle cx="261.3" cy="282.5" r="2.1" fill="url(#rP)"/>
<circle cx="299.2" cy="277.1" r="2.1" fill="url(#rP)"/>
<circle cx="257" cy="302.5" r="2.1" fill="url(#rP)"/>
<circle cx="221" cy="310.4" r="2.1" fill="url(#rP)"/>
<circle cx="294.2" cy="305.8" r="2.1" fill="url(#rP)"/>
<circle cx="316.8" cy="311.5" r="2.1" fill="url(#rP)"/>
<circle cx="243.1" cy="315.9" r="2.1" fill="url(#rP)"/>
<circle cx="285.9" cy="313" r="2.1" fill="url(#rP)"/>
<circle cx="225.5" cy="339.4" r="2.1" fill="url(#rP)"/>
<circle cx="261" cy="339.8" r="2.1" fill="url(#rP)"/>
<circle cx="299.1" cy="335.2" r="2.1" fill="url(#rP)"/>
<line x1="212.9" y1="259.4" x2="219.2" y2="260.8" stroke="#d03a3a" stroke-width="1.1"/>
<line x1="219.2" y1="260.8" x2="225.6" y2="262.1" stroke="#a898ae" stroke-width="1.1"/>
<line x1="243.7" y1="257.6" x2="248.1" y2="263.3" stroke="#d03a3a" stroke-width="1.1"/>
<line x1="248.1" y1="263.3" x2="252.6" y2="269.0" stroke="#8fbf8f" stroke-width="1.1"/>
<line x1="243.7" y1="257.6" x2="253.0" y2="258.5" stroke="#d03a3a" stroke-width="1.1"/>
<line x1="253.0" y1="258.5" x2="262.3" y2="259.3" stroke="#8fbf8f" stroke-width="1.1"/>
<line x1="243.7" y1="257.6" x2="234.6" y2="259.9" stroke="#d03a3a" stroke-width="1.1"/>
<line x1="234.6" y1="259.9" x2="225.6" y2="262.1" stroke="#a898ae" stroke-width="1.1"/>
<line x1="238.1" y1="268.4" x2="245.3" y2="268.7" stroke="#d03a3a" stroke-width="1.1"/>
<line x1="245.3" y1="268.7" x2="252.6" y2="269.0" stroke="#8fbf8f" stroke-width="1.1"/>
<line x1="238.1" y1="268.4" x2="242.1" y2="279.6" stroke="#d03a3a" stroke-width="1.1"/>
<line x1="242.1" y1="279.6" x2="246.2" y2="290.8" stroke="#8fbf8f" stroke-width="1.1"/>
<line x1="238.1" y1="268.4" x2="231.8" y2="265.2" stroke="#d03a3a" stroke-width="1.1"/>
<line x1="231.8" y1="265.2" x2="225.6" y2="262.1" stroke="#a898ae" stroke-width="1.1"/>
<line x1="273.2" y1="260.2" x2="262.9" y2="264.6" stroke="#d03a3a" stroke-width="1.1"/>
<line x1="262.9" y1="264.6" x2="252.6" y2="269.0" stroke="#8fbf8f" stroke-width="1.1"/>
<line x1="273.2" y1="260.2" x2="267.8" y2="259.8" stroke="#d03a3a" stroke-width="1.1"/>
<line x1="267.8" y1="259.8" x2="262.3" y2="259.3" stroke="#8fbf8f" stroke-width="1.1"/>
<line x1="273.2" y1="260.2" x2="281.4" y2="263.5" stroke="#d03a3a" stroke-width="1.1"/>
<line x1="281.4" y1="263.5" x2="289.5" y2="266.8" stroke="#8fbf8f" stroke-width="1.1"/>
<line x1="286.3" y1="255.1" x2="274.3" y2="257.2" stroke="#d03a3a" stroke-width="1.1"/>
<line x1="274.3" y1="257.2" x2="262.3" y2="259.3" stroke="#8fbf8f" stroke-width="1.1"/>
<line x1="286.3" y1="255.1" x2="287.9" y2="260.9" stroke="#d03a3a" stroke-width="1.1"/>
<line x1="287.9" y1="260.9" x2="289.5" y2="266.8" stroke="#8fbf8f" stroke-width="1.1"/>
<line x1="286.3" y1="255.1" x2="292.9" y2="256.6" stroke="#d03a3a" stroke-width="1.1"/>
<line x1="292.9" y1="256.6" x2="299.5" y2="258.0" stroke="#a898ae" stroke-width="1.1"/>
<line x1="311.4" y1="263.9" x2="300.4" y2="265.4" stroke="#d03a3a" stroke-width="1.1"/>
<line x1="300.4" y1="265.4" x2="289.5" y2="266.8" stroke="#8fbf8f" stroke-width="1.1"/>
<line x1="311.4" y1="263.9" x2="305.4" y2="260.9" stroke="#d03a3a" stroke-width="1.1"/>
<line x1="305.4" y1="260.9" x2="299.5" y2="258.0" stroke="#a898ae" stroke-width="1.1"/>
<line x1="255.6" y1="292.6" x2="254.1" y2="280.8" stroke="#d03a3a" stroke-width="1.1"/>
<line x1="254.1" y1="280.8" x2="252.6" y2="269.0" stroke="#8fbf8f" stroke-width="1.1"/>
<line x1="255.6" y1="292.6" x2="250.9" y2="291.7" stroke="#d03a3a" stroke-width="1.1"/>
<line x1="250.9" y1="291.7" x2="246.2" y2="290.8" stroke="#8fbf8f" stroke-width="1.1"/>
<line x1="255.6" y1="292.6" x2="246.1" y2="297.2" stroke="#d03a3a" stroke-width="1.1"/>
<line x1="246.1" y1="297.2" x2="236.5" y2="301.8" stroke="#8fbf8f" stroke-width="1.1"/>
<line x1="255.6" y1="292.6" x2="264.4" y2="296.2" stroke="#d03a3a" stroke-width="1.1"/>
<line x1="264.4" y1="296.2" x2="273.1" y2="299.8" stroke="#a898ae" stroke-width="1.1"/>
<line x1="242.1" y1="298.0" x2="244.1" y2="294.4" stroke="#d03a3a" stroke-width="1.1"/>
<line x1="244.1" y1="294.4" x2="246.2" y2="290.8" stroke="#8fbf8f" stroke-width="1.1"/>
<line x1="242.1" y1="298.0" x2="239.3" y2="299.9" stroke="#d03a3a" stroke-width="1.1"/>
<line x1="239.3" y1="299.9" x2="236.5" y2="301.8" stroke="#8fbf8f" stroke-width="1.1"/>
<line x1="212.6" y1="295.1" x2="224.6" y2="298.5" stroke="#d03a3a" stroke-width="1.1"/>
<line x1="224.6" y1="298.5" x2="236.5" y2="301.8" stroke="#8fbf8f" stroke-width="1.1"/>
<line x1="286.4" y1="290.8" x2="287.9" y2="278.8" stroke="#d03a3a" stroke-width="1.1"/>
<line x1="287.9" y1="278.8" x2="289.5" y2="266.8" stroke="#8fbf8f" stroke-width="1.1"/>
<line x1="286.4" y1="290.8" x2="284.7" y2="290.1" stroke="#d03a3a" stroke-width="1.1"/>
<line x1="284.7" y1="290.1" x2="283.0" y2="289.5" stroke="#8fbf8f" stroke-width="1.1"/>
<line x1="286.4" y1="290.8" x2="298.4" y2="293.8" stroke="#d03a3a" stroke-width="1.1"/>
<line x1="298.4" y1="293.8" x2="310.5" y2="296.8" stroke="#8fbf8f" stroke-width="1.1"/>
<line x1="286.4" y1="290.8" x2="279.8" y2="295.3" stroke="#d03a3a" stroke-width="1.1"/>
<line x1="279.8" y1="295.3" x2="273.1" y2="299.8" stroke="#a898ae" stroke-width="1.1"/>
<line x1="277.9" y1="298.7" x2="280.4" y2="294.1" stroke="#d03a3a" stroke-width="1.1"/>
<line x1="280.4" y1="294.1" x2="283.0" y2="289.5" stroke="#8fbf8f" stroke-width="1.1"/>
<line x1="277.9" y1="298.7" x2="269.8" y2="307.9" stroke="#d03a3a" stroke-width="1.1"/>
<line x1="269.8" y1="307.9" x2="261.6" y2="317.0" stroke="#8fbf8f" stroke-width="1.1"/>
<line x1="277.9" y1="298.7" x2="275.5" y2="299.2" stroke="#d03a3a" stroke-width="1.1"/>
<line x1="275.5" y1="299.2" x2="273.1" y2="299.8" stroke="#a898ae" stroke-width="1.1"/>
<line x1="315.6" y1="293.1" x2="313.1" y2="295.0" stroke="#d03a3a" stroke-width="1.1"/>
<line x1="313.1" y1="295.0" x2="310.5" y2="296.8" stroke="#8fbf8f" stroke-width="1.1"/>
<line x1="212.6" y1="317.6" x2="218.9" y2="319.1" stroke="#d03a3a" stroke-width="1.1"/>
<line x1="218.9" y1="319.1" x2="225.3" y2="320.6" stroke="#a898ae" stroke-width="1.1"/>
<line x1="237.2" y1="326.5" x2="236.8" y2="314.1" stroke="#d03a3a" stroke-width="1.1"/>
<line x1="236.8" y1="314.1" x2="236.5" y2="301.8" stroke="#8fbf8f" stroke-width="1.1"/>
<line x1="237.2" y1="326.5" x2="244.6" y2="326.9" stroke="#d03a3a" stroke-width="1.1"/>
<line x1="244.6" y1="326.9" x2="252.0" y2="327.3" stroke="#8fbf8f" stroke-width="1.1"/>
<line x1="237.2" y1="326.5" x2="231.2" y2="323.6" stroke="#d03a3a" stroke-width="1.1"/>
<line x1="231.2" y1="323.6" x2="225.3" y2="320.6" stroke="#a898ae" stroke-width="1.1"/>
<line x1="272.9" y1="318.7" x2="267.2" y2="317.9" stroke="#d03a3a" stroke-width="1.1"/>
<line x1="267.2" y1="317.9" x2="261.6" y2="317.0" stroke="#8fbf8f" stroke-width="1.1"/>
<line x1="272.9" y1="318.7" x2="262.4" y2="323.0" stroke="#d03a3a" stroke-width="1.1"/>
<line x1="262.4" y1="323.0" x2="252.0" y2="327.3" stroke="#8fbf8f" stroke-width="1.1"/>
<line x1="272.9" y1="318.7" x2="280.9" y2="321.7" stroke="#d03a3a" stroke-width="1.1"/>
<line x1="280.9" y1="321.7" x2="288.8" y2="324.7" stroke="#8fbf8f" stroke-width="1.1"/>
<line x1="272.9" y1="318.7" x2="273.0" y2="309.2" stroke="#d03a3a" stroke-width="1.1"/>
<line x1="273.0" y1="309.2" x2="273.1" y2="299.8" stroke="#a898ae" stroke-width="1.1"/>
<line x1="310.8" y1="322.1" x2="299.8" y2="323.4" stroke="#d03a3a" stroke-width="1.1"/>
<line x1="299.8" y1="323.4" x2="288.8" y2="324.7" stroke="#8fbf8f" stroke-width="1.1"/>
<line x1="310.8" y1="322.1" x2="305.0" y2="319.2" stroke="#d03a3a" stroke-width="1.1"/>
<line x1="305.0" y1="319.2" x2="299.1" y2="316.4" stroke="#a898ae" stroke-width="1.1"/>
<line x1="254.6" y1="349.5" x2="253.3" y2="338.4" stroke="#d03a3a" stroke-width="1.1"/>
<line x1="253.3" y1="338.4" x2="252.0" y2="327.3" stroke="#8fbf8f" stroke-width="1.1"/>
<line x1="286.2" y1="348.7" x2="287.5" y2="336.7" stroke="#d03a3a" stroke-width="1.1"/>
<line x1="287.5" y1="336.7" x2="288.8" y2="324.7" stroke="#8fbf8f" stroke-width="1.1"/>
<line x1="329.3" y1="288.2" x2="319.9" y2="292.5" stroke="#d03a3a" stroke-width="1.1"/>
<line x1="319.9" y1="292.5" x2="310.5" y2="296.8" stroke="#8fbf8f" stroke-width="1.1"/>
<circle cx="225.6" cy="262.1" r="5.4" fill="url(#pL)"/>
<circle cx="299.5" cy="258" r="5.4" fill="url(#pL)"/>
<circle cx="225.3" cy="320.6" r="5.4" fill="url(#pL)"/>
<circle cx="299.1" cy="316.4" r="5.4" fill="url(#pW)"/>
<path d="M239.3,276.0L312.9,271.5L312.9,330.0L239.3,334.0Z" fill="none" stroke="#666" stroke-width="0.7"/>
<circle cx="252.6" cy="269" r="7.7" fill="url(#gD)"/>
<circle cx="289.5" cy="266.8" r="7.7" fill="url(#gD)"/>
<circle cx="236.5" cy="301.8" r="7.7" fill="url(#gD)"/>
<circle cx="310.5" cy="296.8" r="7.7" fill="url(#gD)"/>
<circle cx="252" cy="327.3" r="7.7" fill="url(#gD)"/>
<circle cx="288.8" cy="324.7" r="7.7" fill="url(#gD)"/>
<circle cx="273.1" cy="299.8" r="5.4" fill="url(#pD)"/>
<circle cx="212.9" cy="259.4" r="2.2" fill="url(#rD)"/>
<circle cx="243.7" cy="257.6" r="2.2" fill="url(#rD)"/>
<circle cx="238.1" cy="268.4" r="2.2" fill="url(#rD)"/>
<circle cx="273.2" cy="260.2" r="2.2" fill="url(#rD)"/>
<circle cx="286.3" cy="255.1" r="2.2" fill="url(#rD)"/>
<circle cx="311.4" cy="263.9" r="2.2" fill="url(#rD)"/>
<circle cx="255.6" cy="292.6" r="2.2" fill="url(#rD)"/>
<circle cx="242.1" cy="298" r="2.2" fill="url(#rD)"/>
<circle cx="212.6" cy="295.1" r="2.2" fill="url(#rD)"/>
<circle cx="286.4" cy="290.8" r="2.2" fill="url(#rD)"/>
<circle cx="277.9" cy="298.7" r="2.2" fill="url(#rD)"/>
<circle cx="315.6" cy="293.1" r="2.2" fill="url(#rD)"/>
<circle cx="212.6" cy="317.6" r="2.2" fill="url(#rD)"/>
<circle cx="237.2" cy="326.5" r="2.2" fill="url(#rD)"/>
<circle cx="272.9" cy="318.7" r="2.2" fill="url(#rD)"/>
<circle cx="310.8" cy="322.1" r="2.2" fill="url(#rD)"/>
<circle cx="254.6" cy="349.5" r="2.2" fill="url(#rD)"/>
<circle cx="286.2" cy="348.7" r="2.2" fill="url(#rD)"/>
<circle cx="329.3" cy="288.2" r="2.2" fill="url(#rD)"/>
<text x="198.30" y="275.50" font-size="14" text-anchor="start" font-weight="bold" fill="#000" >c</text>
<rect x="426.60" y="278.90" width="102.48" height="16.8" fill="#82b2ac"/>
<rect x="426.60" y="300.70" width="24.34" height="16.8" fill="#82b2ac"/>
<rect x="426.60" y="322.30" width="22.47" height="16.8" fill="#82b2ac"/>
<rect x="426.60" y="344.00" width="16.37" height="16.8" fill="#82b2ac"/>
<rect x="426.60" y="365.60" width="15.23" height="16.8" fill="#82b2ac"/>
<rect x="426.60" y="387.20" width="14.47" height="16.8" fill="#82b2ac"/>
<rect x="426.60" y="408.70" width="13.90" height="16.8" fill="#82b2ac"/>
<line x1="464.50" y1="271.60" x2="464.50" y2="432.80" stroke="#ffffff" stroke-width="0.9" opacity="0.7"/>
<line x1="502.60" y1="271.60" x2="502.60" y2="432.80" stroke="#ffffff" stroke-width="0.9" opacity="0.7"/>
<rect x="426.60" y="271.60" width="107.00" height="161.20" fill="none" stroke="#333" stroke-width="0.9"/>
<line x1="424.10" y1="287.30" x2="426.60" y2="287.30" stroke="#333" stroke-width="0.7" />
<text x="421.20" y="286.30" font-size="8.1" text-anchor="end" font-weight="normal" fill="#0a0a0a" >Covalent free</text>
<text x="421.20" y="295.10" font-size="8.1" text-anchor="end" font-weight="normal" fill="#0a0a0a" >space fraction</text>
<line x1="424.10" y1="309.10" x2="426.60" y2="309.10" stroke="#333" stroke-width="0.7" />
<text x="421.20" y="308.10" font-size="8.1" text-anchor="end" font-weight="normal" fill="#0a0a0a" >Ionic radii of</text>
<text x="421.20" y="316.90" font-size="8.1" text-anchor="end" font-weight="normal" fill="#0a0a0a" >Li adjacent anions</text>
<line x1="424.10" y1="330.70" x2="426.60" y2="330.70" stroke="#333" stroke-width="0.7" />
<text x="421.20" y="329.70" font-size="8.1" text-anchor="end" font-weight="normal" fill="#0a0a0a" >Li coordination</text>
<text x="421.20" y="338.50" font-size="8.1" text-anchor="end" font-weight="normal" fill="#0a0a0a" >number</text>
<line x1="424.10" y1="352.40" x2="426.60" y2="352.40" stroke="#333" stroke-width="0.7" />
<text x="421.20" y="351.40" font-size="8.1" text-anchor="end" font-weight="normal" fill="#0a0a0a" >Voronoi volume of</text>
<text x="421.20" y="360.20" font-size="8.1" text-anchor="end" font-weight="normal" fill="#0a0a0a" >framework ions</text>
<line x1="424.10" y1="374.00" x2="426.60" y2="374.00" stroke="#333" stroke-width="0.7" />
<text x="421.20" y="373.00" font-size="8.1" text-anchor="end" font-weight="normal" fill="#0a0a0a" >Valence of Li</text>
<text x="421.20" y="381.80" font-size="8.1" text-anchor="end" font-weight="normal" fill="#0a0a0a" >adjacent anions</text>
<line x1="424.10" y1="395.60" x2="426.60" y2="395.60" stroke="#333" stroke-width="0.7" />
<text x="421.20" y="394.60" font-size="8.1" text-anchor="end" font-weight="normal" fill="#0a0a0a" >Voronoi volume of</text>
<text x="421.20" y="403.40" font-size="8.1" text-anchor="end" font-weight="normal" fill="#0a0a0a" >Li transition states</text>
<line x1="424.10" y1="417.10" x2="426.60" y2="417.10" stroke="#333" stroke-width="0.7" />
<text x="421.20" y="420.50" font-size="8.1" text-anchor="end" font-weight="normal" fill="#0a0a0a" >Volume per atom</text>
<line x1="426.40" y1="432.80" x2="426.40" y2="435.60" stroke="#333" stroke-width="0.7" />
<text x="426.40" y="444.20" font-size="8.15" text-anchor="middle" font-weight="normal" fill="#0a0a0a" >0.0</text>
<line x1="464.50" y1="432.80" x2="464.50" y2="435.60" stroke="#333" stroke-width="0.7" />
<text x="464.50" y="444.20" font-size="8.15" text-anchor="middle" font-weight="normal" fill="#0a0a0a" >0.1</text>
<line x1="502.60" y1="432.80" x2="502.60" y2="435.60" stroke="#333" stroke-width="0.7" />
<text x="502.60" y="444.20" font-size="8.15" text-anchor="middle" font-weight="normal" fill="#0a0a0a" >0.2</text>
<text x="480.10" y="454.80" font-size="8.15" text-anchor="middle" font-weight="normal" fill="#0a0a0a" >Feature importance</text>
<text x="408.00" y="276.30" font-size="14" text-anchor="start" font-weight="bold" fill="#000" >f</text>
<clipPath id="cg"><rect x="576.5" y="271.6" width="107.10000000000002" height="161.2"/></clipPath>
<g clip-path="url(#cg)">
<path d="M576.50,350.00L579.74,332.00L582.98,313.00L586.22,300.00L589.46,290.00L592.70,284.00L595.94,280.30L599.18,286.00L602.42,284.50L605.66,283.70L608.90,283.20L615.38,282.60L625.10,282.20L641.30,281.40L657.50,280.50L673.70,279.80L683.42,279.40L683.42,291.10L673.70,291.50L657.50,292.20L641.30,292.80L625.10,293.60L615.38,294.20L608.90,295.00L605.66,296.00L602.42,297.60L599.18,301.00L595.94,309.00L592.70,313.00L589.46,317.00L586.22,326.00L582.98,350.00L579.74,386.00L576.50,434.00Z" fill="#92c2bc" fill-opacity="0.5" stroke="none"/>
<path d="M576.50,371.40L579.74,356.20L582.98,329.30L586.22,312.20L589.46,303.20L592.70,298.60L595.94,297.00L599.18,295.10L602.42,290.60L605.66,289.30L608.90,288.30L612.14,287.60L615.38,287.10L618.62,287.01L621.86,286.92L625.10,286.83L628.34,286.74L631.58,286.65L634.82,286.56L638.06,286.47L641.30,286.38L644.54,286.29L647.78,286.20L651.02,286.10L654.26,286.01L657.50,285.92L660.74,285.83L663.98,285.74L667.22,285.65L670.46,285.56L673.70,285.47L676.94,285.38L680.18,285.29L683.42,285.20" fill="none" stroke="#3a7a72" stroke-width="1.0"/>
<path d="M574.20,369.10h4.6v4.6h-4.6ZM577.44,353.90h4.6v4.6h-4.6ZM580.68,327.00h4.6v4.6h-4.6ZM583.92,309.90h4.6v4.6h-4.6ZM587.16,300.90h4.6v4.6h-4.6ZM590.40,296.30h4.6v4.6h-4.6ZM593.64,294.70h4.6v4.6h-4.6ZM596.88,292.80h4.6v4.6h-4.6ZM600.12,288.30h4.6v4.6h-4.6ZM603.36,287.00h4.6v4.6h-4.6ZM606.60,286.00h4.6v4.6h-4.6ZM609.84,285.30h4.6v4.6h-4.6ZM613.08,284.80h4.6v4.6h-4.6ZM616.32,284.71h4.6v4.6h-4.6ZM619.56,284.62h4.6v4.6h-4.6ZM622.80,284.53h4.6v4.6h-4.6ZM626.04,284.44h4.6v4.6h-4.6ZM629.28,284.35h4.6v4.6h-4.6ZM632.52,284.26h4.6v4.6h-4.6ZM635.76,284.17h4.6v4.6h-4.6ZM639.00,284.08h4.6v4.6h-4.6ZM642.24,283.99h4.6v4.6h-4.6ZM645.48,283.90h4.6v4.6h-4.6ZM648.72,283.80h4.6v4.6h-4.6ZM651.96,283.71h4.6v4.6h-4.6ZM655.20,283.62h4.6v4.6h-4.6ZM658.44,283.53h4.6v4.6h-4.6ZM661.68,283.44h4.6v4.6h-4.6ZM664.92,283.35h4.6v4.6h-4.6ZM668.16,283.26h4.6v4.6h-4.6ZM671.40,283.17h4.6v4.6h-4.6ZM674.64,283.08h4.6v4.6h-4.6ZM677.88,282.99h4.6v4.6h-4.6ZM681.12,282.90h4.6v4.6h-4.6Z" fill="#4a8a82" fill-opacity="0.72" stroke="#2f6d66" stroke-opacity="0.85" stroke-width="0.6"/>
</g>
<rect x="576.50" y="271.60" width="107.10" height="161.20" fill="none" stroke="#333" stroke-width="0.9"/>
<line x1="573.70" y1="293.30" x2="576.50" y2="293.30" stroke="#333" stroke-width="0.7" />
<text x="572.00" y="296.40" font-size="8.15" text-anchor="end" font-weight="normal" fill="#0a0a0a" >−0.1</text>
<line x1="573.70" y1="323.25" x2="576.50" y2="323.25" stroke="#333" stroke-width="0.7" />
<text x="572.00" y="326.35" font-size="8.15" text-anchor="end" font-weight="normal" fill="#0a0a0a" >−0.2</text>
<line x1="573.70" y1="353.20" x2="576.50" y2="353.20" stroke="#333" stroke-width="0.7" />
<text x="572.00" y="356.30" font-size="8.15" text-anchor="end" font-weight="normal" fill="#0a0a0a" >−0.3</text>
<line x1="573.70" y1="383.15" x2="576.50" y2="383.15" stroke="#333" stroke-width="0.7" />
<text x="572.00" y="386.25" font-size="8.15" text-anchor="end" font-weight="normal" fill="#0a0a0a" >−0.4</text>
<line x1="573.70" y1="413.10" x2="576.50" y2="413.10" stroke="#333" stroke-width="0.7" />
<text x="572.00" y="416.20" font-size="8.15" text-anchor="end" font-weight="normal" fill="#0a0a0a" >−0.5</text>
<line x1="576.50" y1="432.80" x2="576.50" y2="435.60" stroke="#333" stroke-width="0.7" />
<text x="576.50" y="444.20" font-size="8.15" text-anchor="middle" font-weight="normal" fill="#0a0a0a" >0</text>
<line x1="608.90" y1="432.80" x2="608.90" y2="435.60" stroke="#333" stroke-width="0.7" />
<text x="608.90" y="444.20" font-size="8.15" text-anchor="middle" font-weight="normal" fill="#0a0a0a" >10</text>
<line x1="641.30" y1="432.80" x2="641.30" y2="435.60" stroke="#333" stroke-width="0.7" />
<text x="641.30" y="444.20" font-size="8.15" text-anchor="middle" font-weight="normal" fill="#0a0a0a" >20</text>
<line x1="673.70" y1="432.80" x2="673.70" y2="435.60" stroke="#333" stroke-width="0.7" />
<text x="673.70" y="444.20" font-size="8.15" text-anchor="middle" font-weight="normal" fill="#0a0a0a" >30</text>
<text x="629.70" y="454.80" font-size="8.15" text-anchor="middle" font-weight="normal" fill="#0a0a0a" >Number of features</text>
<text transform="translate(551.0,352.6) rotate(-90)" font-size="8.0" text-anchor="middle" fill="#0a0a0a">Negative MSE, eV<tspan font-size="6.6" dy="-3.4">2</tspan></text>
<text x="560.00" y="273.60" font-size="14" text-anchor="start" font-weight="bold" fill="#000" >g</text>
</svg>
</body></html>
